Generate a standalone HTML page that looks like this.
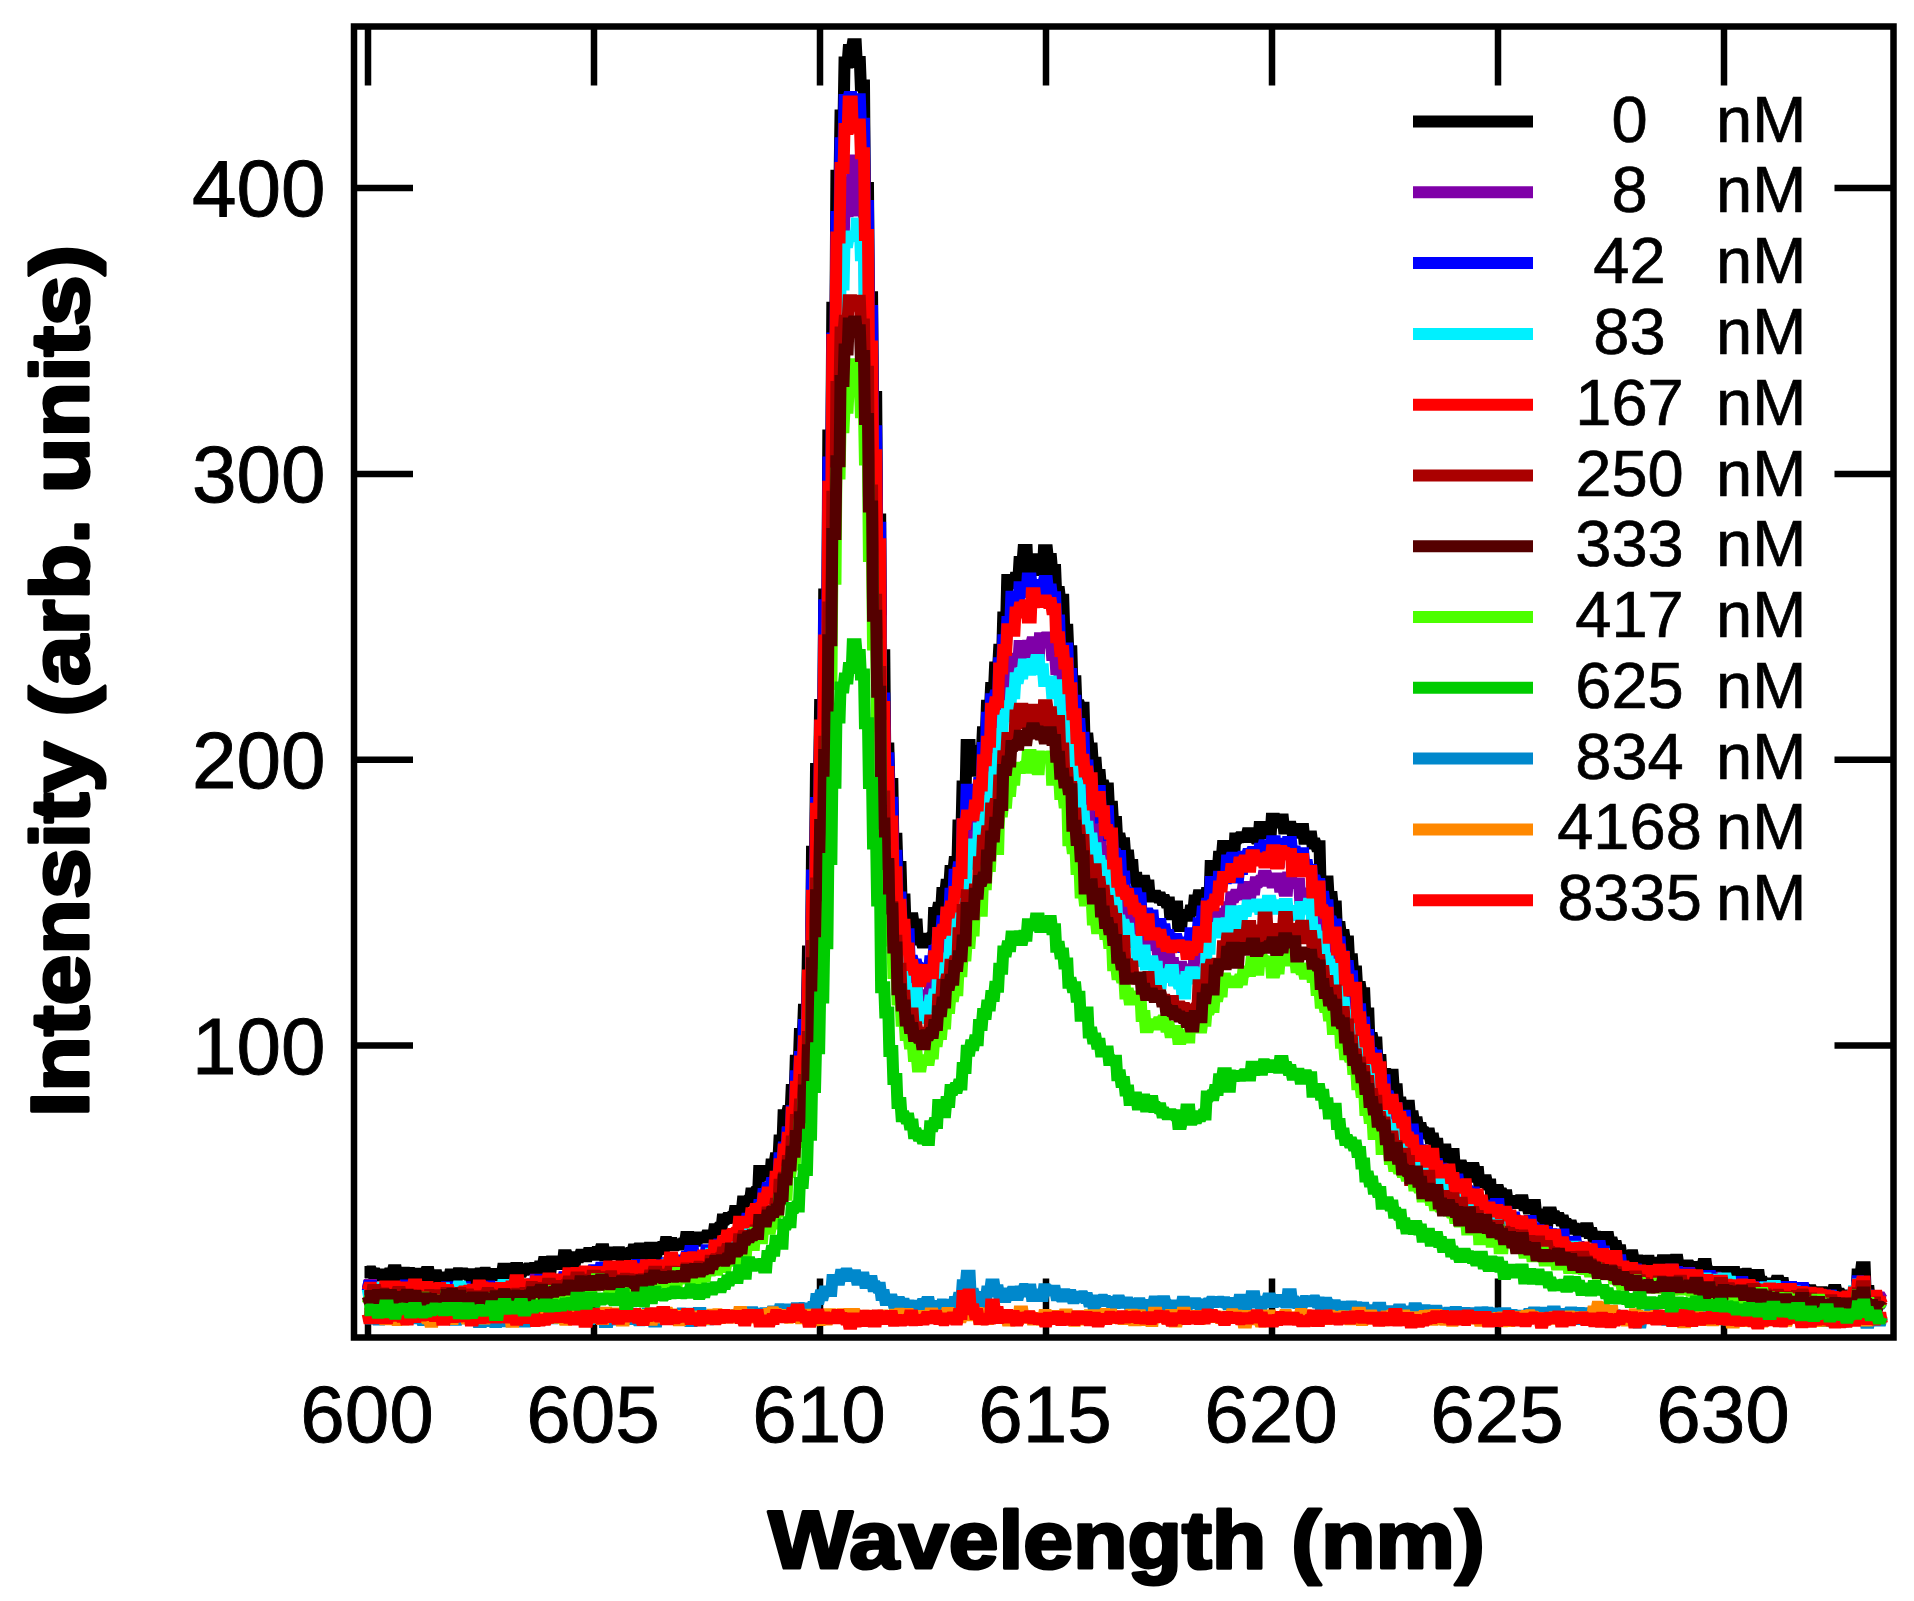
<!DOCTYPE html>
<html><head><meta charset="utf-8"><title>Emission spectra</title>
<style>html,body{margin:0;padding:0;background:#fff;} svg{display:block;}</style>
</head><body>
<svg width="1914" height="1601" viewBox="0 0 1914 1601">
<rect x="0" y="0" width="1914" height="1601" fill="#fff"/>
<path d="M368.0,26.5V85.5M368.0,1337.5V1278.5M594.0,26.5V85.5M594.0,1337.5V1278.5M820.0,26.5V85.5M820.0,1337.5V1278.5M1046.0,26.5V85.5M1046.0,1337.5V1278.5M1272.0,26.5V85.5M1272.0,1337.5V1278.5M1498.0,26.5V85.5M1498.0,1337.5V1278.5M1724.0,26.5V85.5M1724.0,1337.5V1278.5M354.0,1045.5H413.0M1893.5,1045.5H1834.5M354.0,759.7H413.0M1893.5,759.7H1834.5M354.0,473.9H413.0M1893.5,473.9H1834.5M354.0,188.1H413.0M1893.5,188.1H1834.5" stroke="#000" stroke-width="6.5" fill="none"/>
<rect x="354.0" y="26.5" width="1539.5" height="1311.0" fill="none" stroke="#000" stroke-width="6.5"/>
<g fill="none" stroke-width="12" stroke-linejoin="miter" stroke-miterlimit="3" stroke-linecap="butt">
<polyline stroke="#000000" points="364.5,1272.0 367.7,1272.0 368.6,1271.5 371.7,1271.5 372.6,1273.4 375.8,1273.4 376.7,1275.4 379.9,1275.4 380.8,1274.5 383.9,1274.5 384.8,1276.3 388.0,1276.3 388.9,1273.6 392.1,1273.6 393.0,1270.2 396.1,1270.2 397.0,1275.3 400.2,1275.3 401.1,1275.7 404.3,1275.7 405.2,1272.7 408.3,1272.7 409.2,1273.0 412.4,1273.0 413.3,1273.7 416.5,1273.7 417.4,1276.6 420.6,1276.6 421.5,1274.1 424.6,1274.1 425.5,1272.1 428.7,1272.1 429.6,1277.7 432.8,1277.7 433.7,1275.3 436.8,1275.3 437.7,1279.2 440.9,1279.2 441.8,1277.5 445.0,1277.5 445.9,1279.1 449.0,1279.1 449.9,1274.6 453.1,1274.6 454.0,1277.5 457.2,1277.5 458.1,1273.2 461.2,1273.2 462.1,1273.5 465.3,1273.5 466.2,1274.3 469.4,1274.3 470.3,1280.6 473.4,1280.6 474.3,1275.0 477.5,1275.0 478.4,1273.5 481.6,1273.5 482.5,1272.8 485.6,1272.8 486.5,1277.1 489.7,1277.1 490.6,1273.9 493.8,1273.9 494.7,1275.1 497.8,1275.1 498.7,1274.3 501.9,1274.3 502.8,1268.8 506.0,1268.8 506.9,1273.7 510.0,1273.7 510.9,1271.1 514.1,1271.1 515.0,1268.1 518.2,1268.1 519.1,1271.7 522.3,1271.7 523.2,1269.8 526.3,1269.8 527.2,1268.6 530.4,1268.6 531.3,1268.1 534.5,1268.1 535.4,1271.1 538.5,1271.1 539.4,1266.6 542.6,1266.6 543.5,1262.1 546.7,1262.1 547.6,1269.5 550.7,1269.5 551.6,1261.5 554.8,1261.5 555.7,1262.7 558.9,1262.7 559.8,1263.9 562.9,1263.9 563.8,1255.2 567.0,1255.2 567.9,1257.7 571.1,1257.7 572.0,1262.3 575.1,1262.3 576.0,1257.3 579.2,1257.3 580.1,1254.8 583.3,1254.8 584.2,1256.2 587.3,1256.2 588.2,1252.9 591.4,1252.9 592.3,1254.7 595.5,1254.7 596.4,1252.0 599.5,1252.0 600.4,1249.3 603.6,1249.3 604.5,1255.4 607.7,1255.4 608.6,1252.5 611.7,1252.5 612.6,1254.3 615.8,1254.3 616.7,1252.3 619.9,1252.3 620.8,1256.2 624.0,1256.2 624.9,1254.3 628.0,1254.3 628.9,1253.0 632.1,1253.0 633.0,1249.5 636.2,1249.5 637.1,1248.5 640.2,1248.5 641.1,1255.6 644.3,1255.6 645.2,1253.1 648.4,1253.1 649.3,1247.7 652.4,1247.7 653.3,1254.8 656.5,1254.8 657.4,1249.0 660.6,1249.0 661.5,1247.0 664.6,1247.0 665.5,1242.0 668.7,1242.0 669.6,1243.0 672.8,1243.0 673.7,1245.3 676.8,1245.3 677.7,1244.6 680.9,1244.6 681.8,1243.4 685.0,1243.4 685.9,1237.0 689.0,1237.0 689.9,1242.3 693.1,1242.3 694.0,1240.8 697.2,1240.8 698.1,1237.5 701.2,1237.5 702.1,1237.5 705.3,1237.5 706.2,1235.5 709.4,1235.5 710.3,1235.7 713.4,1235.7 714.3,1229.2 717.5,1229.2 718.4,1227.8 721.6,1227.8 722.5,1219.4 725.7,1219.4 726.6,1218.0 729.7,1218.0 730.6,1217.0 733.8,1217.0 734.7,1211.0 737.9,1211.0 738.8,1210.7 741.9,1210.7 742.8,1201.5 746.0,1201.5 746.9,1200.7 750.1,1200.7 751.0,1193.4 754.1,1193.4 755.0,1191.9 758.2,1191.9 759.1,1171.0 762.3,1171.0 763.2,1172.3 766.3,1172.3 767.2,1175.5 770.4,1175.5 771.3,1164.4 774.5,1164.4 775.4,1158.3 778.5,1158.3 779.4,1140.4 782.6,1140.4 783.5,1115.3 786.7,1115.3 787.6,1111.1 790.7,1111.1 791.6,1089.9 794.8,1089.9 795.7,1060.8 798.9,1060.8 799.8,1033.9 802.9,1033.9 803.8,1009.7 807.0,1009.7 807.9,951.6 811.1,951.6 812.0,851.8 815.1,851.8 816.0,768.9 819.2,768.9 820.1,704.9 823.3,704.9 824.2,594.6 827.4,594.6 828.3,435.5 831.4,435.5 832.3,307.8 835.5,307.8 836.4,175.7 839.6,175.7 840.5,115.5 843.6,115.5 844.5,62.4 847.7,62.4 848.6,50.0 851.8,50.0 852.7,44.3 855.8,44.3 856.7,62.1 859.9,62.1 860.8,85.4 864.0,85.4 864.9,187.9 868.0,187.9 868.9,297.2 872.1,297.2 873.0,396.9 876.2,396.9 877.1,519.5 880.2,519.5 881.1,655.2 884.3,655.2 885.2,748.4 888.4,748.4 889.3,783.9 892.4,783.9 893.3,838.7 896.5,838.7 897.4,866.9 900.6,866.9 901.5,899.6 904.6,899.6 905.5,924.5 908.7,924.5 909.6,918.3 912.8,918.3 913.7,924.5 916.8,924.5 917.7,939.4 920.9,939.4 921.8,942.5 925.0,942.5 925.9,938.8 929.1,938.8 930.0,937.7 933.1,937.7 934.0,912.9 937.2,912.9 938.1,907.8 941.3,907.8 942.2,892.9 945.3,892.9 946.2,884.8 949.4,884.8 950.3,870.9 953.5,870.9 954.4,861.9 957.5,861.9 958.4,825.4 961.6,825.4 962.5,786.6 965.7,786.6 966.6,745.0 969.7,745.0 970.6,767.9 973.8,767.9 974.7,770.7 977.9,770.7 978.8,751.0 981.9,751.0 982.8,732.3 986.0,732.3 986.9,705.8 990.1,705.8 991.0,688.0 994.1,688.0 995.0,667.4 998.2,667.4 999.1,649.8 1002.3,649.8 1003.2,617.6 1006.3,617.6 1007.2,579.9 1010.4,579.9 1011.3,583.3 1014.5,583.3 1015.4,577.7 1018.5,577.7 1019.4,562.1 1022.6,562.1 1023.5,550.1 1026.7,550.1 1027.6,570.2 1030.8,570.2 1031.7,559.3 1034.8,559.3 1035.7,561.8 1038.9,561.8 1039.8,570.1 1043.0,570.1 1043.9,550.2 1047.0,550.2 1047.9,559.1 1051.1,559.1 1052.0,569.9 1055.2,569.9 1056.1,592.1 1059.2,592.1 1060.1,599.8 1063.3,599.8 1064.2,629.7 1067.4,629.7 1068.3,651.2 1071.4,651.2 1072.3,681.3 1075.5,681.3 1076.4,705.2 1079.6,705.2 1080.5,707.7 1083.6,707.7 1084.5,738.6 1087.7,738.6 1088.6,748.5 1091.8,748.5 1092.7,762.7 1095.8,762.7 1096.7,775.0 1099.9,775.0 1100.8,785.5 1104.0,785.5 1104.9,788.6 1108.0,788.6 1108.9,806.8 1112.1,806.8 1113.0,822.1 1116.2,822.1 1117.1,838.4 1120.2,838.4 1121.1,843.3 1124.3,843.3 1125.2,855.5 1128.4,855.5 1129.3,864.9 1132.5,864.9 1133.4,877.8 1136.5,877.8 1137.4,889.2 1140.6,889.2 1141.5,880.7 1144.7,880.7 1145.6,885.6 1148.7,885.6 1149.6,896.4 1152.8,896.4 1153.7,895.7 1156.9,895.7 1157.8,897.4 1160.9,897.4 1161.8,900.0 1165.0,900.0 1165.9,902.5 1169.1,902.5 1170.0,914.3 1173.1,914.3 1174.0,906.6 1177.2,906.6 1178.1,926.1 1181.3,926.1 1182.2,914.9 1185.3,914.9 1186.2,915.8 1189.4,915.8 1190.3,910.5 1193.5,910.5 1194.4,900.5 1197.5,900.5 1198.4,895.3 1201.6,895.3 1202.5,901.1 1205.7,901.1 1206.6,893.1 1209.7,893.1 1210.6,865.9 1213.8,865.9 1214.7,869.5 1217.9,869.5 1218.8,856.8 1221.9,856.8 1222.8,846.0 1226.0,846.0 1226.9,857.1 1230.1,857.1 1231.0,856.4 1234.2,856.4 1235.1,838.4 1238.2,838.4 1239.1,837.3 1242.3,837.3 1243.2,837.0 1246.4,837.0 1247.3,833.2 1250.4,833.2 1251.3,836.8 1254.5,836.8 1255.4,838.4 1258.6,838.4 1259.5,827.1 1262.6,827.1 1263.5,830.0 1266.7,830.0 1267.6,832.9 1270.8,832.9 1271.7,818.7 1274.8,818.7 1275.7,822.4 1278.9,822.4 1279.8,819.4 1283.0,819.4 1283.9,828.4 1287.0,828.4 1287.9,826.7 1291.1,826.7 1292.0,830.7 1295.2,830.7 1296.1,832.7 1299.2,832.7 1300.1,828.9 1303.3,828.9 1304.2,838.8 1307.4,838.8 1308.3,836.6 1311.4,836.6 1312.3,843.5 1315.5,843.5 1316.4,846.2 1319.6,846.2 1320.5,883.5 1323.6,883.5 1324.5,881.5 1327.7,881.5 1328.6,897.1 1331.8,897.1 1332.7,906.5 1335.9,906.5 1336.8,927.0 1339.9,927.0 1340.8,934.9 1344.0,934.9 1344.9,941.6 1348.1,941.6 1349.0,959.3 1352.1,959.3 1353.0,971.4 1356.2,971.4 1357.1,986.9 1360.3,986.9 1361.2,993.3 1364.3,993.3 1365.2,1013.6 1368.4,1013.6 1369.3,1038.1 1372.5,1038.1 1373.4,1042.4 1376.5,1042.4 1377.4,1060.1 1380.6,1060.1 1381.5,1077.1 1384.7,1077.1 1385.6,1074.1 1388.7,1074.1 1389.6,1074.7 1392.8,1074.7 1393.7,1089.2 1396.9,1089.2 1397.8,1102.4 1400.9,1102.4 1401.8,1108.4 1405.0,1108.4 1405.9,1105.7 1409.1,1105.7 1410.0,1116.2 1413.1,1116.2 1414.0,1122.3 1417.2,1122.3 1418.1,1128.0 1421.3,1128.0 1422.2,1132.3 1425.3,1132.3 1426.2,1133.4 1429.4,1133.4 1430.3,1138.5 1433.5,1138.5 1434.4,1143.7 1437.6,1143.7 1438.5,1152.5 1441.6,1152.5 1442.5,1149.5 1445.7,1149.5 1446.6,1157.8 1449.8,1157.8 1450.7,1154.0 1453.8,1154.0 1454.7,1166.8 1457.9,1166.8 1458.8,1165.6 1462.0,1165.6 1462.9,1168.3 1466.0,1168.3 1466.9,1176.7 1470.1,1176.7 1471.0,1167.9 1474.2,1167.9 1475.1,1171.9 1478.2,1171.9 1479.1,1182.2 1482.3,1182.2 1483.2,1180.2 1486.4,1180.2 1487.3,1184.4 1490.4,1184.4 1491.3,1198.2 1494.5,1198.2 1495.4,1189.9 1498.6,1189.9 1499.5,1193.5 1502.6,1193.5 1503.5,1195.3 1506.7,1195.3 1507.6,1201.8 1510.8,1201.8 1511.7,1201.1 1514.8,1201.1 1515.7,1203.0 1518.9,1203.0 1519.8,1200.2 1523.0,1200.2 1523.9,1205.3 1527.0,1205.3 1527.9,1208.6 1531.1,1208.6 1532.0,1205.1 1535.2,1205.1 1536.1,1214.4 1539.3,1214.4 1540.2,1215.7 1543.3,1215.7 1544.2,1222.4 1547.4,1222.4 1548.3,1212.4 1551.5,1212.4 1552.4,1216.2 1555.5,1216.2 1556.4,1218.1 1559.6,1218.1 1560.5,1220.6 1563.7,1220.6 1564.6,1224.1 1567.7,1224.1 1568.6,1225.5 1571.8,1225.5 1572.7,1228.7 1575.9,1228.7 1576.8,1230.3 1579.9,1230.3 1580.8,1231.2 1584.0,1231.2 1584.9,1228.2 1588.1,1228.2 1589.0,1233.0 1592.1,1233.0 1593.0,1236.7 1596.2,1236.7 1597.1,1240.1 1600.3,1240.1 1601.2,1242.1 1604.3,1242.1 1605.2,1236.9 1608.4,1236.9 1609.3,1242.4 1612.5,1242.4 1613.4,1246.0 1616.5,1246.0 1617.4,1250.2 1620.6,1250.2 1621.5,1256.0 1624.7,1256.0 1625.6,1256.0 1628.7,1256.0 1629.6,1255.3 1632.8,1255.3 1633.7,1260.1 1636.9,1260.1 1637.8,1260.4 1641.0,1260.4 1641.9,1261.1 1645.0,1261.1 1645.9,1260.7 1649.1,1260.7 1650.0,1266.2 1653.2,1266.2 1654.1,1262.7 1657.2,1262.7 1658.1,1264.9 1661.3,1264.9 1662.2,1260.2 1665.4,1260.2 1666.3,1265.4 1669.4,1265.4 1670.3,1262.0 1673.5,1262.0 1674.4,1259.8 1677.6,1259.8 1678.5,1265.7 1681.6,1265.7 1682.5,1267.2 1685.7,1267.2 1686.6,1265.6 1689.8,1265.6 1690.7,1267.0 1693.8,1267.0 1694.7,1270.6 1697.9,1270.6 1698.8,1267.4 1702.0,1267.4 1702.9,1263.9 1706.0,1263.9 1706.9,1271.2 1710.1,1271.2 1711.0,1271.9 1714.2,1271.9 1715.1,1275.1 1718.2,1275.1 1719.1,1272.1 1722.3,1272.1 1723.2,1277.3 1726.4,1277.3 1727.3,1277.7 1730.4,1277.7 1731.3,1272.0 1734.5,1272.0 1735.4,1278.7 1738.6,1278.7 1739.5,1274.2 1742.7,1274.2 1743.6,1273.8 1746.7,1273.8 1747.6,1278.0 1750.8,1278.0 1751.7,1278.0 1754.9,1278.0 1755.8,1275.1 1758.9,1275.1 1759.8,1281.7 1763.0,1281.7 1763.9,1283.5 1767.1,1283.5 1768.0,1286.4 1771.1,1286.4 1772.0,1283.6 1775.2,1283.6 1776.1,1280.8 1779.3,1280.8 1780.2,1283.1 1783.3,1283.1 1784.2,1288.9 1787.4,1288.9 1788.3,1289.6 1791.5,1289.6 1792.4,1289.5 1795.5,1289.5 1796.4,1288.2 1799.6,1288.2 1800.5,1290.1 1803.7,1290.1 1804.6,1289.7 1807.7,1289.7 1808.6,1290.2 1811.8,1290.2 1812.7,1292.3 1815.9,1292.3 1816.8,1292.3 1819.9,1292.3 1820.8,1292.3 1824.0,1292.3 1824.9,1293.6 1828.1,1293.6 1829.0,1292.8 1832.1,1292.8 1833.0,1290.0 1836.2,1290.0 1837.1,1293.7 1840.3,1293.7 1841.2,1295.6 1844.4,1295.6 1845.3,1300.3 1848.4,1300.3 1849.3,1295.6 1852.5,1295.6 1853.4,1297.1 1856.6,1297.1 1857.5,1274.4 1860.6,1274.4 1861.5,1267.2 1864.7,1267.2 1865.6,1291.1 1868.8,1291.1 1869.7,1299.1 1872.8,1299.1 1873.7,1303.4 1876.9,1303.4 1877.8,1300.5 1881.0,1300.5 1881.9,1301.5"/>
<polyline stroke="#7F00A8" points="364.5,1288.7 367.7,1288.7 368.6,1284.9 371.7,1284.9 372.6,1290.3 375.8,1290.3 376.7,1293.1 379.9,1293.1 380.8,1294.3 383.9,1294.3 384.8,1291.8 388.0,1291.8 388.9,1292.3 392.1,1292.3 393.0,1294.8 396.1,1294.8 397.0,1291.8 400.2,1291.8 401.1,1294.9 404.3,1294.9 405.2,1289.3 408.3,1289.3 409.2,1289.4 412.4,1289.4 413.3,1289.4 416.5,1289.4 417.4,1293.2 420.6,1293.2 421.5,1290.8 424.6,1290.8 425.5,1292.4 428.7,1292.4 429.6,1293.0 432.8,1293.0 433.7,1292.9 436.8,1292.9 437.7,1295.3 440.9,1295.3 441.8,1295.7 445.0,1295.7 445.9,1290.1 449.0,1290.1 449.9,1292.5 453.1,1292.5 454.0,1291.5 457.2,1291.5 458.1,1289.6 461.2,1289.6 462.1,1296.3 465.3,1296.3 466.2,1293.9 469.4,1293.9 470.3,1291.3 473.4,1291.3 474.3,1290.7 477.5,1290.7 478.4,1292.4 481.6,1292.4 482.5,1288.7 485.6,1288.7 486.5,1290.5 489.7,1290.5 490.6,1293.8 493.8,1293.8 494.7,1292.9 497.8,1292.9 498.7,1288.3 501.9,1288.3 502.8,1288.9 506.0,1288.9 506.9,1294.5 510.0,1294.5 510.9,1285.9 514.1,1285.9 515.0,1287.4 518.2,1287.4 519.1,1285.0 522.3,1285.0 523.2,1288.9 526.3,1288.9 527.2,1288.2 530.4,1288.2 531.3,1289.7 534.5,1289.7 535.4,1279.7 538.5,1279.7 539.4,1286.0 542.6,1286.0 543.5,1280.6 546.7,1280.6 547.6,1285.6 550.7,1285.6 551.6,1282.6 554.8,1282.6 555.7,1286.5 558.9,1286.5 559.8,1282.2 562.9,1282.2 563.8,1277.6 567.0,1277.6 567.9,1282.6 571.1,1282.6 572.0,1275.3 575.1,1275.3 576.0,1276.2 579.2,1276.2 580.1,1279.0 583.3,1279.0 584.2,1276.7 587.3,1276.7 588.2,1276.0 591.4,1276.0 592.3,1274.4 595.5,1274.4 596.4,1275.4 599.5,1275.4 600.4,1275.8 603.6,1275.8 604.5,1274.1 607.7,1274.1 608.6,1275.9 611.7,1275.9 612.6,1276.4 615.8,1276.4 616.7,1272.8 619.9,1272.8 620.8,1270.1 624.0,1270.1 624.9,1276.7 628.0,1276.7 628.9,1272.4 632.1,1272.4 633.0,1274.0 636.2,1274.0 637.1,1274.7 640.2,1274.7 641.1,1269.2 644.3,1269.2 645.2,1272.3 648.4,1272.3 649.3,1265.7 652.4,1265.7 653.3,1271.2 656.5,1271.2 657.4,1266.9 660.6,1266.9 661.5,1267.9 664.6,1267.9 665.5,1268.6 668.7,1268.6 669.6,1264.1 672.8,1264.1 673.7,1265.5 676.8,1265.5 677.7,1262.5 680.9,1262.5 681.8,1263.6 685.0,1263.6 685.9,1265.9 689.0,1265.9 689.9,1262.2 693.1,1262.2 694.0,1260.8 697.2,1260.8 698.1,1257.1 701.2,1257.1 702.1,1261.2 705.3,1261.2 706.2,1256.5 709.4,1256.5 710.3,1259.1 713.4,1259.1 714.3,1249.3 717.5,1249.3 718.4,1252.0 721.6,1252.0 722.5,1251.6 725.7,1251.6 726.6,1243.3 729.7,1243.3 730.6,1236.6 733.8,1236.6 734.7,1241.8 737.9,1241.8 738.8,1236.9 741.9,1236.9 742.8,1232.0 746.0,1232.0 746.9,1229.1 750.1,1229.1 751.0,1219.6 754.1,1219.6 755.0,1218.7 758.2,1218.7 759.1,1213.0 762.3,1213.0 763.2,1202.6 766.3,1202.6 767.2,1201.2 770.4,1201.2 771.3,1189.9 774.5,1189.9 775.4,1187.1 778.5,1187.1 779.4,1175.9 782.6,1175.9 783.5,1164.0 786.7,1164.0 787.6,1132.6 790.7,1132.6 791.6,1123.3 794.8,1123.3 795.7,1097.9 798.9,1097.9 799.8,1076.0 802.9,1076.0 803.8,1049.9 807.0,1049.9 807.9,997.4 811.1,997.4 812.0,900.6 815.1,900.6 816.0,842.2 819.2,842.2 820.1,778.0 823.3,778.0 824.2,680.6 827.4,680.6 828.3,540.0 831.4,540.0 832.3,397.8 835.5,397.8 836.4,287.5 839.6,287.5 840.5,239.1 843.6,239.1 844.5,211.3 847.7,211.3 848.6,183.3 851.8,183.3 852.7,160.6 855.8,160.6 856.7,210.6 859.9,210.6 860.8,204.4 864.0,204.4 864.9,296.1 868.0,296.1 868.9,384.9 872.1,384.9 873.0,505.6 876.2,505.6 877.1,592.1 880.2,592.1 881.1,745.3 884.3,745.3 885.2,809.7 888.4,809.7 889.3,842.9 892.4,842.9 893.3,887.6 896.5,887.6 897.4,930.7 900.6,930.7 901.5,960.4 904.6,960.4 905.5,980.9 908.7,980.9 909.6,983.0 912.8,983.0 913.7,988.6 916.8,988.6 917.7,995.2 920.9,995.2 921.8,997.2 925.0,997.2 925.9,999.7 929.1,999.7 930.0,988.1 933.1,988.1 934.0,975.3 937.2,975.3 938.1,953.2 941.3,953.2 942.2,937.7 945.3,937.7 946.2,936.6 949.4,936.6 950.3,927.7 953.5,927.7 954.4,911.2 957.5,911.2 958.4,897.6 961.6,897.6 962.5,866.3 965.7,866.3 966.6,837.1 969.7,837.1 970.6,845.0 973.8,845.0 974.7,826.4 977.9,826.4 978.8,814.8 981.9,814.8 982.8,793.9 986.0,793.9 986.9,776.2 990.1,776.2 991.0,761.3 994.1,761.3 995.0,744.6 998.2,744.6 999.1,716.4 1002.3,716.4 1003.2,693.1 1006.3,693.1 1007.2,670.3 1010.4,670.3 1011.3,658.8 1014.5,658.8 1015.4,661.0 1018.5,661.0 1019.4,646.1 1022.6,646.1 1023.5,653.3 1026.7,653.3 1027.6,645.8 1030.8,645.8 1031.7,642.3 1034.8,642.3 1035.7,654.9 1038.9,654.9 1039.8,638.2 1043.0,638.2 1043.9,637.5 1047.0,637.5 1047.9,642.5 1051.1,642.5 1052.0,655.0 1055.2,655.0 1056.1,669.0 1059.2,669.0 1060.1,688.8 1063.3,688.8 1064.2,704.0 1067.4,704.0 1068.3,728.1 1071.4,728.1 1072.3,744.7 1075.5,744.7 1076.4,774.6 1079.6,774.6 1080.5,783.7 1083.6,783.7 1084.5,800.6 1087.7,800.6 1088.6,816.5 1091.8,816.5 1092.7,829.3 1095.8,829.3 1096.7,831.7 1099.9,831.7 1100.8,854.9 1104.0,854.9 1104.9,851.3 1108.0,851.3 1108.9,863.6 1112.1,863.6 1113.0,878.2 1116.2,878.2 1117.1,893.5 1120.2,893.5 1121.1,910.7 1124.3,910.7 1125.2,916.6 1128.4,916.6 1129.3,918.2 1132.5,918.2 1133.4,925.8 1136.5,925.8 1137.4,933.0 1140.6,933.0 1141.5,948.1 1144.7,948.1 1145.6,940.8 1148.7,940.8 1149.6,941.0 1152.8,941.0 1153.7,945.0 1156.9,945.0 1157.8,952.2 1160.9,952.2 1161.8,964.9 1165.0,964.9 1165.9,953.6 1169.1,953.6 1170.0,963.0 1173.1,963.0 1174.0,979.9 1177.2,979.9 1178.1,966.7 1181.3,966.7 1182.2,978.1 1185.3,978.1 1186.2,975.9 1189.4,975.9 1190.3,969.5 1193.5,969.5 1194.4,955.1 1197.5,955.1 1198.4,957.6 1201.6,957.6 1202.5,944.9 1205.7,944.9 1206.6,925.9 1209.7,925.9 1210.6,916.0 1213.8,916.0 1214.7,918.8 1217.9,918.8 1218.8,913.7 1221.9,913.7 1222.8,914.8 1226.0,914.8 1226.9,907.3 1230.1,907.3 1231.0,897.3 1234.2,897.3 1235.1,894.8 1238.2,894.8 1239.1,894.2 1242.3,894.2 1243.2,887.0 1246.4,887.0 1247.3,895.8 1250.4,895.8 1251.3,889.5 1254.5,889.5 1255.4,882.3 1258.6,882.3 1259.5,880.8 1262.6,880.8 1263.5,875.7 1266.7,875.7 1267.6,878.5 1270.8,878.5 1271.7,882.6 1274.8,882.6 1275.7,878.5 1278.9,878.5 1279.8,886.8 1283.0,886.8 1283.9,890.7 1287.0,890.7 1287.9,877.6 1291.1,877.6 1292.0,883.1 1295.2,883.1 1296.1,883.4 1299.2,883.4 1300.1,898.4 1303.3,898.4 1304.2,893.6 1307.4,893.6 1308.3,899.6 1311.4,899.6 1312.3,907.4 1315.5,907.4 1316.4,927.5 1319.6,927.5 1320.5,930.9 1323.6,930.9 1324.5,934.6 1327.7,934.6 1328.6,946.4 1331.8,946.4 1332.7,960.9 1335.9,960.9 1336.8,968.6 1339.9,968.6 1340.8,976.9 1344.0,976.9 1344.9,1008.2 1348.1,1008.2 1349.0,1005.9 1352.1,1005.9 1353.0,1014.2 1356.2,1014.2 1357.1,1025.9 1360.3,1025.9 1361.2,1033.7 1364.3,1033.7 1365.2,1049.4 1368.4,1049.4 1369.3,1065.6 1372.5,1065.6 1373.4,1076.6 1376.5,1076.6 1377.4,1084.8 1380.6,1084.8 1381.5,1100.9 1384.7,1100.9 1385.6,1107.9 1388.7,1107.9 1389.6,1112.4 1392.8,1112.4 1393.7,1115.5 1396.9,1115.5 1397.8,1131.6 1400.9,1131.6 1401.8,1137.6 1405.0,1137.6 1405.9,1142.6 1409.1,1142.6 1410.0,1143.5 1413.1,1143.5 1414.0,1154.3 1417.2,1154.3 1418.1,1153.0 1421.3,1153.0 1422.2,1167.1 1425.3,1167.1 1426.2,1167.9 1429.4,1167.9 1430.3,1171.6 1433.5,1171.6 1434.4,1171.2 1437.6,1171.2 1438.5,1173.5 1441.6,1173.5 1442.5,1186.4 1445.7,1186.4 1446.6,1187.2 1449.8,1187.2 1450.7,1185.5 1453.8,1185.5 1454.7,1192.3 1457.9,1192.3 1458.8,1198.5 1462.0,1198.5 1462.9,1192.0 1466.0,1192.0 1466.9,1196.9 1470.1,1196.9 1471.0,1199.7 1474.2,1199.7 1475.1,1205.9 1478.2,1205.9 1479.1,1203.2 1482.3,1203.2 1483.2,1210.2 1486.4,1210.2 1487.3,1207.9 1490.4,1207.9 1491.3,1217.3 1494.5,1217.3 1495.4,1219.3 1498.6,1219.3 1499.5,1217.8 1502.6,1217.8 1503.5,1223.1 1506.7,1223.1 1507.6,1220.5 1510.8,1220.5 1511.7,1223.9 1514.8,1223.9 1515.7,1229.9 1518.9,1229.9 1519.8,1228.5 1523.0,1228.5 1523.9,1231.7 1527.0,1231.7 1527.9,1229.4 1531.1,1229.4 1532.0,1236.3 1535.2,1236.3 1536.1,1237.4 1539.3,1237.4 1540.2,1233.8 1543.3,1233.8 1544.2,1232.1 1547.4,1232.1 1548.3,1234.3 1551.5,1234.3 1552.4,1241.8 1555.5,1241.8 1556.4,1242.7 1559.6,1242.7 1560.5,1239.9 1563.7,1239.9 1564.6,1246.4 1567.7,1246.4 1568.6,1250.4 1571.8,1250.4 1572.7,1248.4 1575.9,1248.4 1576.8,1248.7 1579.9,1248.7 1580.8,1254.1 1584.0,1254.1 1584.9,1257.9 1588.1,1257.9 1589.0,1258.7 1592.1,1258.7 1593.0,1253.7 1596.2,1253.7 1597.1,1259.4 1600.3,1259.4 1601.2,1259.0 1604.3,1259.0 1605.2,1259.5 1608.4,1259.5 1609.3,1260.0 1612.5,1260.0 1613.4,1264.6 1616.5,1264.6 1617.4,1264.7 1620.6,1264.7 1621.5,1271.7 1624.7,1271.7 1625.6,1272.9 1628.7,1272.9 1629.6,1276.4 1632.8,1276.4 1633.7,1271.2 1636.9,1271.2 1637.8,1275.0 1641.0,1275.0 1641.9,1277.4 1645.0,1277.4 1645.9,1276.7 1649.1,1276.7 1650.0,1276.6 1653.2,1276.6 1654.1,1274.3 1657.2,1274.3 1658.1,1280.8 1661.3,1280.8 1662.2,1279.4 1665.4,1279.4 1666.3,1277.8 1669.4,1277.8 1670.3,1270.2 1673.5,1270.2 1674.4,1274.7 1677.6,1274.7 1678.5,1278.0 1681.6,1278.0 1682.5,1276.2 1685.7,1276.2 1686.6,1273.1 1689.8,1273.1 1690.7,1279.8 1693.8,1279.8 1694.7,1280.7 1697.9,1280.7 1698.8,1277.1 1702.0,1277.1 1702.9,1279.7 1706.0,1279.7 1706.9,1279.8 1710.1,1279.8 1711.0,1283.6 1714.2,1283.6 1715.1,1277.8 1718.2,1277.8 1719.1,1278.9 1722.3,1278.9 1723.2,1282.5 1726.4,1282.5 1727.3,1282.8 1730.4,1282.8 1731.3,1290.4 1734.5,1290.4 1735.4,1284.0 1738.6,1284.0 1739.5,1286.7 1742.7,1286.7 1743.6,1285.7 1746.7,1285.7 1747.6,1285.6 1750.8,1285.6 1751.7,1288.8 1754.9,1288.8 1755.8,1292.8 1758.9,1292.8 1759.8,1288.1 1763.0,1288.1 1763.9,1291.5 1767.1,1291.5 1768.0,1291.0 1771.1,1291.0 1772.0,1292.4 1775.2,1292.4 1776.1,1292.4 1779.3,1292.4 1780.2,1297.9 1783.3,1297.9 1784.2,1289.8 1787.4,1289.8 1788.3,1292.8 1791.5,1292.8 1792.4,1291.3 1795.5,1291.3 1796.4,1289.6 1799.6,1289.6 1800.5,1294.9 1803.7,1294.9 1804.6,1299.7 1807.7,1299.7 1808.6,1297.9 1811.8,1297.9 1812.7,1299.1 1815.9,1299.1 1816.8,1297.8 1819.9,1297.8 1820.8,1296.8 1824.0,1296.8 1824.9,1302.2 1828.1,1302.2 1829.0,1296.9 1832.1,1296.9 1833.0,1301.7 1836.2,1301.7 1837.1,1297.7 1840.3,1297.7 1841.2,1299.0 1844.4,1299.0 1845.3,1299.8 1848.4,1299.8 1849.3,1299.4 1852.5,1299.4 1853.4,1298.2 1856.6,1298.2 1857.5,1286.9 1860.6,1286.9 1861.5,1289.3 1864.7,1289.3 1865.6,1297.3 1868.8,1297.3 1869.7,1295.9 1872.8,1295.9 1873.7,1295.9 1876.9,1295.9 1877.8,1297.6 1881.0,1297.6 1881.9,1299.1"/>
<polyline stroke="#0000FF" points="364.5,1291.0 367.7,1291.0 368.6,1285.9 371.7,1285.9 372.6,1290.0 375.8,1290.0 376.7,1290.3 379.9,1290.3 380.8,1291.2 383.9,1291.2 384.8,1290.5 388.0,1290.5 388.9,1292.0 392.1,1292.0 393.0,1291.3 396.1,1291.3 397.0,1293.9 400.2,1293.9 401.1,1292.1 404.3,1292.1 405.2,1285.4 408.3,1285.4 409.2,1291.3 412.4,1291.3 413.3,1291.8 416.5,1291.8 417.4,1289.8 420.6,1289.8 421.5,1289.4 424.6,1289.4 425.5,1293.9 428.7,1293.9 429.6,1291.7 432.8,1291.7 433.7,1288.9 436.8,1288.9 437.7,1290.5 440.9,1290.5 441.8,1290.9 445.0,1290.9 445.9,1287.3 449.0,1287.3 449.9,1292.9 453.1,1292.9 454.0,1290.9 457.2,1290.9 458.1,1292.4 461.2,1292.4 462.1,1287.3 465.3,1287.3 466.2,1295.9 469.4,1295.9 470.3,1292.5 473.4,1292.5 474.3,1292.0 477.5,1292.0 478.4,1288.8 481.6,1288.8 482.5,1288.8 485.6,1288.8 486.5,1286.5 489.7,1286.5 490.6,1293.8 493.8,1293.8 494.7,1287.6 497.8,1287.6 498.7,1290.0 501.9,1290.0 502.8,1290.7 506.0,1290.7 506.9,1287.3 510.0,1287.3 510.9,1290.6 514.1,1290.6 515.0,1293.1 518.2,1293.1 519.1,1288.2 522.3,1288.2 523.2,1290.6 526.3,1290.6 527.2,1287.8 530.4,1287.8 531.3,1284.6 534.5,1284.6 535.4,1284.1 538.5,1284.1 539.4,1280.0 542.6,1280.0 543.5,1283.8 546.7,1283.8 547.6,1286.4 550.7,1286.4 551.6,1283.4 554.8,1283.4 555.7,1282.8 558.9,1282.8 559.8,1282.7 562.9,1282.7 563.8,1277.3 567.0,1277.3 567.9,1279.1 571.1,1279.1 572.0,1281.5 575.1,1281.5 576.0,1273.1 579.2,1273.1 580.1,1274.3 583.3,1274.3 584.2,1272.1 587.3,1272.1 588.2,1272.2 591.4,1272.2 592.3,1270.2 595.5,1270.2 596.4,1271.5 599.5,1271.5 600.4,1267.7 603.6,1267.7 604.5,1269.7 607.7,1269.7 608.6,1269.5 611.7,1269.5 612.6,1269.3 615.8,1269.3 616.7,1274.4 619.9,1274.4 620.8,1270.6 624.0,1270.6 624.9,1270.8 628.0,1270.8 628.9,1269.3 632.1,1269.3 633.0,1273.6 636.2,1273.6 637.1,1265.0 640.2,1265.0 641.1,1268.8 644.3,1268.8 645.2,1271.7 648.4,1271.7 649.3,1272.2 652.4,1272.2 653.3,1267.1 656.5,1267.1 657.4,1265.5 660.6,1265.5 661.5,1266.4 664.6,1266.4 665.5,1263.3 668.7,1263.3 669.6,1264.7 672.8,1264.7 673.7,1260.4 676.8,1260.4 677.7,1263.3 680.9,1263.3 681.8,1260.5 685.0,1260.5 685.9,1256.7 689.0,1256.7 689.9,1251.1 693.1,1251.1 694.0,1260.6 697.2,1260.6 698.1,1257.9 701.2,1257.9 702.1,1257.5 705.3,1257.5 706.2,1250.3 709.4,1250.3 710.3,1253.5 713.4,1253.5 714.3,1248.6 717.5,1248.6 718.4,1244.4 721.6,1244.4 722.5,1244.6 725.7,1244.6 726.6,1241.5 729.7,1241.5 730.6,1236.7 733.8,1236.7 734.7,1238.6 737.9,1238.6 738.8,1232.6 741.9,1232.6 742.8,1225.1 746.0,1225.1 746.9,1218.7 750.1,1218.7 751.0,1215.1 754.1,1215.1 755.0,1215.3 758.2,1215.3 759.1,1204.9 762.3,1204.9 763.2,1194.0 766.3,1194.0 767.2,1188.1 770.4,1188.1 771.3,1183.0 774.5,1183.0 775.4,1177.5 778.5,1177.5 779.4,1158.2 782.6,1158.2 783.5,1147.4 786.7,1147.4 787.6,1132.7 790.7,1132.7 791.6,1111.3 794.8,1111.3 795.7,1076.2 798.9,1076.2 799.8,1057.0 802.9,1057.0 803.8,1025.0 807.0,1025.0 807.9,976.4 811.1,976.4 812.0,875.5 815.1,875.5 816.0,803.0 819.2,803.0 820.1,726.7 823.3,726.7 824.2,605.3 827.4,605.3 828.3,462.5 831.4,462.5 832.3,338.4 835.5,338.4 836.4,217.0 839.6,217.0 840.5,143.3 843.6,143.3 844.5,100.1 847.7,100.1 848.6,97.1 851.8,97.1 852.7,102.9 855.8,102.9 856.7,99.2 859.9,99.2 860.8,123.8 864.0,123.8 864.9,205.9 868.0,205.9 868.9,311.1 872.1,311.1 873.0,431.2 876.2,431.2 877.1,527.7 880.2,527.7 881.1,698.4 884.3,698.4 885.2,758.3 888.4,758.3 889.3,802.7 892.4,802.7 893.3,855.7 896.5,855.7 897.4,897.6 900.6,897.6 901.5,927.4 904.6,927.4 905.5,934.2 908.7,934.2 909.6,960.8 912.8,960.8 913.7,964.5 916.8,964.5 917.7,968.1 920.9,968.1 921.8,968.7 925.0,968.7 925.9,971.9 929.1,971.9 930.0,961.3 933.1,961.3 934.0,951.0 937.2,951.0 938.1,933.0 941.3,933.0 942.2,921.3 945.3,921.3 946.2,913.9 949.4,913.9 950.3,893.7 953.5,893.7 954.4,874.7 957.5,874.7 958.4,867.3 961.6,867.3 962.5,824.5 965.7,824.5 966.6,789.8 969.7,789.8 970.6,807.1 973.8,807.1 974.7,792.0 977.9,792.0 978.8,783.0 981.9,783.0 982.8,748.1 986.0,748.1 986.9,717.7 990.1,717.7 991.0,699.3 994.1,699.3 995.0,695.5 998.2,695.5 999.1,663.3 1002.3,663.3 1003.2,640.3 1006.3,640.3 1007.2,621.9 1010.4,621.9 1011.3,596.7 1014.5,596.7 1015.4,610.1 1018.5,610.1 1019.4,587.2 1022.6,587.2 1023.5,592.2 1026.7,592.2 1027.6,578.6 1030.8,578.6 1031.7,586.9 1034.8,586.9 1035.7,592.8 1038.9,592.8 1039.8,584.9 1043.0,584.9 1043.9,581.1 1047.0,581.1 1047.9,589.4 1051.1,589.4 1052.0,597.2 1055.2,597.2 1056.1,620.5 1059.2,620.5 1060.1,649.1 1063.3,649.1 1064.2,648.4 1067.4,648.4 1068.3,674.0 1071.4,674.0 1072.3,700.7 1075.5,700.7 1076.4,724.1 1079.6,724.1 1080.5,737.7 1083.6,737.7 1084.5,765.5 1087.7,765.5 1088.6,782.3 1091.8,782.3 1092.7,790.5 1095.8,790.5 1096.7,790.9 1099.9,790.9 1100.8,817.6 1104.0,817.6 1104.9,811.3 1108.0,811.3 1108.9,834.9 1112.1,834.9 1113.0,853.8 1116.2,853.8 1117.1,856.1 1120.2,856.1 1121.1,876.4 1124.3,876.4 1125.2,892.6 1128.4,892.6 1129.3,894.3 1132.5,894.3 1133.4,893.4 1136.5,893.4 1137.4,898.2 1140.6,898.2 1141.5,913.5 1144.7,913.5 1145.6,913.4 1148.7,913.4 1149.6,915.6 1152.8,915.6 1153.7,927.0 1156.9,927.0 1157.8,924.1 1160.9,924.1 1161.8,929.2 1165.0,929.2 1165.9,935.1 1169.1,935.1 1170.0,938.4 1173.1,938.4 1174.0,939.1 1177.2,939.1 1178.1,942.4 1181.3,942.4 1182.2,947.0 1185.3,947.0 1186.2,945.0 1189.4,945.0 1190.3,933.2 1193.5,933.2 1194.4,934.3 1197.5,934.3 1198.4,923.2 1201.6,923.2 1202.5,911.4 1205.7,911.4 1206.6,903.8 1209.7,903.8 1210.6,882.0 1213.8,882.0 1214.7,893.1 1217.9,893.1 1218.8,876.8 1221.9,876.8 1222.8,878.3 1226.0,878.3 1226.9,860.5 1230.1,860.5 1231.0,857.8 1234.2,857.8 1235.1,877.5 1238.2,877.5 1239.1,869.0 1242.3,869.0 1243.2,856.8 1246.4,856.8 1247.3,854.0 1250.4,854.0 1251.3,852.1 1254.5,852.1 1255.4,854.7 1258.6,854.7 1259.5,848.7 1262.6,848.7 1263.5,845.2 1266.7,845.2 1267.6,848.4 1270.8,848.4 1271.7,841.2 1274.8,841.2 1275.7,861.9 1278.9,861.9 1279.8,843.7 1283.0,843.7 1283.9,854.2 1287.0,854.2 1287.9,842.1 1291.1,842.1 1292.0,851.4 1295.2,851.4 1296.1,858.2 1299.2,858.2 1300.1,853.3 1303.3,853.3 1304.2,864.9 1307.4,864.9 1308.3,869.9 1311.4,869.9 1312.3,880.6 1315.5,880.6 1316.4,883.9 1319.6,883.9 1320.5,896.7 1323.6,896.7 1324.5,905.3 1327.7,905.3 1328.6,921.6 1331.8,921.6 1332.7,924.4 1335.9,924.4 1336.8,942.2 1339.9,942.2 1340.8,956.4 1344.0,956.4 1344.9,966.0 1348.1,966.0 1349.0,976.2 1352.1,976.2 1353.0,996.5 1356.2,996.5 1357.1,1009.2 1360.3,1009.2 1361.2,1022.6 1364.3,1022.6 1365.2,1035.1 1368.4,1035.1 1369.3,1053.1 1372.5,1053.1 1373.4,1055.4 1376.5,1055.4 1377.4,1073.6 1380.6,1073.6 1381.5,1080.2 1384.7,1080.2 1385.6,1096.3 1388.7,1096.3 1389.6,1100.1 1392.8,1100.1 1393.7,1108.3 1396.9,1108.3 1397.8,1119.3 1400.9,1119.3 1401.8,1115.7 1405.0,1115.7 1405.9,1129.3 1409.1,1129.3 1410.0,1129.4 1413.1,1129.4 1414.0,1138.5 1417.2,1138.5 1418.1,1150.3 1421.3,1150.3 1422.2,1153.8 1425.3,1153.8 1426.2,1154.7 1429.4,1154.7 1430.3,1160.2 1433.5,1160.2 1434.4,1163.9 1437.6,1163.9 1438.5,1168.7 1441.6,1168.7 1442.5,1178.1 1445.7,1178.1 1446.6,1175.2 1449.8,1175.2 1450.7,1186.2 1453.8,1186.2 1454.7,1179.5 1457.9,1179.5 1458.8,1187.0 1462.0,1187.0 1462.9,1190.1 1466.0,1190.1 1466.9,1191.3 1470.1,1191.3 1471.0,1192.5 1474.2,1192.5 1475.1,1201.7 1478.2,1201.7 1479.1,1205.6 1482.3,1205.6 1483.2,1205.8 1486.4,1205.8 1487.3,1211.9 1490.4,1211.9 1491.3,1210.5 1494.5,1210.5 1495.4,1203.9 1498.6,1203.9 1499.5,1215.6 1502.6,1215.6 1503.5,1211.9 1506.7,1211.9 1507.6,1221.2 1510.8,1221.2 1511.7,1217.6 1514.8,1217.6 1515.7,1221.8 1518.9,1221.8 1519.8,1223.0 1523.0,1223.0 1523.9,1222.9 1527.0,1222.9 1527.9,1221.0 1531.1,1221.0 1532.0,1228.2 1535.2,1228.2 1536.1,1230.3 1539.3,1230.3 1540.2,1235.7 1543.3,1235.7 1544.2,1232.3 1547.4,1232.3 1548.3,1236.5 1551.5,1236.5 1552.4,1234.5 1555.5,1234.5 1556.4,1238.8 1559.6,1238.8 1560.5,1234.5 1563.7,1234.5 1564.6,1247.8 1567.7,1247.8 1568.6,1243.9 1571.8,1243.9 1572.7,1241.7 1575.9,1241.7 1576.8,1247.0 1579.9,1247.0 1580.8,1249.9 1584.0,1249.9 1584.9,1249.8 1588.1,1249.8 1589.0,1254.7 1592.1,1254.7 1593.0,1251.6 1596.2,1251.6 1597.1,1246.1 1600.3,1246.1 1601.2,1251.6 1604.3,1251.6 1605.2,1260.0 1608.4,1260.0 1609.3,1261.1 1612.5,1261.1 1613.4,1261.7 1616.5,1261.7 1617.4,1260.3 1620.6,1260.3 1621.5,1268.8 1624.7,1268.8 1625.6,1271.3 1628.7,1271.3 1629.6,1268.7 1632.8,1268.7 1633.7,1269.6 1636.9,1269.6 1637.8,1273.6 1641.0,1273.6 1641.9,1276.2 1645.0,1276.2 1645.9,1277.8 1649.1,1277.8 1650.0,1275.7 1653.2,1275.7 1654.1,1280.2 1657.2,1280.2 1658.1,1272.2 1661.3,1272.2 1662.2,1276.2 1665.4,1276.2 1666.3,1273.4 1669.4,1273.4 1670.3,1269.8 1673.5,1269.8 1674.4,1272.0 1677.6,1272.0 1678.5,1278.7 1681.6,1278.7 1682.5,1273.7 1685.7,1273.7 1686.6,1273.5 1689.8,1273.5 1690.7,1279.2 1693.8,1279.2 1694.7,1280.4 1697.9,1280.4 1698.8,1278.8 1702.0,1278.8 1702.9,1283.5 1706.0,1283.5 1706.9,1275.9 1710.1,1275.9 1711.0,1286.9 1714.2,1286.9 1715.1,1284.1 1718.2,1284.1 1719.1,1282.5 1722.3,1282.5 1723.2,1283.0 1726.4,1283.0 1727.3,1282.6 1730.4,1282.6 1731.3,1282.9 1734.5,1282.9 1735.4,1284.8 1738.6,1284.8 1739.5,1281.9 1742.7,1281.9 1743.6,1291.0 1746.7,1291.0 1747.6,1286.0 1750.8,1286.0 1751.7,1288.5 1754.9,1288.5 1755.8,1286.9 1758.9,1286.9 1759.8,1287.3 1763.0,1287.3 1763.9,1290.8 1767.1,1290.8 1768.0,1290.8 1771.1,1290.8 1772.0,1287.8 1775.2,1287.8 1776.1,1289.7 1779.3,1289.7 1780.2,1293.0 1783.3,1293.0 1784.2,1286.9 1787.4,1286.9 1788.3,1286.9 1791.5,1286.9 1792.4,1296.8 1795.5,1296.8 1796.4,1293.0 1799.6,1293.0 1800.5,1288.0 1803.7,1288.0 1804.6,1292.7 1807.7,1292.7 1808.6,1294.6 1811.8,1294.6 1812.7,1296.1 1815.9,1296.1 1816.8,1297.3 1819.9,1297.3 1820.8,1296.9 1824.0,1296.9 1824.9,1298.1 1828.1,1298.1 1829.0,1295.4 1832.1,1295.4 1833.0,1298.5 1836.2,1298.5 1837.1,1299.0 1840.3,1299.0 1841.2,1301.2 1844.4,1301.2 1845.3,1298.7 1848.4,1298.7 1849.3,1301.0 1852.5,1301.0 1853.4,1296.8 1856.6,1296.8 1857.5,1281.2 1860.6,1281.2 1861.5,1282.4 1864.7,1282.4 1865.6,1295.4 1868.8,1295.4 1869.7,1299.1 1872.8,1299.1 1873.7,1300.1 1876.9,1300.1 1877.8,1300.7 1881.0,1300.7 1881.9,1301.2"/>
<polyline stroke="#00F0FF" points="364.5,1289.1 367.7,1289.1 368.6,1294.0 371.7,1294.0 372.6,1288.2 375.8,1288.2 376.7,1291.7 379.9,1291.7 380.8,1293.9 383.9,1293.9 384.8,1293.5 388.0,1293.5 388.9,1294.1 392.1,1294.1 393.0,1292.2 396.1,1292.2 397.0,1294.4 400.2,1294.4 401.1,1289.8 404.3,1289.8 405.2,1294.6 408.3,1294.6 409.2,1298.3 412.4,1298.3 413.3,1294.5 416.5,1294.5 417.4,1297.7 420.6,1297.7 421.5,1292.8 424.6,1292.8 425.5,1290.1 428.7,1290.1 429.6,1291.1 432.8,1291.1 433.7,1296.0 436.8,1296.0 437.7,1294.6 440.9,1294.6 441.8,1288.3 445.0,1288.3 445.9,1291.9 449.0,1291.9 449.9,1292.7 453.1,1292.7 454.0,1290.1 457.2,1290.1 458.1,1286.6 461.2,1286.6 462.1,1289.4 465.3,1289.4 466.2,1292.2 469.4,1292.2 470.3,1291.5 473.4,1291.5 474.3,1290.7 477.5,1290.7 478.4,1293.6 481.6,1293.6 482.5,1294.6 485.6,1294.6 486.5,1291.6 489.7,1291.6 490.6,1293.9 493.8,1293.9 494.7,1291.4 497.8,1291.4 498.7,1290.8 501.9,1290.8 502.8,1284.9 506.0,1284.9 506.9,1292.6 510.0,1292.6 510.9,1290.4 514.1,1290.4 515.0,1290.1 518.2,1290.1 519.1,1288.2 522.3,1288.2 523.2,1286.1 526.3,1286.1 527.2,1289.5 530.4,1289.5 531.3,1289.8 534.5,1289.8 535.4,1291.4 538.5,1291.4 539.4,1288.9 542.6,1288.9 543.5,1284.3 546.7,1284.3 547.6,1284.8 550.7,1284.8 551.6,1286.7 554.8,1286.7 555.7,1284.2 558.9,1284.2 559.8,1282.3 562.9,1282.3 563.8,1280.1 567.0,1280.1 567.9,1282.1 571.1,1282.1 572.0,1280.1 575.1,1280.1 576.0,1283.4 579.2,1283.4 580.1,1280.7 583.3,1280.7 584.2,1272.4 587.3,1272.4 588.2,1282.2 591.4,1282.2 592.3,1276.7 595.5,1276.7 596.4,1274.8 599.5,1274.8 600.4,1276.1 603.6,1276.1 604.5,1277.0 607.7,1277.0 608.6,1274.7 611.7,1274.7 612.6,1274.4 615.8,1274.4 616.7,1274.5 619.9,1274.5 620.8,1279.3 624.0,1279.3 624.9,1274.5 628.0,1274.5 628.9,1276.3 632.1,1276.3 633.0,1275.3 636.2,1275.3 637.1,1273.0 640.2,1273.0 641.1,1271.5 644.3,1271.5 645.2,1270.1 648.4,1270.1 649.3,1273.1 652.4,1273.1 653.3,1268.1 656.5,1268.1 657.4,1266.5 660.6,1266.5 661.5,1265.9 664.6,1265.9 665.5,1264.4 668.7,1264.4 669.6,1268.1 672.8,1268.1 673.7,1267.5 676.8,1267.5 677.7,1263.9 680.9,1263.9 681.8,1269.4 685.0,1269.4 685.9,1264.2 689.0,1264.2 689.9,1265.6 693.1,1265.6 694.0,1264.2 697.2,1264.2 698.1,1267.2 701.2,1267.2 702.1,1263.4 705.3,1263.4 706.2,1258.8 709.4,1258.8 710.3,1253.7 713.4,1253.7 714.3,1250.9 717.5,1250.9 718.4,1251.6 721.6,1251.6 722.5,1249.4 725.7,1249.4 726.6,1248.7 729.7,1248.7 730.6,1242.0 733.8,1242.0 734.7,1241.0 737.9,1241.0 738.8,1234.9 741.9,1234.9 742.8,1227.4 746.0,1227.4 746.9,1229.3 750.1,1229.3 751.0,1230.0 754.1,1230.0 755.0,1223.2 758.2,1223.2 759.1,1220.1 762.3,1220.1 763.2,1213.8 766.3,1213.8 767.2,1198.9 770.4,1198.9 771.3,1196.1 774.5,1196.1 775.4,1195.0 778.5,1195.0 779.4,1175.0 782.6,1175.0 783.5,1158.6 786.7,1158.6 787.6,1149.8 790.7,1149.8 791.6,1133.5 794.8,1133.5 795.7,1110.3 798.9,1110.3 799.8,1085.5 802.9,1085.5 803.8,1059.7 807.0,1059.7 807.9,1006.1 811.1,1006.1 812.0,923.5 815.1,923.5 816.0,850.5 819.2,850.5 820.1,783.9 823.3,783.9 824.2,698.5 827.4,698.5 828.3,578.0 831.4,578.0 832.3,448.0 835.5,448.0 836.4,339.9 839.6,339.9 840.5,284.6 843.6,284.6 844.5,242.2 847.7,242.2 848.6,236.5 851.8,236.5 852.7,236.0 855.8,236.0 856.7,223.5 859.9,223.5 860.8,255.2 864.0,255.2 864.9,332.6 868.0,332.6 868.9,429.2 872.1,429.2 873.0,526.6 876.2,526.6 877.1,621.2 880.2,621.2 881.1,778.6 884.3,778.6 885.2,831.5 888.4,831.5 889.3,876.0 892.4,876.0 893.3,918.0 896.5,918.0 897.4,945.2 900.6,945.2 901.5,965.5 904.6,965.5 905.5,989.0 908.7,989.0 909.6,1002.3 912.8,1002.3 913.7,992.8 916.8,992.8 917.7,1011.9 920.9,1011.9 921.8,1017.9 925.0,1017.9 925.9,1007.3 929.1,1007.3 930.0,1000.6 933.1,1000.6 934.0,994.6 937.2,994.6 938.1,972.5 941.3,972.5 942.2,968.0 945.3,968.0 946.2,958.6 949.4,958.6 950.3,940.4 953.5,940.4 954.4,925.1 957.5,925.1 958.4,917.7 961.6,917.7 962.5,883.7 965.7,883.7 966.6,863.7 969.7,863.7 970.6,844.4 973.8,844.4 974.7,857.4 977.9,857.4 978.8,828.6 981.9,828.6 982.8,820.1 986.0,820.1 986.9,801.0 990.1,801.0 991.0,777.6 994.1,777.6 995.0,758.9 998.2,758.9 999.1,734.0 1002.3,734.0 1003.2,716.1 1006.3,716.1 1007.2,706.3 1010.4,706.3 1011.3,693.3 1014.5,693.3 1015.4,678.3 1018.5,678.3 1019.4,673.6 1022.6,673.6 1023.5,664.6 1026.7,664.6 1027.6,669.7 1030.8,669.7 1031.7,664.0 1034.8,664.0 1035.7,660.0 1038.9,660.0 1039.8,669.3 1043.0,669.3 1043.9,681.1 1047.0,681.1 1047.9,681.4 1051.1,681.4 1052.0,693.3 1055.2,693.3 1056.1,685.2 1059.2,685.2 1060.1,717.3 1063.3,717.3 1064.2,722.1 1067.4,722.1 1068.3,747.9 1071.4,747.9 1072.3,760.3 1075.5,760.3 1076.4,785.4 1079.6,785.4 1080.5,810.7 1083.6,810.7 1084.5,826.8 1087.7,826.8 1088.6,838.4 1091.8,838.4 1092.7,848.2 1095.8,848.2 1096.7,860.9 1099.9,860.9 1100.8,866.5 1104.0,866.5 1104.9,865.7 1108.0,865.7 1108.9,896.4 1112.1,896.4 1113.0,898.6 1116.2,898.6 1117.1,920.6 1120.2,920.6 1121.1,924.7 1124.3,924.7 1125.2,928.8 1128.4,928.8 1129.3,940.5 1132.5,940.5 1133.4,941.9 1136.5,941.9 1137.4,960.9 1140.6,960.9 1141.5,950.6 1144.7,950.6 1145.6,964.5 1148.7,964.5 1149.6,961.2 1152.8,961.2 1153.7,966.7 1156.9,966.7 1157.8,984.6 1160.9,984.6 1161.8,977.0 1165.0,977.0 1165.9,974.2 1169.1,974.2 1170.0,970.1 1173.1,970.1 1174.0,980.5 1177.2,980.5 1178.1,983.4 1181.3,983.4 1182.2,993.6 1185.3,993.6 1186.2,977.0 1189.4,977.0 1190.3,972.3 1193.5,972.3 1194.4,978.5 1197.5,978.5 1198.4,973.4 1201.6,973.4 1202.5,972.6 1205.7,972.6 1206.6,948.7 1209.7,948.7 1210.6,928.0 1213.8,928.0 1214.7,932.5 1217.9,932.5 1218.8,923.8 1221.9,923.8 1222.8,923.2 1226.0,923.2 1226.9,928.1 1230.1,928.1 1231.0,911.3 1234.2,911.3 1235.1,923.9 1238.2,923.9 1239.1,915.7 1242.3,915.7 1243.2,911.0 1246.4,911.0 1247.3,905.6 1250.4,905.6 1251.3,906.5 1254.5,906.5 1255.4,904.4 1258.6,904.4 1259.5,909.0 1262.6,909.0 1263.5,910.1 1266.7,910.1 1267.6,900.8 1270.8,900.8 1271.7,905.2 1274.8,905.2 1275.7,908.8 1278.9,908.8 1279.8,908.5 1283.0,908.5 1283.9,903.9 1287.0,903.9 1287.9,912.4 1291.1,912.4 1292.0,911.0 1295.2,911.0 1296.1,915.0 1299.2,915.0 1300.1,906.9 1303.3,906.9 1304.2,908.8 1307.4,908.8 1308.3,903.8 1311.4,903.8 1312.3,930.3 1315.5,930.3 1316.4,936.8 1319.6,936.8 1320.5,941.7 1323.6,941.7 1324.5,958.5 1327.7,958.5 1328.6,967.4 1331.8,967.4 1332.7,964.7 1335.9,964.7 1336.8,986.4 1339.9,986.4 1340.8,1002.8 1344.0,1002.8 1344.9,1015.3 1348.1,1015.3 1349.0,1017.9 1352.1,1017.9 1353.0,1029.3 1356.2,1029.3 1357.1,1049.5 1360.3,1049.5 1361.2,1059.7 1364.3,1059.7 1365.2,1064.5 1368.4,1064.5 1369.3,1075.9 1372.5,1075.9 1373.4,1092.0 1376.5,1092.0 1377.4,1096.1 1380.6,1096.1 1381.5,1105.8 1384.7,1105.8 1385.6,1125.2 1388.7,1125.2 1389.6,1126.9 1392.8,1126.9 1393.7,1131.1 1396.9,1131.1 1397.8,1141.8 1400.9,1141.8 1401.8,1154.5 1405.0,1154.5 1405.9,1152.5 1409.1,1152.5 1410.0,1153.6 1413.1,1153.6 1414.0,1155.2 1417.2,1155.2 1418.1,1174.8 1421.3,1174.8 1422.2,1159.9 1425.3,1159.9 1426.2,1178.3 1429.4,1178.3 1430.3,1173.7 1433.5,1173.7 1434.4,1175.9 1437.6,1175.9 1438.5,1180.0 1441.6,1180.0 1442.5,1186.2 1445.7,1186.2 1446.6,1194.0 1449.8,1194.0 1450.7,1190.3 1453.8,1190.3 1454.7,1198.2 1457.9,1198.2 1458.8,1207.6 1462.0,1207.6 1462.9,1191.0 1466.0,1191.0 1466.9,1201.4 1470.1,1201.4 1471.0,1200.2 1474.2,1200.2 1475.1,1212.5 1478.2,1212.5 1479.1,1206.6 1482.3,1206.6 1483.2,1208.6 1486.4,1208.6 1487.3,1211.1 1490.4,1211.1 1491.3,1218.7 1494.5,1218.7 1495.4,1224.9 1498.6,1224.9 1499.5,1223.5 1502.6,1223.5 1503.5,1232.3 1506.7,1232.3 1507.6,1232.6 1510.8,1232.6 1511.7,1228.5 1514.8,1228.5 1515.7,1234.0 1518.9,1234.0 1519.8,1233.1 1523.0,1233.1 1523.9,1234.7 1527.0,1234.7 1527.9,1229.9 1531.1,1229.9 1532.0,1233.7 1535.2,1233.7 1536.1,1239.7 1539.3,1239.7 1540.2,1237.3 1543.3,1237.3 1544.2,1245.1 1547.4,1245.1 1548.3,1245.0 1551.5,1245.0 1552.4,1242.5 1555.5,1242.5 1556.4,1250.4 1559.6,1250.4 1560.5,1248.7 1563.7,1248.7 1564.6,1253.2 1567.7,1253.2 1568.6,1250.0 1571.8,1250.0 1572.7,1246.7 1575.9,1246.7 1576.8,1255.3 1579.9,1255.3 1580.8,1253.7 1584.0,1253.7 1584.9,1258.4 1588.1,1258.4 1589.0,1260.4 1592.1,1260.4 1593.0,1262.0 1596.2,1262.0 1597.1,1255.4 1600.3,1255.4 1601.2,1254.1 1604.3,1254.1 1605.2,1261.1 1608.4,1261.1 1609.3,1266.2 1612.5,1266.2 1613.4,1263.9 1616.5,1263.9 1617.4,1269.2 1620.6,1269.2 1621.5,1268.9 1624.7,1268.9 1625.6,1272.9 1628.7,1272.9 1629.6,1274.6 1632.8,1274.6 1633.7,1274.4 1636.9,1274.4 1637.8,1278.2 1641.0,1278.2 1641.9,1278.1 1645.0,1278.1 1645.9,1282.0 1649.1,1282.0 1650.0,1278.9 1653.2,1278.9 1654.1,1281.7 1657.2,1281.7 1658.1,1278.5 1661.3,1278.5 1662.2,1280.8 1665.4,1280.8 1666.3,1278.2 1669.4,1278.2 1670.3,1277.4 1673.5,1277.4 1674.4,1282.7 1677.6,1282.7 1678.5,1281.4 1681.6,1281.4 1682.5,1282.2 1685.7,1282.2 1686.6,1278.2 1689.8,1278.2 1690.7,1276.2 1693.8,1276.2 1694.7,1279.0 1697.9,1279.0 1698.8,1282.7 1702.0,1282.7 1702.9,1278.6 1706.0,1278.6 1706.9,1287.0 1710.1,1287.0 1711.0,1279.7 1714.2,1279.7 1715.1,1285.9 1718.2,1285.9 1719.1,1292.0 1722.3,1292.0 1723.2,1278.4 1726.4,1278.4 1727.3,1281.8 1730.4,1281.8 1731.3,1289.0 1734.5,1289.0 1735.4,1286.5 1738.6,1286.5 1739.5,1288.0 1742.7,1288.0 1743.6,1287.7 1746.7,1287.7 1747.6,1292.3 1750.8,1292.3 1751.7,1290.7 1754.9,1290.7 1755.8,1288.4 1758.9,1288.4 1759.8,1289.5 1763.0,1289.5 1763.9,1287.6 1767.1,1287.6 1768.0,1291.0 1771.1,1291.0 1772.0,1286.0 1775.2,1286.0 1776.1,1294.3 1779.3,1294.3 1780.2,1292.5 1783.3,1292.5 1784.2,1298.5 1787.4,1298.5 1788.3,1297.4 1791.5,1297.4 1792.4,1291.6 1795.5,1291.6 1796.4,1297.6 1799.6,1297.6 1800.5,1294.4 1803.7,1294.4 1804.6,1296.3 1807.7,1296.3 1808.6,1299.1 1811.8,1299.1 1812.7,1297.8 1815.9,1297.8 1816.8,1298.6 1819.9,1298.6 1820.8,1298.9 1824.0,1298.9 1824.9,1296.2 1828.1,1296.2 1829.0,1296.8 1832.1,1296.8 1833.0,1300.1 1836.2,1300.1 1837.1,1301.2 1840.3,1301.2 1841.2,1298.7 1844.4,1298.7 1845.3,1299.9 1848.4,1299.9 1849.3,1297.4 1852.5,1297.4 1853.4,1291.3 1856.6,1291.3 1857.5,1284.5 1860.6,1284.5 1861.5,1286.3 1864.7,1286.3 1865.6,1298.3 1868.8,1298.3 1869.7,1302.9 1872.8,1302.9 1873.7,1303.2 1876.9,1303.2 1877.8,1303.6 1881.0,1303.6 1881.9,1302.2"/>
<polyline stroke="#FF0000" points="364.5,1290.4 367.7,1290.4 368.6,1287.7 371.7,1287.7 372.6,1290.9 375.8,1290.9 376.7,1290.7 379.9,1290.7 380.8,1293.5 383.9,1293.5 384.8,1286.6 388.0,1286.6 388.9,1289.6 392.1,1289.6 393.0,1286.6 396.1,1286.6 397.0,1289.2 400.2,1289.2 401.1,1287.4 404.3,1287.4 405.2,1291.8 408.3,1291.8 409.2,1289.4 412.4,1289.4 413.3,1284.4 416.5,1284.4 417.4,1294.2 420.6,1294.2 421.5,1288.2 424.6,1288.2 425.5,1286.9 428.7,1286.9 429.6,1290.1 432.8,1290.1 433.7,1289.3 436.8,1289.3 437.7,1288.0 440.9,1288.0 441.8,1292.9 445.0,1292.9 445.9,1290.1 449.0,1290.1 449.9,1293.4 453.1,1293.4 454.0,1292.9 457.2,1292.9 458.1,1292.8 461.2,1292.8 462.1,1291.5 465.3,1291.5 466.2,1290.7 469.4,1290.7 470.3,1289.7 473.4,1289.7 474.3,1294.4 477.5,1294.4 478.4,1285.5 481.6,1285.5 482.5,1287.4 485.6,1287.4 486.5,1288.2 489.7,1288.2 490.6,1290.8 493.8,1290.8 494.7,1289.8 497.8,1289.8 498.7,1287.9 501.9,1287.9 502.8,1288.0 506.0,1288.0 506.9,1293.1 510.0,1293.1 510.9,1286.4 514.1,1286.4 515.0,1280.3 518.2,1280.3 519.1,1292.2 522.3,1292.2 523.2,1284.2 526.3,1284.2 527.2,1285.3 530.4,1285.3 531.3,1286.0 534.5,1286.0 535.4,1281.4 538.5,1281.4 539.4,1287.4 542.6,1287.4 543.5,1283.0 546.7,1283.0 547.6,1278.6 550.7,1278.6 551.6,1282.1 554.8,1282.1 555.7,1281.8 558.9,1281.8 559.8,1279.4 562.9,1279.4 563.8,1279.9 567.0,1279.9 567.9,1273.3 571.1,1273.3 572.0,1279.0 575.1,1279.0 576.0,1272.9 579.2,1272.9 580.1,1277.9 583.3,1277.9 584.2,1271.6 587.3,1271.6 588.2,1273.1 591.4,1273.1 592.3,1279.7 595.5,1279.7 596.4,1272.0 599.5,1272.0 600.4,1274.6 603.6,1274.6 604.5,1272.6 607.7,1272.6 608.6,1266.6 611.7,1266.6 612.6,1274.0 615.8,1274.0 616.7,1273.7 619.9,1273.7 620.8,1266.4 624.0,1266.4 624.9,1270.1 628.0,1270.1 628.9,1265.9 632.1,1265.9 633.0,1269.3 636.2,1269.3 637.1,1272.5 640.2,1272.5 641.1,1269.7 644.3,1269.7 645.2,1265.2 648.4,1265.2 649.3,1265.0 652.4,1265.0 653.3,1266.7 656.5,1266.7 657.4,1265.6 660.6,1265.6 661.5,1265.2 664.6,1265.2 665.5,1265.8 668.7,1265.8 669.6,1257.6 672.8,1257.6 673.7,1262.5 676.8,1262.5 677.7,1265.1 680.9,1265.1 681.8,1262.4 685.0,1262.4 685.9,1258.0 689.0,1258.0 689.9,1257.3 693.1,1257.3 694.0,1258.7 697.2,1258.7 698.1,1259.2 701.2,1259.2 702.1,1255.6 705.3,1255.6 706.2,1258.6 709.4,1258.6 710.3,1254.9 713.4,1254.9 714.3,1245.4 717.5,1245.4 718.4,1246.8 721.6,1246.8 722.5,1241.2 725.7,1241.2 726.6,1235.4 729.7,1235.4 730.6,1234.0 733.8,1234.0 734.7,1232.7 737.9,1232.7 738.8,1221.7 741.9,1221.7 742.8,1222.6 746.0,1222.6 746.9,1221.8 750.1,1221.8 751.0,1213.2 754.1,1213.2 755.0,1209.1 758.2,1209.1 759.1,1207.9 762.3,1207.9 763.2,1198.4 766.3,1198.4 767.2,1192.6 770.4,1192.6 771.3,1192.3 774.5,1192.3 775.4,1176.8 778.5,1176.8 779.4,1164.2 782.6,1164.2 783.5,1149.4 786.7,1149.4 787.6,1137.7 790.7,1137.7 791.6,1112.4 794.8,1112.4 795.7,1086.7 798.9,1086.7 799.8,1061.5 802.9,1061.5 803.8,1041.2 807.0,1041.2 807.9,975.5 811.1,975.5 812.0,895.7 815.1,895.7 816.0,808.7 819.2,808.7 820.1,725.6 823.3,725.6 824.2,640.4 827.4,640.4 828.3,486.7 831.4,486.7 832.3,340.0 835.5,340.0 836.4,237.5 839.6,237.5 840.5,168.1 843.6,168.1 844.5,129.1 847.7,129.1 848.6,101.4 851.8,101.4 852.7,127.7 855.8,127.7 856.7,124.4 859.9,124.4 860.8,153.2 864.0,153.2 864.9,235.1 868.0,235.1 868.9,346.5 872.1,346.5 873.0,455.2 876.2,455.2 877.1,544.2 880.2,544.2 881.1,706.9 884.3,706.9 885.2,772.1 888.4,772.1 889.3,821.6 892.4,821.6 893.3,872.3 896.5,872.3 897.4,904.8 900.6,904.8 901.5,924.7 904.6,924.7 905.5,948.4 908.7,948.4 909.6,964.9 912.8,964.9 913.7,969.7 916.8,969.7 917.7,981.2 920.9,981.2 921.8,976.6 925.0,976.6 925.9,970.0 929.1,970.0 930.0,973.2 933.1,973.2 934.0,956.3 937.2,956.3 938.1,933.1 941.3,933.1 942.2,929.7 945.3,929.7 946.2,912.4 949.4,912.4 950.3,906.5 953.5,906.5 954.4,892.1 957.5,892.1 958.4,872.9 961.6,872.9 962.5,824.2 965.7,824.2 966.6,815.5 969.7,815.5 970.6,815.2 973.8,815.2 974.7,805.5 977.9,805.5 978.8,785.6 981.9,785.6 982.8,760.3 986.0,760.3 986.9,741.7 990.1,741.7 991.0,708.8 994.1,708.8 995.0,702.3 998.2,702.3 999.1,668.6 1002.3,668.6 1003.2,650.0 1006.3,650.0 1007.2,629.2 1010.4,629.2 1011.3,630.7 1014.5,630.7 1015.4,612.4 1018.5,612.4 1019.4,607.4 1022.6,607.4 1023.5,605.3 1026.7,605.3 1027.6,617.6 1030.8,617.6 1031.7,593.3 1034.8,593.3 1035.7,602.2 1038.9,602.2 1039.8,602.1 1043.0,602.1 1043.9,600.4 1047.0,600.4 1047.9,603.0 1051.1,603.0 1052.0,609.3 1055.2,609.3 1056.1,637.3 1059.2,637.3 1060.1,651.0 1063.3,651.0 1064.2,663.5 1067.4,663.5 1068.3,688.2 1071.4,688.2 1072.3,714.2 1075.5,714.2 1076.4,738.0 1079.6,738.0 1080.5,759.7 1083.6,759.7 1084.5,771.6 1087.7,771.6 1088.6,778.2 1091.8,778.2 1092.7,804.6 1095.8,804.6 1096.7,797.0 1099.9,797.0 1100.8,811.2 1104.0,811.2 1104.9,829.9 1108.0,829.9 1108.9,833.6 1112.1,833.6 1113.0,863.5 1116.2,863.5 1117.1,881.8 1120.2,881.8 1121.1,890.7 1124.3,890.7 1125.2,894.0 1128.4,894.0 1129.3,900.8 1132.5,900.8 1133.4,908.7 1136.5,908.7 1137.4,911.3 1140.6,911.3 1141.5,929.9 1144.7,929.9 1145.6,919.3 1148.7,919.3 1149.6,934.4 1152.8,934.4 1153.7,933.3 1156.9,933.3 1157.8,934.8 1160.9,934.8 1161.8,941.8 1165.0,941.8 1165.9,945.9 1169.1,945.9 1170.0,947.3 1173.1,947.3 1174.0,945.5 1177.2,945.5 1178.1,945.2 1181.3,945.2 1182.2,946.5 1185.3,946.5 1186.2,954.1 1189.4,954.1 1190.3,950.0 1193.5,950.0 1194.4,946.9 1197.5,946.9 1198.4,931.9 1201.6,931.9 1202.5,936.7 1205.7,936.7 1206.6,906.5 1209.7,906.5 1210.6,905.3 1213.8,905.3 1214.7,899.6 1217.9,899.6 1218.8,886.6 1221.9,886.6 1222.8,877.1 1226.0,877.1 1226.9,876.9 1230.1,876.9 1231.0,869.0 1234.2,869.0 1235.1,871.8 1238.2,871.8 1239.1,862.6 1242.3,862.6 1243.2,860.5 1246.4,860.5 1247.3,866.8 1250.4,866.8 1251.3,855.2 1254.5,855.2 1255.4,860.6 1258.6,860.6 1259.5,858.5 1262.6,858.5 1263.5,862.6 1266.7,862.6 1267.6,857.2 1270.8,857.2 1271.7,850.3 1274.8,850.3 1275.7,863.4 1278.9,863.4 1279.8,851.1 1283.0,851.1 1283.9,853.0 1287.0,853.0 1287.9,853.9 1291.1,853.9 1292.0,871.2 1295.2,871.2 1296.1,860.7 1299.2,860.7 1300.1,859.0 1303.3,859.0 1304.2,871.3 1307.4,871.3 1308.3,870.9 1311.4,870.9 1312.3,892.6 1315.5,892.6 1316.4,886.6 1319.6,886.6 1320.5,910.2 1323.6,910.2 1324.5,912.7 1327.7,912.7 1328.6,937.8 1331.8,937.8 1332.7,932.6 1335.9,932.6 1336.8,949.6 1339.9,949.6 1340.8,957.1 1344.0,957.1 1344.9,979.8 1348.1,979.8 1349.0,990.6 1352.1,990.6 1353.0,987.8 1356.2,987.8 1357.1,1017.2 1360.3,1017.2 1361.2,1030.1 1364.3,1030.1 1365.2,1041.4 1368.4,1041.4 1369.3,1057.9 1372.5,1057.9 1373.4,1058.7 1376.5,1058.7 1377.4,1067.3 1380.6,1067.3 1381.5,1089.4 1384.7,1089.4 1385.6,1103.9 1388.7,1103.9 1389.6,1099.8 1392.8,1099.8 1393.7,1108.3 1396.9,1108.3 1397.8,1117.0 1400.9,1117.0 1401.8,1122.5 1405.0,1122.5 1405.9,1137.5 1409.1,1137.5 1410.0,1140.5 1413.1,1140.5 1414.0,1151.0 1417.2,1151.0 1418.1,1156.1 1421.3,1156.1 1422.2,1150.8 1425.3,1150.8 1426.2,1161.7 1429.4,1161.7 1430.3,1153.8 1433.5,1153.8 1434.4,1166.2 1437.6,1166.2 1438.5,1172.5 1441.6,1172.5 1442.5,1170.2 1445.7,1170.2 1446.6,1169.6 1449.8,1169.6 1450.7,1178.0 1453.8,1178.0 1454.7,1187.7 1457.9,1187.7 1458.8,1184.9 1462.0,1184.9 1462.9,1184.2 1466.0,1184.2 1466.9,1194.3 1470.1,1194.3 1471.0,1198.3 1474.2,1198.3 1475.1,1194.6 1478.2,1194.6 1479.1,1200.6 1482.3,1200.6 1483.2,1207.7 1486.4,1207.7 1487.3,1207.6 1490.4,1207.6 1491.3,1211.4 1494.5,1211.4 1495.4,1210.1 1498.6,1210.1 1499.5,1213.1 1502.6,1213.1 1503.5,1211.8 1506.7,1211.8 1507.6,1215.5 1510.8,1215.5 1511.7,1225.5 1514.8,1225.5 1515.7,1220.8 1518.9,1220.8 1519.8,1221.3 1523.0,1221.3 1523.9,1224.8 1527.0,1224.8 1527.9,1224.8 1531.1,1224.8 1532.0,1232.0 1535.2,1232.0 1536.1,1235.1 1539.3,1235.1 1540.2,1230.8 1543.3,1230.8 1544.2,1238.9 1547.4,1238.9 1548.3,1243.9 1551.5,1243.9 1552.4,1235.1 1555.5,1235.1 1556.4,1242.2 1559.6,1242.2 1560.5,1242.2 1563.7,1242.2 1564.6,1247.1 1567.7,1247.1 1568.6,1248.2 1571.8,1248.2 1572.7,1249.1 1575.9,1249.1 1576.8,1248.1 1579.9,1248.1 1580.8,1247.4 1584.0,1247.4 1584.9,1257.1 1588.1,1257.1 1589.0,1249.2 1592.1,1249.2 1593.0,1256.5 1596.2,1256.5 1597.1,1257.6 1600.3,1257.6 1601.2,1253.9 1604.3,1253.9 1605.2,1257.8 1608.4,1257.8 1609.3,1263.9 1612.5,1263.9 1613.4,1256.0 1616.5,1256.0 1617.4,1266.5 1620.6,1266.5 1621.5,1266.5 1624.7,1266.5 1625.6,1269.5 1628.7,1269.5 1629.6,1268.0 1632.8,1268.0 1633.7,1273.9 1636.9,1273.9 1637.8,1270.5 1641.0,1270.5 1641.9,1275.8 1645.0,1275.8 1645.9,1271.1 1649.1,1271.1 1650.0,1276.6 1653.2,1276.6 1654.1,1275.7 1657.2,1275.7 1658.1,1269.7 1661.3,1269.7 1662.2,1274.2 1665.4,1274.2 1666.3,1275.0 1669.4,1275.0 1670.3,1269.4 1673.5,1269.4 1674.4,1274.9 1677.6,1274.9 1678.5,1278.5 1681.6,1278.5 1682.5,1274.7 1685.7,1274.7 1686.6,1280.4 1689.8,1280.4 1690.7,1274.8 1693.8,1274.8 1694.7,1275.2 1697.9,1275.2 1698.8,1280.6 1702.0,1280.6 1702.9,1281.4 1706.0,1281.4 1706.9,1279.9 1710.1,1279.9 1711.0,1281.0 1714.2,1281.0 1715.1,1284.3 1718.2,1284.3 1719.1,1280.8 1722.3,1280.8 1723.2,1288.3 1726.4,1288.3 1727.3,1284.7 1730.4,1284.7 1731.3,1285.2 1734.5,1285.2 1735.4,1285.4 1738.6,1285.4 1739.5,1284.5 1742.7,1284.5 1743.6,1289.1 1746.7,1289.1 1747.6,1285.0 1750.8,1285.0 1751.7,1287.6 1754.9,1287.6 1755.8,1289.4 1758.9,1289.4 1759.8,1291.8 1763.0,1291.8 1763.9,1291.9 1767.1,1291.9 1768.0,1288.6 1771.1,1288.6 1772.0,1292.7 1775.2,1292.7 1776.1,1290.8 1779.3,1290.8 1780.2,1289.0 1783.3,1289.0 1784.2,1289.8 1787.4,1289.8 1788.3,1289.1 1791.5,1289.1 1792.4,1294.3 1795.5,1294.3 1796.4,1296.8 1799.6,1296.8 1800.5,1292.1 1803.7,1292.1 1804.6,1294.3 1807.7,1294.3 1808.6,1292.7 1811.8,1292.7 1812.7,1295.9 1815.9,1295.9 1816.8,1293.4 1819.9,1293.4 1820.8,1294.7 1824.0,1294.7 1824.9,1295.4 1828.1,1295.4 1829.0,1296.3 1832.1,1296.3 1833.0,1297.0 1836.2,1297.0 1837.1,1297.7 1840.3,1297.7 1841.2,1298.1 1844.4,1298.1 1845.3,1296.6 1848.4,1296.6 1849.3,1300.3 1852.5,1300.3 1853.4,1292.5 1856.6,1292.5 1857.5,1284.7 1860.6,1284.7 1861.5,1281.4 1864.7,1281.4 1865.6,1297.2 1868.8,1297.2 1869.7,1300.9 1872.8,1300.9 1873.7,1295.8 1876.9,1295.8 1877.8,1301.4 1881.0,1301.4 1881.9,1303.8"/>
<polyline stroke="#AA0000" points="364.5,1296.6 367.7,1296.6 368.6,1295.9 371.7,1295.9 372.6,1290.1 375.8,1290.1 376.7,1295.1 379.9,1295.1 380.8,1293.6 383.9,1293.6 384.8,1298.5 388.0,1298.5 388.9,1295.4 392.1,1295.4 393.0,1294.7 396.1,1294.7 397.0,1292.1 400.2,1292.1 401.1,1298.1 404.3,1298.1 405.2,1295.0 408.3,1295.0 409.2,1295.7 412.4,1295.7 413.3,1298.9 416.5,1298.9 417.4,1296.5 420.6,1296.5 421.5,1297.1 424.6,1297.1 425.5,1302.1 428.7,1302.1 429.6,1295.0 432.8,1295.0 433.7,1295.2 436.8,1295.2 437.7,1297.5 440.9,1297.5 441.8,1299.7 445.0,1299.7 445.9,1292.9 449.0,1292.9 449.9,1295.8 453.1,1295.8 454.0,1294.0 457.2,1294.0 458.1,1293.1 461.2,1293.1 462.1,1297.7 465.3,1297.7 466.2,1294.4 469.4,1294.4 470.3,1296.8 473.4,1296.8 474.3,1296.3 477.5,1296.3 478.4,1296.2 481.6,1296.2 482.5,1295.8 485.6,1295.8 486.5,1292.9 489.7,1292.9 490.6,1295.1 493.8,1295.1 494.7,1295.5 497.8,1295.5 498.7,1295.6 501.9,1295.6 502.8,1293.9 506.0,1293.9 506.9,1296.6 510.0,1296.6 510.9,1295.3 514.1,1295.3 515.0,1293.8 518.2,1293.8 519.1,1294.7 522.3,1294.7 523.2,1293.1 526.3,1293.1 527.2,1293.9 530.4,1293.9 531.3,1286.9 534.5,1286.9 535.4,1288.0 538.5,1288.0 539.4,1289.6 542.6,1289.6 543.5,1290.1 546.7,1290.1 547.6,1283.7 550.7,1283.7 551.6,1287.6 554.8,1287.6 555.7,1287.8 558.9,1287.8 559.8,1286.0 562.9,1286.0 563.8,1285.2 567.0,1285.2 567.9,1281.4 571.1,1281.4 572.0,1284.1 575.1,1284.1 576.0,1277.6 579.2,1277.6 580.1,1284.6 583.3,1284.6 584.2,1279.7 587.3,1279.7 588.2,1283.7 591.4,1283.7 592.3,1275.8 595.5,1275.8 596.4,1281.2 599.5,1281.2 600.4,1280.1 603.6,1280.1 604.5,1277.3 607.7,1277.3 608.6,1276.2 611.7,1276.2 612.6,1282.3 615.8,1282.3 616.7,1280.2 619.9,1280.2 620.8,1282.9 624.0,1282.9 624.9,1278.7 628.0,1278.7 628.9,1279.2 632.1,1279.2 633.0,1279.8 636.2,1279.8 637.1,1280.5 640.2,1280.5 641.1,1279.3 644.3,1279.3 645.2,1279.6 648.4,1279.6 649.3,1275.4 652.4,1275.4 653.3,1271.8 656.5,1271.8 657.4,1280.3 660.6,1280.3 661.5,1274.7 664.6,1274.7 665.5,1274.8 668.7,1274.8 669.6,1271.7 672.8,1271.7 673.7,1275.0 676.8,1275.0 677.7,1272.1 680.9,1272.1 681.8,1273.9 685.0,1273.9 685.9,1268.4 689.0,1268.4 689.9,1269.3 693.1,1269.3 694.0,1269.2 697.2,1269.2 698.1,1266.8 701.2,1266.8 702.1,1267.2 705.3,1267.2 706.2,1269.2 709.4,1269.2 710.3,1260.7 713.4,1260.7 714.3,1259.2 717.5,1259.2 718.4,1258.2 721.6,1258.2 722.5,1252.4 725.7,1252.4 726.6,1249.1 729.7,1249.1 730.6,1253.5 733.8,1253.5 734.7,1249.6 737.9,1249.6 738.8,1239.2 741.9,1239.2 742.8,1236.1 746.0,1236.1 746.9,1239.2 750.1,1239.2 751.0,1236.7 754.1,1236.7 755.0,1230.5 758.2,1230.5 759.1,1225.2 762.3,1225.2 763.2,1223.8 766.3,1223.8 767.2,1212.6 770.4,1212.6 771.3,1211.1 774.5,1211.1 775.4,1203.7 778.5,1203.7 779.4,1184.8 782.6,1184.8 783.5,1177.8 786.7,1177.8 787.6,1161.0 790.7,1161.0 791.6,1141.5 794.8,1141.5 795.7,1120.0 798.9,1120.0 799.8,1104.4 802.9,1104.4 803.8,1080.1 807.0,1080.1 807.9,1036.9 811.1,1036.9 812.0,946.0 815.1,946.0 816.0,883.5 819.2,883.5 820.1,833.4 823.3,833.4 824.2,741.8 827.4,741.8 828.3,607.4 831.4,607.4 832.3,496.7 835.5,496.7 836.4,386.9 839.6,386.9 840.5,332.4 843.6,332.4 844.5,320.7 847.7,320.7 848.6,300.3 851.8,300.3 852.7,305.7 855.8,305.7 856.7,300.8 859.9,300.8 860.8,324.6 864.0,324.6 864.9,371.7 868.0,371.7 868.9,490.5 872.1,490.5 873.0,599.8 876.2,599.8 877.1,672.0 880.2,672.0 881.1,796.4 884.3,796.4 885.2,866.3 888.4,866.3 889.3,907.0 892.4,907.0 893.3,940.7 896.5,940.7 897.4,968.8 900.6,968.8 901.5,995.8 904.6,995.8 905.5,1013.1 908.7,1013.1 909.6,1013.6 912.8,1013.6 913.7,1027.3 916.8,1027.3 917.7,1032.7 920.9,1032.7 921.8,1039.0 925.0,1039.0 925.9,1033.3 929.1,1033.3 930.0,1020.5 933.1,1020.5 934.0,1021.0 937.2,1021.0 938.1,999.8 941.3,999.8 942.2,984.7 945.3,984.7 946.2,979.5 949.4,979.5 950.3,964.8 953.5,964.8 954.4,961.3 957.5,961.3 958.4,933.3 961.6,933.3 962.5,910.1 965.7,910.1 966.6,895.2 969.7,895.2 970.6,903.4 973.8,903.4 974.7,889.4 977.9,889.4 978.8,862.2 981.9,862.2 982.8,840.8 986.0,840.8 986.9,831.3 990.1,831.3 991.0,808.4 994.1,808.4 995.0,804.1 998.2,804.1 999.1,780.4 1002.3,780.4 1003.2,756.2 1006.3,756.2 1007.2,737.9 1010.4,737.9 1011.3,739.7 1014.5,739.7 1015.4,715.4 1018.5,715.4 1019.4,708.8 1022.6,708.8 1023.5,723.3 1026.7,723.3 1027.6,722.8 1030.8,722.8 1031.7,709.8 1034.8,709.8 1035.7,716.3 1038.9,716.3 1039.8,728.0 1043.0,728.0 1043.9,705.3 1047.0,705.3 1047.9,712.3 1051.1,712.3 1052.0,726.2 1055.2,726.2 1056.1,721.1 1059.2,721.1 1060.1,748.6 1063.3,748.6 1064.2,772.9 1067.4,772.9 1068.3,787.1 1071.4,787.1 1072.3,813.4 1075.5,813.4 1076.4,830.5 1079.6,830.5 1080.5,840.1 1083.6,840.1 1084.5,860.6 1087.7,860.6 1088.6,872.5 1091.8,872.5 1092.7,869.3 1095.8,869.3 1096.7,882.1 1099.9,882.1 1100.8,890.7 1104.0,890.7 1104.9,901.1 1108.0,901.1 1108.9,911.2 1112.1,911.2 1113.0,918.9 1116.2,918.9 1117.1,941.7 1120.2,941.7 1121.1,941.0 1124.3,941.0 1125.2,964.2 1128.4,964.2 1129.3,966.5 1132.5,966.5 1133.4,978.4 1136.5,978.4 1137.4,977.9 1140.6,977.9 1141.5,977.9 1144.7,977.9 1145.6,976.9 1148.7,976.9 1149.6,991.7 1152.8,991.7 1153.7,990.9 1156.9,990.9 1157.8,995.3 1160.9,995.3 1161.8,999.7 1165.0,999.7 1165.9,1004.6 1169.1,1004.6 1170.0,1000.9 1173.1,1000.9 1174.0,1013.6 1177.2,1013.6 1178.1,1006.5 1181.3,1006.5 1182.2,1008.0 1185.3,1008.0 1186.2,1010.5 1189.4,1010.5 1190.3,1009.9 1193.5,1009.9 1194.4,1008.6 1197.5,1008.6 1198.4,985.2 1201.6,985.2 1202.5,994.3 1205.7,994.3 1206.6,969.2 1209.7,969.2 1210.6,964.8 1213.8,964.8 1214.7,963.8 1217.9,963.8 1218.8,963.0 1221.9,963.0 1222.8,946.2 1226.0,946.2 1226.9,938.5 1230.1,938.5 1231.0,950.6 1234.2,950.6 1235.1,944.6 1238.2,944.6 1239.1,934.9 1242.3,934.9 1243.2,937.2 1246.4,937.2 1247.3,926.0 1250.4,926.0 1251.3,939.0 1254.5,939.0 1255.4,930.5 1258.6,930.5 1259.5,938.7 1262.6,938.7 1263.5,917.4 1266.7,917.4 1267.6,932.6 1270.8,932.6 1271.7,941.0 1274.8,941.0 1275.7,928.9 1278.9,928.9 1279.8,929.0 1283.0,929.0 1283.9,917.1 1287.0,917.1 1287.9,930.5 1291.1,930.5 1292.0,930.1 1295.2,930.1 1296.1,928.9 1299.2,928.9 1300.1,925.7 1303.3,925.7 1304.2,938.2 1307.4,938.2 1308.3,936.0 1311.4,936.0 1312.3,944.6 1315.5,944.6 1316.4,959.9 1319.6,959.9 1320.5,971.0 1323.6,971.0 1324.5,981.0 1327.7,981.0 1328.6,994.0 1331.8,994.0 1332.7,990.6 1335.9,990.6 1336.8,1014.3 1339.9,1014.3 1340.8,1012.1 1344.0,1012.1 1344.9,1024.4 1348.1,1024.4 1349.0,1040.4 1352.1,1040.4 1353.0,1054.3 1356.2,1054.3 1357.1,1062.6 1360.3,1062.6 1361.2,1070.8 1364.3,1070.8 1365.2,1081.1 1368.4,1081.1 1369.3,1094.1 1372.5,1094.1 1373.4,1100.8 1376.5,1100.8 1377.4,1117.0 1380.6,1117.0 1381.5,1122.5 1384.7,1122.5 1385.6,1138.6 1388.7,1138.6 1389.6,1136.4 1392.8,1136.4 1393.7,1145.9 1396.9,1145.9 1397.8,1154.4 1400.9,1154.4 1401.8,1153.8 1405.0,1153.8 1405.9,1161.1 1409.1,1161.1 1410.0,1180.0 1413.1,1180.0 1414.0,1173.4 1417.2,1173.4 1418.1,1183.4 1421.3,1183.4 1422.2,1177.6 1425.3,1177.6 1426.2,1175.8 1429.4,1175.8 1430.3,1190.4 1433.5,1190.4 1434.4,1191.2 1437.6,1191.2 1438.5,1195.4 1441.6,1195.4 1442.5,1196.0 1445.7,1196.0 1446.6,1197.7 1449.8,1197.7 1450.7,1198.2 1453.8,1198.2 1454.7,1209.1 1457.9,1209.1 1458.8,1202.7 1462.0,1202.7 1462.9,1214.2 1466.0,1214.2 1466.9,1212.5 1470.1,1212.5 1471.0,1212.0 1474.2,1212.0 1475.1,1216.0 1478.2,1216.0 1479.1,1224.0 1482.3,1224.0 1483.2,1225.4 1486.4,1225.4 1487.3,1226.8 1490.4,1226.8 1491.3,1227.5 1494.5,1227.5 1495.4,1225.5 1498.6,1225.5 1499.5,1235.5 1502.6,1235.5 1503.5,1231.7 1506.7,1231.7 1507.6,1233.1 1510.8,1233.1 1511.7,1235.1 1514.8,1235.1 1515.7,1237.2 1518.9,1237.2 1519.8,1235.6 1523.0,1235.6 1523.9,1240.6 1527.0,1240.6 1527.9,1241.1 1531.1,1241.1 1532.0,1243.6 1535.2,1243.6 1536.1,1241.4 1539.3,1241.4 1540.2,1254.4 1543.3,1254.4 1544.2,1246.0 1547.4,1246.0 1548.3,1252.0 1551.5,1252.0 1552.4,1253.3 1555.5,1253.3 1556.4,1256.5 1559.6,1256.5 1560.5,1260.4 1563.7,1260.4 1564.6,1257.1 1567.7,1257.1 1568.6,1259.2 1571.8,1259.2 1572.7,1257.0 1575.9,1257.0 1576.8,1264.0 1579.9,1264.0 1580.8,1256.8 1584.0,1256.8 1584.9,1261.4 1588.1,1261.4 1589.0,1264.2 1592.1,1264.2 1593.0,1266.7 1596.2,1266.7 1597.1,1268.2 1600.3,1268.2 1601.2,1270.5 1604.3,1270.5 1605.2,1270.2 1608.4,1270.2 1609.3,1270.2 1612.5,1270.2 1613.4,1272.3 1616.5,1272.3 1617.4,1278.0 1620.6,1278.0 1621.5,1277.5 1624.7,1277.5 1625.6,1281.6 1628.7,1281.6 1629.6,1280.3 1632.8,1280.3 1633.7,1276.5 1636.9,1276.5 1637.8,1280.3 1641.0,1280.3 1641.9,1283.2 1645.0,1283.2 1645.9,1286.9 1649.1,1286.9 1650.0,1286.6 1653.2,1286.6 1654.1,1287.6 1657.2,1287.6 1658.1,1281.4 1661.3,1281.4 1662.2,1285.5 1665.4,1285.5 1666.3,1283.5 1669.4,1283.5 1670.3,1285.5 1673.5,1285.5 1674.4,1283.9 1677.6,1283.9 1678.5,1280.8 1681.6,1280.8 1682.5,1286.6 1685.7,1286.6 1686.6,1286.2 1689.8,1286.2 1690.7,1287.9 1693.8,1287.9 1694.7,1284.1 1697.9,1284.1 1698.8,1289.5 1702.0,1289.5 1702.9,1290.3 1706.0,1290.3 1706.9,1291.5 1710.1,1291.5 1711.0,1292.1 1714.2,1292.1 1715.1,1287.9 1718.2,1287.9 1719.1,1283.1 1722.3,1283.1 1723.2,1292.7 1726.4,1292.7 1727.3,1288.3 1730.4,1288.3 1731.3,1290.5 1734.5,1290.5 1735.4,1294.4 1738.6,1294.4 1739.5,1292.8 1742.7,1292.8 1743.6,1293.2 1746.7,1293.2 1747.6,1294.9 1750.8,1294.9 1751.7,1288.9 1754.9,1288.9 1755.8,1298.9 1758.9,1298.9 1759.8,1293.7 1763.0,1293.7 1763.9,1294.4 1767.1,1294.4 1768.0,1297.2 1771.1,1297.2 1772.0,1296.0 1775.2,1296.0 1776.1,1294.8 1779.3,1294.8 1780.2,1297.2 1783.3,1297.2 1784.2,1297.1 1787.4,1297.1 1788.3,1297.0 1791.5,1297.0 1792.4,1304.0 1795.5,1304.0 1796.4,1296.1 1799.6,1296.1 1800.5,1294.6 1803.7,1294.6 1804.6,1298.1 1807.7,1298.1 1808.6,1298.4 1811.8,1298.4 1812.7,1304.4 1815.9,1304.4 1816.8,1301.8 1819.9,1301.8 1820.8,1303.7 1824.0,1303.7 1824.9,1303.6 1828.1,1303.6 1829.0,1300.3 1832.1,1300.3 1833.0,1304.7 1836.2,1304.7 1837.1,1303.5 1840.3,1303.5 1841.2,1307.9 1844.4,1307.9 1845.3,1304.1 1848.4,1304.1 1849.3,1303.7 1852.5,1303.7 1853.4,1303.5 1856.6,1303.5 1857.5,1293.3 1860.6,1293.3 1861.5,1286.3 1864.7,1286.3 1865.6,1304.9 1868.8,1304.9 1869.7,1307.3 1872.8,1307.3 1873.7,1307.0 1876.9,1307.0 1877.8,1302.5 1881.0,1302.5 1881.9,1300.5"/>
<polyline stroke="#4CFF00" points="364.5,1303.9 367.7,1303.9 368.6,1301.0 371.7,1301.0 372.6,1301.7 375.8,1301.7 376.7,1302.9 379.9,1302.9 380.8,1301.3 383.9,1301.3 384.8,1305.7 388.0,1305.7 388.9,1302.6 392.1,1302.6 393.0,1301.6 396.1,1301.6 397.0,1302.0 400.2,1302.0 401.1,1300.2 404.3,1300.2 405.2,1305.5 408.3,1305.5 409.2,1306.2 412.4,1306.2 413.3,1302.1 416.5,1302.1 417.4,1301.6 420.6,1301.6 421.5,1297.7 424.6,1297.7 425.5,1301.2 428.7,1301.2 429.6,1304.7 432.8,1304.7 433.7,1300.8 436.8,1300.8 437.7,1304.6 440.9,1304.6 441.8,1306.1 445.0,1306.1 445.9,1296.5 449.0,1296.5 449.9,1301.9 453.1,1301.9 454.0,1300.9 457.2,1300.9 458.1,1301.3 461.2,1301.3 462.1,1298.3 465.3,1298.3 466.2,1301.8 469.4,1301.8 470.3,1299.5 473.4,1299.5 474.3,1304.6 477.5,1304.6 478.4,1305.3 481.6,1305.3 482.5,1298.5 485.6,1298.5 486.5,1298.2 489.7,1298.2 490.6,1300.3 493.8,1300.3 494.7,1300.8 497.8,1300.8 498.7,1300.7 501.9,1300.7 502.8,1302.5 506.0,1302.5 506.9,1297.0 510.0,1297.0 510.9,1298.7 514.1,1298.7 515.0,1298.7 518.2,1298.7 519.1,1298.6 522.3,1298.6 523.2,1296.6 526.3,1296.6 527.2,1297.4 530.4,1297.4 531.3,1296.4 534.5,1296.4 535.4,1300.5 538.5,1300.5 539.4,1295.8 542.6,1295.8 543.5,1291.1 546.7,1291.1 547.6,1296.9 550.7,1296.9 551.6,1295.2 554.8,1295.2 555.7,1292.0 558.9,1292.0 559.8,1291.1 562.9,1291.1 563.8,1291.1 567.0,1291.1 567.9,1295.8 571.1,1295.8 572.0,1289.6 575.1,1289.6 576.0,1293.0 579.2,1293.0 580.1,1291.3 583.3,1291.3 584.2,1287.2 587.3,1287.2 588.2,1288.8 591.4,1288.8 592.3,1285.6 595.5,1285.6 596.4,1279.3 599.5,1279.3 600.4,1285.0 603.6,1285.0 604.5,1284.9 607.7,1284.9 608.6,1288.9 611.7,1288.9 612.6,1288.1 615.8,1288.1 616.7,1289.0 619.9,1289.0 620.8,1287.6 624.0,1287.6 624.9,1288.9 628.0,1288.9 628.9,1287.7 632.1,1287.7 633.0,1286.4 636.2,1286.4 637.1,1288.3 640.2,1288.3 641.1,1289.0 644.3,1289.0 645.2,1288.3 648.4,1288.3 649.3,1282.8 652.4,1282.8 653.3,1283.0 656.5,1283.0 657.4,1279.7 660.6,1279.7 661.5,1278.9 664.6,1278.9 665.5,1282.0 668.7,1282.0 669.6,1278.7 672.8,1278.7 673.7,1283.7 676.8,1283.7 677.7,1273.1 680.9,1273.1 681.8,1275.4 685.0,1275.4 685.9,1278.5 689.0,1278.5 689.9,1280.4 693.1,1280.4 694.0,1275.5 697.2,1275.5 698.1,1280.7 701.2,1280.7 702.1,1276.5 705.3,1276.5 706.2,1270.6 709.4,1270.6 710.3,1270.4 713.4,1270.4 714.3,1269.8 717.5,1269.8 718.4,1263.5 721.6,1263.5 722.5,1267.0 725.7,1267.0 726.6,1260.9 729.7,1260.9 730.6,1260.7 733.8,1260.7 734.7,1259.0 737.9,1259.0 738.8,1252.2 741.9,1252.2 742.8,1253.4 746.0,1253.4 746.9,1241.1 750.1,1241.1 751.0,1245.1 754.1,1245.1 755.0,1232.8 758.2,1232.8 759.1,1238.2 762.3,1238.2 763.2,1227.9 766.3,1227.9 767.2,1228.7 770.4,1228.7 771.3,1223.5 774.5,1223.5 775.4,1211.7 778.5,1211.7 779.4,1199.6 782.6,1199.6 783.5,1194.8 786.7,1194.8 787.6,1172.1 790.7,1172.1 791.6,1164.6 794.8,1164.6 795.7,1141.9 798.9,1141.9 799.8,1121.7 802.9,1121.7 803.8,1099.8 807.0,1099.8 807.9,1067.4 811.1,1067.4 812.0,979.0 815.1,979.0 816.0,921.5 819.2,921.5 820.1,871.0 823.3,871.0 824.2,797.4 827.4,797.4 828.3,684.0 831.4,684.0 832.3,578.8 835.5,578.8 836.4,473.4 839.6,473.4 840.5,427.3 843.6,427.3 844.5,407.7 847.7,407.7 848.6,387.4 851.8,387.4 852.7,364.3 855.8,364.3 856.7,388.9 859.9,388.9 860.8,412.2 864.0,412.2 864.9,459.6 868.0,459.6 868.9,556.0 872.1,556.0 873.0,644.4 876.2,644.4 877.1,725.8 880.2,725.8 881.1,851.2 884.3,851.2 885.2,905.0 888.4,905.0 889.3,940.6 892.4,940.6 893.3,972.9 896.5,972.9 897.4,999.4 900.6,999.4 901.5,1020.8 904.6,1020.8 905.5,1034.9 908.7,1034.9 909.6,1043.5 912.8,1043.5 913.7,1055.9 916.8,1055.9 917.7,1066.6 920.9,1066.6 921.8,1060.3 925.0,1060.3 925.9,1059.9 929.1,1059.9 930.0,1053.5 933.1,1053.5 934.0,1041.2 937.2,1041.2 938.1,1034.1 941.3,1034.1 942.2,1023.4 945.3,1023.4 946.2,1007.9 949.4,1007.9 950.3,996.3 953.5,996.3 954.4,990.2 957.5,990.2 958.4,971.3 961.6,971.3 962.5,955.4 965.7,955.4 966.6,942.9 969.7,942.9 970.6,930.5 973.8,930.5 974.7,909.4 977.9,909.4 978.8,910.7 981.9,910.7 982.8,884.3 986.0,884.3 986.9,865.9 990.1,865.9 991.0,849.6 994.1,849.6 995.0,849.0 998.2,849.0 999.1,811.5 1002.3,811.5 1003.2,802.7 1006.3,802.7 1007.2,790.9 1010.4,790.9 1011.3,779.8 1014.5,779.8 1015.4,767.7 1018.5,767.7 1019.4,767.9 1022.6,767.9 1023.5,766.7 1026.7,766.7 1027.6,755.0 1030.8,755.0 1031.7,767.8 1034.8,767.8 1035.7,769.3 1038.9,769.3 1039.8,756.4 1043.0,756.4 1043.9,756.8 1047.0,756.8 1047.9,756.4 1051.1,756.4 1052.0,779.7 1055.2,779.7 1056.1,777.2 1059.2,777.2 1060.1,794.0 1063.3,794.0 1064.2,802.5 1067.4,802.5 1068.3,840.3 1071.4,840.3 1072.3,848.3 1075.5,848.3 1076.4,868.9 1079.6,868.9 1080.5,892.4 1083.6,892.4 1084.5,900.5 1087.7,900.5 1088.6,901.1 1091.8,901.1 1092.7,919.5 1095.8,919.5 1096.7,928.2 1099.9,928.2 1100.8,926.5 1104.0,926.5 1104.9,933.9 1108.0,933.9 1108.9,943.0 1112.1,943.0 1113.0,965.3 1116.2,965.3 1117.1,974.3 1120.2,974.3 1121.1,977.5 1124.3,977.5 1125.2,993.4 1128.4,993.4 1129.3,999.6 1132.5,999.6 1133.4,996.4 1136.5,996.4 1137.4,997.4 1140.6,997.4 1141.5,1016.0 1144.7,1016.0 1145.6,1027.2 1148.7,1027.2 1149.6,1024.3 1152.8,1024.3 1153.7,1024.6 1156.9,1024.6 1157.8,1022.3 1160.9,1022.3 1161.8,1020.6 1165.0,1020.6 1165.9,1026.8 1169.1,1026.8 1170.0,1032.3 1173.1,1032.3 1174.0,1031.0 1177.2,1031.0 1178.1,1039.0 1181.3,1039.0 1182.2,1035.3 1185.3,1035.3 1186.2,1037.4 1189.4,1037.4 1190.3,1018.2 1193.5,1018.2 1194.4,1024.6 1197.5,1024.6 1198.4,1027.4 1201.6,1027.4 1202.5,1020.8 1205.7,1020.8 1206.6,1009.4 1209.7,1009.4 1210.6,1006.9 1213.8,1006.9 1214.7,996.2 1217.9,996.2 1218.8,991.4 1221.9,991.4 1222.8,978.5 1226.0,978.5 1226.9,982.2 1230.1,982.2 1231.0,981.4 1234.2,981.4 1235.1,982.2 1238.2,982.2 1239.1,979.5 1242.3,979.5 1243.2,971.8 1246.4,971.8 1247.3,971.0 1250.4,971.0 1251.3,961.9 1254.5,961.9 1255.4,969.8 1258.6,969.8 1259.5,958.4 1262.6,958.4 1263.5,961.1 1266.7,961.1 1267.6,961.5 1270.8,961.5 1271.7,972.4 1274.8,972.4 1275.7,968.4 1278.9,968.4 1279.8,957.1 1283.0,957.1 1283.9,953.4 1287.0,953.4 1287.9,960.4 1291.1,960.4 1292.0,958.6 1295.2,958.6 1296.1,967.2 1299.2,967.2 1300.1,969.3 1303.3,969.3 1304.2,973.7 1307.4,973.7 1308.3,968.5 1311.4,968.5 1312.3,977.1 1315.5,977.1 1316.4,990.1 1319.6,990.1 1320.5,1002.7 1323.6,1002.7 1324.5,1007.0 1327.7,1007.0 1328.6,1015.5 1331.8,1015.5 1332.7,1028.9 1335.9,1028.9 1336.8,1024.9 1339.9,1024.9 1340.8,1042.7 1344.0,1042.7 1344.9,1054.2 1348.1,1054.2 1349.0,1056.8 1352.1,1056.8 1353.0,1068.9 1356.2,1068.9 1357.1,1084.3 1360.3,1084.3 1361.2,1092.1 1364.3,1092.1 1365.2,1109.9 1368.4,1109.9 1369.3,1117.9 1372.5,1117.9 1373.4,1134.0 1376.5,1134.0 1377.4,1127.5 1380.6,1127.5 1381.5,1148.9 1384.7,1148.9 1385.6,1145.8 1388.7,1145.8 1389.6,1159.1 1392.8,1159.1 1393.7,1166.0 1396.9,1166.0 1397.8,1168.6 1400.9,1168.6 1401.8,1172.1 1405.0,1172.1 1405.9,1175.8 1409.1,1175.8 1410.0,1176.0 1413.1,1176.0 1414.0,1185.6 1417.2,1185.6 1418.1,1187.6 1421.3,1187.6 1422.2,1196.6 1425.3,1196.6 1426.2,1195.1 1429.4,1195.1 1430.3,1200.1 1433.5,1200.1 1434.4,1205.2 1437.6,1205.2 1438.5,1206.5 1441.6,1206.5 1442.5,1209.0 1445.7,1209.0 1446.6,1210.6 1449.8,1210.6 1450.7,1212.5 1453.8,1212.5 1454.7,1218.1 1457.9,1218.1 1458.8,1221.4 1462.0,1221.4 1462.9,1218.8 1466.0,1218.8 1466.9,1229.4 1470.1,1229.4 1471.0,1228.0 1474.2,1228.0 1475.1,1223.1 1478.2,1223.1 1479.1,1239.3 1482.3,1239.3 1483.2,1234.7 1486.4,1234.7 1487.3,1232.2 1490.4,1232.2 1491.3,1241.7 1494.5,1241.7 1495.4,1229.9 1498.6,1229.9 1499.5,1248.2 1502.6,1248.2 1503.5,1237.2 1506.7,1237.2 1507.6,1238.6 1510.8,1238.6 1511.7,1242.3 1514.8,1242.3 1515.7,1247.5 1518.9,1247.5 1519.8,1247.3 1523.0,1247.3 1523.9,1252.7 1527.0,1252.7 1527.9,1249.0 1531.1,1249.0 1532.0,1256.3 1535.2,1256.3 1536.1,1255.2 1539.3,1255.2 1540.2,1252.8 1543.3,1252.8 1544.2,1260.4 1547.4,1260.4 1548.3,1259.3 1551.5,1259.3 1552.4,1258.8 1555.5,1258.8 1556.4,1264.4 1559.6,1264.4 1560.5,1258.1 1563.7,1258.1 1564.6,1261.6 1567.7,1261.6 1568.6,1268.1 1571.8,1268.1 1572.7,1265.0 1575.9,1265.0 1576.8,1268.2 1579.9,1268.2 1580.8,1269.0 1584.0,1269.0 1584.9,1268.1 1588.1,1268.1 1589.0,1271.4 1592.1,1271.4 1593.0,1267.9 1596.2,1267.9 1597.1,1273.7 1600.3,1273.7 1601.2,1270.2 1604.3,1270.2 1605.2,1274.3 1608.4,1274.3 1609.3,1273.2 1612.5,1273.2 1613.4,1278.5 1616.5,1278.5 1617.4,1280.5 1620.6,1280.5 1621.5,1284.7 1624.7,1284.7 1625.6,1282.3 1628.7,1282.3 1629.6,1282.8 1632.8,1282.8 1633.7,1280.4 1636.9,1280.4 1637.8,1283.0 1641.0,1283.0 1641.9,1286.1 1645.0,1286.1 1645.9,1287.5 1649.1,1287.5 1650.0,1286.2 1653.2,1286.2 1654.1,1287.5 1657.2,1287.5 1658.1,1283.8 1661.3,1283.8 1662.2,1285.3 1665.4,1285.3 1666.3,1290.0 1669.4,1290.0 1670.3,1289.8 1673.5,1289.8 1674.4,1284.8 1677.6,1284.8 1678.5,1287.8 1681.6,1287.8 1682.5,1289.5 1685.7,1289.5 1686.6,1286.3 1689.8,1286.3 1690.7,1290.7 1693.8,1290.7 1694.7,1290.9 1697.9,1290.9 1698.8,1291.9 1702.0,1291.9 1702.9,1296.2 1706.0,1296.2 1706.9,1289.6 1710.1,1289.6 1711.0,1295.3 1714.2,1295.3 1715.1,1294.2 1718.2,1294.2 1719.1,1295.1 1722.3,1295.1 1723.2,1291.9 1726.4,1291.9 1727.3,1294.3 1730.4,1294.3 1731.3,1294.6 1734.5,1294.6 1735.4,1299.2 1738.6,1299.2 1739.5,1295.7 1742.7,1295.7 1743.6,1299.5 1746.7,1299.5 1747.6,1295.7 1750.8,1295.7 1751.7,1296.0 1754.9,1296.0 1755.8,1297.4 1758.9,1297.4 1759.8,1292.9 1763.0,1292.9 1763.9,1297.0 1767.1,1297.0 1768.0,1297.3 1771.1,1297.3 1772.0,1298.9 1775.2,1298.9 1776.1,1300.3 1779.3,1300.3 1780.2,1298.1 1783.3,1298.1 1784.2,1298.3 1787.4,1298.3 1788.3,1304.4 1791.5,1304.4 1792.4,1299.4 1795.5,1299.4 1796.4,1301.0 1799.6,1301.0 1800.5,1300.4 1803.7,1300.4 1804.6,1301.9 1807.7,1301.9 1808.6,1306.2 1811.8,1306.2 1812.7,1306.3 1815.9,1306.3 1816.8,1299.7 1819.9,1299.7 1820.8,1303.7 1824.0,1303.7 1824.9,1307.8 1828.1,1307.8 1829.0,1304.1 1832.1,1304.1 1833.0,1306.0 1836.2,1306.0 1837.1,1309.6 1840.3,1309.6 1841.2,1310.9 1844.4,1310.9 1845.3,1309.5 1848.4,1309.5 1849.3,1305.4 1852.5,1305.4 1853.4,1304.3 1856.6,1304.3 1857.5,1295.2 1860.6,1295.2 1861.5,1293.5 1864.7,1293.5 1865.6,1303.0 1868.8,1303.0 1869.7,1311.6 1872.8,1311.6 1873.7,1307.8 1876.9,1307.8 1877.8,1309.1 1881.0,1309.1 1881.9,1310.1"/>
<polyline stroke="#550000" points="364.5,1296.1 367.7,1296.1 368.6,1298.9 371.7,1298.9 372.6,1298.4 375.8,1298.4 376.7,1295.1 379.9,1295.1 380.8,1300.1 383.9,1300.1 384.8,1294.6 388.0,1294.6 388.9,1294.9 392.1,1294.9 393.0,1298.2 396.1,1298.2 397.0,1296.9 400.2,1296.9 401.1,1296.7 404.3,1296.7 405.2,1294.8 408.3,1294.8 409.2,1301.0 412.4,1301.0 413.3,1295.7 416.5,1295.7 417.4,1299.4 420.6,1299.4 421.5,1300.3 424.6,1300.3 425.5,1298.2 428.7,1298.2 429.6,1299.0 432.8,1299.0 433.7,1300.9 436.8,1300.9 437.7,1302.3 440.9,1302.3 441.8,1300.8 445.0,1300.8 445.9,1295.0 449.0,1295.0 449.9,1293.8 453.1,1293.8 454.0,1297.0 457.2,1297.0 458.1,1295.7 461.2,1295.7 462.1,1299.7 465.3,1299.7 466.2,1298.6 469.4,1298.6 470.3,1297.6 473.4,1297.6 474.3,1300.7 477.5,1300.7 478.4,1300.4 481.6,1300.4 482.5,1297.6 485.6,1297.6 486.5,1298.4 489.7,1298.4 490.6,1300.0 493.8,1300.0 494.7,1296.3 497.8,1296.3 498.7,1297.7 501.9,1297.7 502.8,1294.3 506.0,1294.3 506.9,1296.5 510.0,1296.5 510.9,1296.9 514.1,1296.9 515.0,1295.5 518.2,1295.5 519.1,1295.9 522.3,1295.9 523.2,1296.6 526.3,1296.6 527.2,1295.5 530.4,1295.5 531.3,1292.2 534.5,1292.2 535.4,1291.9 538.5,1291.9 539.4,1289.7 542.6,1289.7 543.5,1296.4 546.7,1296.4 547.6,1292.5 550.7,1292.5 551.6,1291.7 554.8,1291.7 555.7,1289.5 558.9,1289.5 559.8,1290.3 562.9,1290.3 563.8,1289.6 567.0,1289.6 567.9,1285.4 571.1,1285.4 572.0,1286.1 575.1,1286.1 576.0,1288.6 579.2,1288.6 580.1,1281.3 583.3,1281.3 584.2,1281.5 587.3,1281.5 588.2,1285.1 591.4,1285.1 592.3,1281.0 595.5,1281.0 596.4,1284.8 599.5,1284.8 600.4,1279.6 603.6,1279.6 604.5,1282.9 607.7,1282.9 608.6,1284.2 611.7,1284.2 612.6,1282.9 615.8,1282.9 616.7,1283.8 619.9,1283.8 620.8,1281.2 624.0,1281.2 624.9,1281.2 628.0,1281.2 628.9,1281.5 632.1,1281.5 633.0,1282.9 636.2,1282.9 637.1,1291.0 640.2,1291.0 641.1,1280.6 644.3,1280.6 645.2,1285.3 648.4,1285.3 649.3,1278.8 652.4,1278.8 653.3,1275.6 656.5,1275.6 657.4,1277.0 660.6,1277.0 661.5,1278.1 664.6,1278.1 665.5,1276.9 668.7,1276.9 669.6,1276.2 672.8,1276.2 673.7,1276.7 676.8,1276.7 677.7,1276.1 680.9,1276.1 681.8,1276.4 685.0,1276.4 685.9,1269.9 689.0,1269.9 689.9,1272.6 693.1,1272.6 694.0,1269.0 697.2,1269.0 698.1,1271.5 701.2,1271.5 702.1,1269.3 705.3,1269.3 706.2,1268.2 709.4,1268.2 710.3,1264.2 713.4,1264.2 714.3,1260.9 717.5,1260.9 718.4,1260.3 721.6,1260.3 722.5,1260.7 725.7,1260.7 726.6,1258.6 729.7,1258.6 730.6,1248.6 733.8,1248.6 734.7,1251.6 737.9,1251.6 738.8,1248.6 741.9,1248.6 742.8,1239.8 746.0,1239.8 746.9,1237.3 750.1,1237.3 751.0,1235.2 754.1,1235.2 755.0,1233.9 758.2,1233.9 759.1,1220.0 762.3,1220.0 763.2,1221.5 766.3,1221.5 767.2,1215.5 770.4,1215.5 771.3,1212.0 774.5,1212.0 775.4,1209.4 778.5,1209.4 779.4,1198.6 782.6,1198.6 783.5,1179.4 786.7,1179.4 787.6,1165.4 790.7,1165.4 791.6,1151.8 794.8,1151.8 795.7,1136.0 798.9,1136.0 799.8,1117.3 802.9,1117.3 803.8,1090.5 807.0,1090.5 807.9,1050.2 811.1,1050.2 812.0,963.3 815.1,963.3 816.0,895.2 819.2,895.2 820.1,824.9 823.3,824.9 824.2,754.9 827.4,754.9 828.3,640.2 831.4,640.2 832.3,534.0 835.5,534.0 836.4,461.2 839.6,461.2 840.5,381.0 843.6,381.0 844.5,349.6 847.7,349.6 848.6,323.6 851.8,323.6 852.7,321.4 855.8,321.4 856.7,330.3 859.9,330.3 860.8,355.9 864.0,355.9 864.9,419.0 868.0,419.0 868.9,506.4 872.1,506.4 873.0,615.7 876.2,615.7 877.1,691.8 880.2,691.8 881.1,823.6 884.3,823.6 885.2,864.1 888.4,864.1 889.3,908.4 892.4,908.4 893.3,947.4 896.5,947.4 897.4,989.3 900.6,989.3 901.5,1005.4 904.6,1005.4 905.5,1020.5 908.7,1020.5 909.6,1027.9 912.8,1027.9 913.7,1036.0 916.8,1036.0 917.7,1037.8 920.9,1037.8 921.8,1044.2 925.0,1044.2 925.9,1035.2 929.1,1035.2 930.0,1033.1 933.1,1033.1 934.0,1024.9 937.2,1024.9 938.1,1011.3 941.3,1011.3 942.2,1002.5 945.3,1002.5 946.2,984.9 949.4,984.9 950.3,979.8 953.5,979.8 954.4,965.9 957.5,965.9 958.4,956.3 961.6,956.3 962.5,940.5 965.7,940.5 966.6,907.9 969.7,907.9 970.6,914.3 973.8,914.3 974.7,893.8 977.9,893.8 978.8,880.9 981.9,880.9 982.8,877.6 986.0,877.6 986.9,855.5 990.1,855.5 991.0,836.6 994.1,836.6 995.0,822.7 998.2,822.7 999.1,804.9 1002.3,804.9 1003.2,769.9 1006.3,769.9 1007.2,761.6 1010.4,761.6 1011.3,745.9 1014.5,745.9 1015.4,744.7 1018.5,744.7 1019.4,735.8 1022.6,735.8 1023.5,740.3 1026.7,740.3 1027.6,733.4 1030.8,733.4 1031.7,728.3 1034.8,728.3 1035.7,731.4 1038.9,731.4 1039.8,734.5 1043.0,734.5 1043.9,738.6 1047.0,738.6 1047.9,732.2 1051.1,732.2 1052.0,740.1 1055.2,740.1 1056.1,756.8 1059.2,756.8 1060.1,773.7 1063.3,773.7 1064.2,782.5 1067.4,782.5 1068.3,789.2 1071.4,789.2 1072.3,825.7 1075.5,825.7 1076.4,840.1 1079.6,840.1 1080.5,856.2 1083.6,856.2 1084.5,888.5 1087.7,888.5 1088.6,884.2 1091.8,884.2 1092.7,898.6 1095.8,898.6 1096.7,893.7 1099.9,893.7 1100.8,911.5 1104.0,911.5 1104.9,923.0 1108.0,923.0 1108.9,929.2 1112.1,929.2 1113.0,939.9 1116.2,939.9 1117.1,957.8 1120.2,957.8 1121.1,964.5 1124.3,964.5 1125.2,978.8 1128.4,978.8 1129.3,978.6 1132.5,978.6 1133.4,978.7 1136.5,978.7 1137.4,977.4 1140.6,977.4 1141.5,988.8 1144.7,988.8 1145.6,995.0 1148.7,995.0 1149.6,993.4 1152.8,993.4 1153.7,997.0 1156.9,997.0 1157.8,996.1 1160.9,996.1 1161.8,1001.4 1165.0,1001.4 1165.9,1010.1 1169.1,1010.1 1170.0,1011.1 1173.1,1011.1 1174.0,1014.6 1177.2,1014.6 1178.1,1016.5 1181.3,1016.5 1182.2,1018.0 1185.3,1018.0 1186.2,1022.1 1189.4,1022.1 1190.3,1026.6 1193.5,1026.6 1194.4,1016.0 1197.5,1016.0 1198.4,1017.3 1201.6,1017.3 1202.5,998.3 1205.7,998.3 1206.6,989.6 1209.7,989.6 1210.6,989.4 1213.8,989.4 1214.7,970.4 1217.9,970.4 1218.8,964.3 1221.9,964.3 1222.8,964.2 1226.0,964.2 1226.9,951.8 1230.1,951.8 1231.0,947.7 1234.2,947.7 1235.1,962.7 1238.2,962.7 1239.1,948.1 1242.3,948.1 1243.2,949.8 1246.4,949.8 1247.3,948.3 1250.4,948.3 1251.3,943.6 1254.5,943.6 1255.4,951.0 1258.6,951.0 1259.5,948.2 1262.6,948.2 1263.5,947.7 1266.7,947.7 1267.6,946.2 1270.8,946.2 1271.7,942.2 1274.8,942.2 1275.7,949.9 1278.9,949.9 1279.8,947.6 1283.0,947.6 1283.9,938.3 1287.0,938.3 1287.9,942.4 1291.1,942.4 1292.0,941.3 1295.2,941.3 1296.1,956.4 1299.2,956.4 1300.1,952.5 1303.3,952.5 1304.2,954.1 1307.4,954.1 1308.3,954.8 1311.4,954.8 1312.3,963.7 1315.5,963.7 1316.4,965.6 1319.6,965.6 1320.5,983.9 1323.6,983.9 1324.5,992.9 1327.7,992.9 1328.6,1000.6 1331.8,1000.6 1332.7,1004.7 1335.9,1004.7 1336.8,1020.4 1339.9,1020.4 1340.8,1023.2 1344.0,1023.2 1344.9,1037.4 1348.1,1037.4 1349.0,1049.2 1352.1,1049.2 1353.0,1060.0 1356.2,1060.0 1357.1,1068.4 1360.3,1068.4 1361.2,1077.3 1364.3,1077.3 1365.2,1088.9 1368.4,1088.9 1369.3,1102.1 1372.5,1102.1 1373.4,1109.4 1376.5,1109.4 1377.4,1121.8 1380.6,1121.8 1381.5,1125.6 1384.7,1125.6 1385.6,1139.2 1388.7,1139.2 1389.6,1155.2 1392.8,1155.2 1393.7,1147.8 1396.9,1147.8 1397.8,1158.8 1400.9,1158.8 1401.8,1169.6 1405.0,1169.6 1405.9,1170.9 1409.1,1170.9 1410.0,1178.4 1413.1,1178.4 1414.0,1171.4 1417.2,1171.4 1418.1,1181.7 1421.3,1181.7 1422.2,1193.2 1425.3,1193.2 1426.2,1188.7 1429.4,1188.7 1430.3,1195.4 1433.5,1195.4 1434.4,1189.9 1437.6,1189.9 1438.5,1203.6 1441.6,1203.6 1442.5,1210.6 1445.7,1210.6 1446.6,1204.9 1449.8,1204.9 1450.7,1209.1 1453.8,1209.1 1454.7,1212.0 1457.9,1212.0 1458.8,1220.6 1462.0,1220.6 1462.9,1214.2 1466.0,1214.2 1466.9,1212.5 1470.1,1212.5 1471.0,1227.2 1474.2,1227.2 1475.1,1219.1 1478.2,1219.1 1479.1,1227.2 1482.3,1227.2 1483.2,1219.7 1486.4,1219.7 1487.3,1228.1 1490.4,1228.1 1491.3,1232.2 1494.5,1232.2 1495.4,1230.0 1498.6,1230.0 1499.5,1233.8 1502.6,1233.8 1503.5,1239.3 1506.7,1239.3 1507.6,1236.9 1510.8,1236.9 1511.7,1242.6 1514.8,1242.6 1515.7,1248.3 1518.9,1248.3 1519.8,1238.0 1523.0,1238.0 1523.9,1247.1 1527.0,1247.1 1527.9,1249.5 1531.1,1249.5 1532.0,1248.1 1535.2,1248.1 1536.1,1255.5 1539.3,1255.5 1540.2,1256.3 1543.3,1256.3 1544.2,1255.1 1547.4,1255.1 1548.3,1256.3 1551.5,1256.3 1552.4,1255.8 1555.5,1255.8 1556.4,1253.8 1559.6,1253.8 1560.5,1259.7 1563.7,1259.7 1564.6,1258.0 1567.7,1258.0 1568.6,1258.9 1571.8,1258.9 1572.7,1265.0 1575.9,1265.0 1576.8,1262.4 1579.9,1262.4 1580.8,1267.0 1584.0,1267.0 1584.9,1262.4 1588.1,1262.4 1589.0,1265.4 1592.1,1265.4 1593.0,1267.8 1596.2,1267.8 1597.1,1272.9 1600.3,1272.9 1601.2,1270.0 1604.3,1270.0 1605.2,1273.9 1608.4,1273.9 1609.3,1271.2 1612.5,1271.2 1613.4,1275.1 1616.5,1275.1 1617.4,1279.2 1620.6,1279.2 1621.5,1277.1 1624.7,1277.1 1625.6,1280.0 1628.7,1280.0 1629.6,1285.0 1632.8,1285.0 1633.7,1281.0 1636.9,1281.0 1637.8,1285.4 1641.0,1285.4 1641.9,1285.8 1645.0,1285.8 1645.9,1285.0 1649.1,1285.0 1650.0,1287.5 1653.2,1287.5 1654.1,1286.9 1657.2,1286.9 1658.1,1286.4 1661.3,1286.4 1662.2,1282.2 1665.4,1282.2 1666.3,1282.4 1669.4,1282.4 1670.3,1287.1 1673.5,1287.1 1674.4,1282.6 1677.6,1282.6 1678.5,1287.2 1681.6,1287.2 1682.5,1286.5 1685.7,1286.5 1686.6,1285.6 1689.8,1285.6 1690.7,1287.6 1693.8,1287.6 1694.7,1282.7 1697.9,1282.7 1698.8,1288.8 1702.0,1288.8 1702.9,1293.0 1706.0,1293.0 1706.9,1287.2 1710.1,1287.2 1711.0,1292.1 1714.2,1292.1 1715.1,1292.3 1718.2,1292.3 1719.1,1299.5 1722.3,1299.5 1723.2,1290.1 1726.4,1290.1 1727.3,1291.0 1730.4,1291.0 1731.3,1291.6 1734.5,1291.6 1735.4,1291.6 1738.6,1291.6 1739.5,1290.4 1742.7,1290.4 1743.6,1295.1 1746.7,1295.1 1747.6,1293.2 1750.8,1293.2 1751.7,1297.8 1754.9,1297.8 1755.8,1297.3 1758.9,1297.3 1759.8,1294.4 1763.0,1294.4 1763.9,1296.5 1767.1,1296.5 1768.0,1301.2 1771.1,1301.2 1772.0,1297.7 1775.2,1297.7 1776.1,1299.6 1779.3,1299.6 1780.2,1301.7 1783.3,1301.7 1784.2,1299.3 1787.4,1299.3 1788.3,1301.8 1791.5,1301.8 1792.4,1305.0 1795.5,1305.0 1796.4,1304.4 1799.6,1304.4 1800.5,1298.0 1803.7,1298.0 1804.6,1306.0 1807.7,1306.0 1808.6,1302.4 1811.8,1302.4 1812.7,1301.8 1815.9,1301.8 1816.8,1302.1 1819.9,1302.1 1820.8,1306.8 1824.0,1306.8 1824.9,1305.0 1828.1,1305.0 1829.0,1304.3 1832.1,1304.3 1833.0,1303.1 1836.2,1303.1 1837.1,1306.7 1840.3,1306.7 1841.2,1308.1 1844.4,1308.1 1845.3,1303.5 1848.4,1303.5 1849.3,1303.4 1852.5,1303.4 1853.4,1303.1 1856.6,1303.1 1857.5,1295.4 1860.6,1295.4 1861.5,1292.5 1864.7,1292.5 1865.6,1303.9 1868.8,1303.9 1869.7,1305.0 1872.8,1305.0 1873.7,1309.9 1876.9,1309.9 1877.8,1306.9 1881.0,1306.9 1881.9,1307.7"/>
<polyline stroke="#0088CC" points="364.5,1317.3 367.7,1317.3 368.6,1318.6 371.7,1318.6 372.6,1317.6 375.8,1317.6 376.7,1319.5 379.9,1319.5 380.8,1314.6 383.9,1314.6 384.8,1313.4 388.0,1313.4 388.9,1318.6 392.1,1318.6 393.0,1317.0 396.1,1317.0 397.0,1318.3 400.2,1318.3 401.1,1315.2 404.3,1315.2 405.2,1316.9 408.3,1316.9 409.2,1317.7 412.4,1317.7 413.3,1318.3 416.5,1318.3 417.4,1317.6 420.6,1317.6 421.5,1319.9 424.6,1319.9 425.5,1316.4 428.7,1316.4 429.6,1319.3 432.8,1319.3 433.7,1316.7 436.8,1316.7 437.7,1317.6 440.9,1317.6 441.8,1315.6 445.0,1315.6 445.9,1317.9 449.0,1317.9 449.9,1315.7 453.1,1315.7 454.0,1319.7 457.2,1319.7 458.1,1316.6 461.2,1316.6 462.1,1318.3 465.3,1318.3 466.2,1317.4 469.4,1317.4 470.3,1317.7 473.4,1317.7 474.3,1315.9 477.5,1315.9 478.4,1322.0 481.6,1322.0 482.5,1317.1 485.6,1317.1 486.5,1320.9 489.7,1320.9 490.6,1315.3 493.8,1315.3 494.7,1321.9 497.8,1321.9 498.7,1319.8 501.9,1319.8 502.8,1321.2 506.0,1321.2 506.9,1314.4 510.0,1314.4 510.9,1320.4 514.1,1320.4 515.0,1317.5 518.2,1317.5 519.1,1318.8 522.3,1318.8 523.2,1321.4 526.3,1321.4 527.2,1318.4 530.4,1318.4 531.3,1316.3 534.5,1316.3 535.4,1318.0 538.5,1318.0 539.4,1315.6 542.6,1315.6 543.5,1318.3 546.7,1318.3 547.6,1317.5 550.7,1317.5 551.6,1318.3 554.8,1318.3 555.7,1316.7 558.9,1316.7 559.8,1313.5 562.9,1313.5 563.8,1316.6 567.0,1316.6 567.9,1316.9 571.1,1316.9 572.0,1318.6 575.1,1318.6 576.0,1318.8 579.2,1318.8 580.1,1314.2 583.3,1314.2 584.2,1319.5 587.3,1319.5 588.2,1319.0 591.4,1319.0 592.3,1317.3 595.5,1317.3 596.4,1318.0 599.5,1318.0 600.4,1313.0 603.6,1313.0 604.5,1322.0 607.7,1322.0 608.6,1316.3 611.7,1316.3 612.6,1315.6 615.8,1315.6 616.7,1319.4 619.9,1319.4 620.8,1318.4 624.0,1318.4 624.9,1316.2 628.0,1316.2 628.9,1313.7 632.1,1313.7 633.0,1319.0 636.2,1319.0 637.1,1320.3 640.2,1320.3 641.1,1315.0 644.3,1315.0 645.2,1313.8 648.4,1313.8 649.3,1317.7 652.4,1317.7 653.3,1321.5 656.5,1321.5 657.4,1313.9 660.6,1313.9 661.5,1317.3 664.6,1317.3 665.5,1314.5 668.7,1314.5 669.6,1316.9 672.8,1316.9 673.7,1317.5 676.8,1317.5 677.7,1317.7 680.9,1317.7 681.8,1313.6 685.0,1313.6 685.9,1313.7 689.0,1313.7 689.9,1321.1 693.1,1321.1 694.0,1318.6 697.2,1318.6 698.1,1312.9 701.2,1312.9 702.1,1317.3 705.3,1317.3 706.2,1319.3 709.4,1319.3 710.3,1316.3 713.4,1316.3 714.3,1316.4 717.5,1316.4 718.4,1316.3 721.6,1316.3 722.5,1317.0 725.7,1317.0 726.6,1316.6 729.7,1316.6 730.6,1316.7 733.8,1316.7 734.7,1315.0 737.9,1315.0 738.8,1317.2 741.9,1317.2 742.8,1316.0 746.0,1316.0 746.9,1315.5 750.1,1315.5 751.0,1312.3 754.1,1312.3 755.0,1314.0 758.2,1314.0 759.1,1314.8 762.3,1314.8 763.2,1313.2 766.3,1313.2 767.2,1313.3 770.4,1313.3 771.3,1311.5 774.5,1311.5 775.4,1312.5 778.5,1312.5 779.4,1309.2 782.6,1309.2 783.5,1309.6 786.7,1309.6 787.6,1311.9 790.7,1311.9 791.6,1312.0 794.8,1312.0 795.7,1308.3 798.9,1308.3 799.8,1308.1 802.9,1308.1 803.8,1308.5 807.0,1308.5 807.9,1309.5 811.1,1309.5 812.0,1307.1 815.1,1307.1 816.0,1299.0 819.2,1299.0 820.1,1295.2 823.3,1295.2 824.2,1291.4 827.4,1291.4 828.3,1291.0 831.4,1291.0 832.3,1280.0 835.5,1280.0 836.4,1279.8 839.6,1279.8 840.5,1274.8 843.6,1274.8 844.5,1273.4 847.7,1273.4 848.6,1276.0 851.8,1276.0 852.7,1275.2 855.8,1275.2 856.7,1279.7 859.9,1279.7 860.8,1277.5 864.0,1277.5 864.9,1282.9 868.0,1282.9 868.9,1281.1 872.1,1281.1 873.0,1286.2 876.2,1286.2 877.1,1287.8 880.2,1287.8 881.1,1294.9 884.3,1294.9 885.2,1300.0 888.4,1300.0 889.3,1299.6 892.4,1299.6 893.3,1302.9 896.5,1302.9 897.4,1302.0 900.6,1302.0 901.5,1303.8 904.6,1303.8 905.5,1307.4 908.7,1307.4 909.6,1305.5 912.8,1305.5 913.7,1305.7 916.8,1305.7 917.7,1306.8 920.9,1306.8 921.8,1304.1 925.0,1304.1 925.9,1302.1 929.1,1302.1 930.0,1306.6 933.1,1306.6 934.0,1306.1 937.2,1306.1 938.1,1309.9 941.3,1309.9 942.2,1304.5 945.3,1304.5 946.2,1304.7 949.4,1304.7 950.3,1308.2 953.5,1308.2 954.4,1302.0 957.5,1302.0 958.4,1297.8 961.6,1297.8 962.5,1285.2 965.7,1285.2 966.6,1275.7 969.7,1275.7 970.6,1293.8 973.8,1293.8 974.7,1297.1 977.9,1297.1 978.8,1302.5 981.9,1302.5 982.8,1298.9 986.0,1298.9 986.9,1291.4 990.1,1291.4 991.0,1284.4 994.1,1284.4 995.0,1290.3 998.2,1290.3 999.1,1295.3 1002.3,1295.3 1003.2,1296.9 1006.3,1296.9 1007.2,1293.4 1010.4,1293.4 1011.3,1291.8 1014.5,1291.8 1015.4,1295.0 1018.5,1295.0 1019.4,1291.4 1022.6,1291.4 1023.5,1289.1 1026.7,1289.1 1027.6,1289.4 1030.8,1289.4 1031.7,1296.0 1034.8,1296.0 1035.7,1294.4 1038.9,1294.4 1039.8,1296.0 1043.0,1296.0 1043.9,1289.3 1047.0,1289.3 1047.9,1290.6 1051.1,1290.6 1052.0,1290.8 1055.2,1290.8 1056.1,1295.3 1059.2,1295.3 1060.1,1296.6 1063.3,1296.6 1064.2,1294.3 1067.4,1294.3 1068.3,1295.1 1071.4,1295.1 1072.3,1298.3 1075.5,1298.3 1076.4,1296.7 1079.6,1296.7 1080.5,1296.2 1083.6,1296.2 1084.5,1297.9 1087.7,1297.9 1088.6,1301.5 1091.8,1301.5 1092.7,1304.4 1095.8,1304.4 1096.7,1300.4 1099.9,1300.4 1100.8,1299.7 1104.0,1299.7 1104.9,1301.1 1108.0,1301.1 1108.9,1301.9 1112.1,1301.9 1113.0,1303.1 1116.2,1303.1 1117.1,1300.5 1120.2,1300.5 1121.1,1302.7 1124.3,1302.7 1125.2,1302.6 1128.4,1302.6 1129.3,1305.4 1132.5,1305.4 1133.4,1304.9 1136.5,1304.9 1137.4,1303.3 1140.6,1303.3 1141.5,1306.2 1144.7,1306.2 1145.6,1307.0 1148.7,1307.0 1149.6,1305.0 1152.8,1305.0 1153.7,1301.6 1156.9,1301.6 1157.8,1304.0 1160.9,1304.0 1161.8,1301.2 1165.0,1301.2 1165.9,1305.0 1169.1,1305.0 1170.0,1305.5 1173.1,1305.5 1174.0,1308.1 1177.2,1308.1 1178.1,1306.4 1181.3,1306.4 1182.2,1301.8 1185.3,1301.8 1186.2,1304.3 1189.4,1304.3 1190.3,1303.3 1193.5,1303.3 1194.4,1303.2 1197.5,1303.2 1198.4,1304.5 1201.6,1304.5 1202.5,1304.6 1205.7,1304.6 1206.6,1303.5 1209.7,1303.5 1210.6,1301.8 1213.8,1301.8 1214.7,1302.0 1217.9,1302.0 1218.8,1301.7 1221.9,1301.7 1222.8,1302.3 1226.0,1302.3 1226.9,1304.2 1230.1,1304.2 1231.0,1302.9 1234.2,1302.9 1235.1,1304.4 1238.2,1304.4 1239.1,1299.8 1242.3,1299.8 1243.2,1306.9 1246.4,1306.9 1247.3,1302.5 1250.4,1302.5 1251.3,1296.3 1254.5,1296.3 1255.4,1302.6 1258.6,1302.6 1259.5,1304.4 1262.6,1304.4 1263.5,1301.7 1266.7,1301.7 1267.6,1298.5 1270.8,1298.5 1271.7,1301.9 1274.8,1301.9 1275.7,1300.1 1278.9,1300.1 1279.8,1301.3 1283.0,1301.3 1283.9,1302.4 1287.0,1302.4 1287.9,1294.2 1291.1,1294.2 1292.0,1301.5 1295.2,1301.5 1296.1,1303.0 1299.2,1303.0 1300.1,1303.0 1303.3,1303.0 1304.2,1301.1 1307.4,1301.1 1308.3,1301.2 1311.4,1301.2 1312.3,1300.6 1315.5,1300.6 1316.4,1302.6 1319.6,1302.6 1320.5,1306.8 1323.6,1306.8 1324.5,1302.7 1327.7,1302.7 1328.6,1304.9 1331.8,1304.9 1332.7,1305.2 1335.9,1305.2 1336.8,1308.4 1339.9,1308.4 1340.8,1306.8 1344.0,1306.8 1344.9,1307.7 1348.1,1307.7 1349.0,1306.6 1352.1,1306.6 1353.0,1310.2 1356.2,1310.2 1357.1,1307.3 1360.3,1307.3 1361.2,1307.7 1364.3,1307.7 1365.2,1310.9 1368.4,1310.9 1369.3,1310.3 1372.5,1310.3 1373.4,1311.3 1376.5,1311.3 1377.4,1307.8 1380.6,1307.8 1381.5,1315.7 1384.7,1315.7 1385.6,1311.3 1388.7,1311.3 1389.6,1314.5 1392.8,1314.5 1393.7,1312.1 1396.9,1312.1 1397.8,1309.6 1400.9,1309.6 1401.8,1313.1 1405.0,1313.1 1405.9,1311.6 1409.1,1311.6 1410.0,1314.0 1413.1,1314.0 1414.0,1308.2 1417.2,1308.2 1418.1,1310.6 1421.3,1310.6 1422.2,1310.3 1425.3,1310.3 1426.2,1315.7 1429.4,1315.7 1430.3,1315.4 1433.5,1315.4 1434.4,1310.8 1437.6,1310.8 1438.5,1313.7 1441.6,1313.7 1442.5,1314.0 1445.7,1314.0 1446.6,1312.8 1449.8,1312.8 1450.7,1316.3 1453.8,1316.3 1454.7,1312.1 1457.9,1312.1 1458.8,1313.9 1462.0,1313.9 1462.9,1313.0 1466.0,1313.0 1466.9,1315.6 1470.1,1315.6 1471.0,1313.2 1474.2,1313.2 1475.1,1315.9 1478.2,1315.9 1479.1,1312.4 1482.3,1312.4 1483.2,1312.2 1486.4,1312.2 1487.3,1312.7 1490.4,1312.7 1491.3,1313.6 1494.5,1313.6 1495.4,1313.5 1498.6,1313.5 1499.5,1320.6 1502.6,1320.6 1503.5,1313.2 1506.7,1313.2 1507.6,1315.7 1510.8,1315.7 1511.7,1315.0 1514.8,1315.0 1515.7,1315.8 1518.9,1315.8 1519.8,1318.3 1523.0,1318.3 1523.9,1316.5 1527.0,1316.5 1527.9,1314.1 1531.1,1314.1 1532.0,1312.6 1535.2,1312.6 1536.1,1316.9 1539.3,1316.9 1540.2,1317.6 1543.3,1317.6 1544.2,1312.7 1547.4,1312.7 1548.3,1317.6 1551.5,1317.6 1552.4,1311.5 1555.5,1311.5 1556.4,1315.8 1559.6,1315.8 1560.5,1317.8 1563.7,1317.8 1564.6,1313.9 1567.7,1313.9 1568.6,1312.5 1571.8,1312.5 1572.7,1319.1 1575.9,1319.1 1576.8,1312.9 1579.9,1312.9 1580.8,1316.8 1584.0,1316.8 1584.9,1313.2 1588.1,1313.2 1589.0,1317.1 1592.1,1317.1 1593.0,1319.7 1596.2,1319.7 1597.1,1315.4 1600.3,1315.4 1601.2,1314.6 1604.3,1314.6 1605.2,1312.2 1608.4,1312.2 1609.3,1313.0 1612.5,1313.0 1613.4,1315.3 1616.5,1315.3 1617.4,1317.3 1620.6,1317.3 1621.5,1318.0 1624.7,1318.0 1625.6,1317.6 1628.7,1317.6 1629.6,1318.8 1632.8,1318.8 1633.7,1317.7 1636.9,1317.7 1637.8,1322.4 1641.0,1322.4 1641.9,1316.8 1645.0,1316.8 1645.9,1317.2 1649.1,1317.2 1650.0,1311.9 1653.2,1311.9 1654.1,1315.6 1657.2,1315.6 1658.1,1318.2 1661.3,1318.2 1662.2,1316.0 1665.4,1316.0 1666.3,1319.8 1669.4,1319.8 1670.3,1318.5 1673.5,1318.5 1674.4,1321.1 1677.6,1321.1 1678.5,1314.3 1681.6,1314.3 1682.5,1316.0 1685.7,1316.0 1686.6,1319.7 1689.8,1319.7 1690.7,1317.4 1693.8,1317.4 1694.7,1315.4 1697.9,1315.4 1698.8,1316.3 1702.0,1316.3 1702.9,1316.6 1706.0,1316.6 1706.9,1319.2 1710.1,1319.2 1711.0,1318.8 1714.2,1318.8 1715.1,1317.3 1718.2,1317.3 1719.1,1315.6 1722.3,1315.6 1723.2,1319.2 1726.4,1319.2 1727.3,1319.8 1730.4,1319.8 1731.3,1315.2 1734.5,1315.2 1735.4,1319.5 1738.6,1319.5 1739.5,1315.4 1742.7,1315.4 1743.6,1317.1 1746.7,1317.1 1747.6,1315.8 1750.8,1315.8 1751.7,1314.1 1754.9,1314.1 1755.8,1316.3 1758.9,1316.3 1759.8,1316.1 1763.0,1316.1 1763.9,1319.6 1767.1,1319.6 1768.0,1319.2 1771.1,1319.2 1772.0,1316.4 1775.2,1316.4 1776.1,1314.6 1779.3,1314.6 1780.2,1315.0 1783.3,1315.0 1784.2,1313.1 1787.4,1313.1 1788.3,1317.2 1791.5,1317.2 1792.4,1317.5 1795.5,1317.5 1796.4,1315.8 1799.6,1315.8 1800.5,1317.9 1803.7,1317.9 1804.6,1318.1 1807.7,1318.1 1808.6,1320.1 1811.8,1320.1 1812.7,1315.9 1815.9,1315.9 1816.8,1320.2 1819.9,1320.2 1820.8,1317.0 1824.0,1317.0 1824.9,1321.0 1828.1,1321.0 1829.0,1315.8 1832.1,1315.8 1833.0,1320.2 1836.2,1320.2 1837.1,1316.3 1840.3,1316.3 1841.2,1321.4 1844.4,1321.4 1845.3,1319.0 1848.4,1319.0 1849.3,1315.7 1852.5,1315.7 1853.4,1319.7 1856.6,1319.7 1857.5,1317.4 1860.6,1317.4 1861.5,1318.5 1864.7,1318.5 1865.6,1322.8 1868.8,1322.8 1869.7,1317.5 1872.8,1317.5 1873.7,1317.3 1876.9,1317.3 1877.8,1320.4 1881.0,1320.4 1881.9,1317.0"/>
<polyline stroke="#FF8800" points="364.5,1317.5 367.7,1317.5 368.6,1318.0 371.7,1318.0 372.6,1315.9 375.8,1315.9 376.7,1317.3 379.9,1317.3 380.8,1311.1 383.9,1311.1 384.8,1319.2 388.0,1319.2 388.9,1314.4 392.1,1314.4 393.0,1313.8 396.1,1313.8 397.0,1320.1 400.2,1320.1 401.1,1319.6 404.3,1319.6 405.2,1314.7 408.3,1314.7 409.2,1316.9 412.4,1316.9 413.3,1315.1 416.5,1315.1 417.4,1313.6 420.6,1313.6 421.5,1316.7 424.6,1316.7 425.5,1318.2 428.7,1318.2 429.6,1321.7 432.8,1321.7 433.7,1315.5 436.8,1315.5 437.7,1317.9 440.9,1317.9 441.8,1315.3 445.0,1315.3 445.9,1315.5 449.0,1315.5 449.9,1318.9 453.1,1318.9 454.0,1312.4 457.2,1312.4 458.1,1313.7 461.2,1313.7 462.1,1314.2 465.3,1314.2 466.2,1318.5 469.4,1318.5 470.3,1316.9 473.4,1316.9 474.3,1317.2 477.5,1317.2 478.4,1316.9 481.6,1316.9 482.5,1318.4 485.6,1318.4 486.5,1315.2 489.7,1315.2 490.6,1315.6 493.8,1315.6 494.7,1315.3 497.8,1315.3 498.7,1317.1 501.9,1317.1 502.8,1313.4 506.0,1313.4 506.9,1315.7 510.0,1315.7 510.9,1321.8 514.1,1321.8 515.0,1317.5 518.2,1317.5 519.1,1316.2 522.3,1316.2 523.2,1314.1 526.3,1314.1 527.2,1316.8 530.4,1316.8 531.3,1316.7 534.5,1316.7 535.4,1317.5 538.5,1317.5 539.4,1314.8 542.6,1314.8 543.5,1317.1 546.7,1317.1 547.6,1317.4 550.7,1317.4 551.6,1317.7 554.8,1317.7 555.7,1315.0 558.9,1315.0 559.8,1317.3 562.9,1317.3 563.8,1319.7 567.0,1319.7 567.9,1314.9 571.1,1314.9 572.0,1317.7 575.1,1317.7 576.0,1315.5 579.2,1315.5 580.1,1315.4 583.3,1315.4 584.2,1313.7 587.3,1313.7 588.2,1314.1 591.4,1314.1 592.3,1317.5 595.5,1317.5 596.4,1316.6 599.5,1316.6 600.4,1319.0 603.6,1319.0 604.5,1312.8 607.7,1312.8 608.6,1315.4 611.7,1315.4 612.6,1313.4 615.8,1313.4 616.7,1317.0 619.9,1317.0 620.8,1320.6 624.0,1320.6 624.9,1313.1 628.0,1313.1 628.9,1316.1 632.1,1316.1 633.0,1316.0 636.2,1316.0 637.1,1316.2 640.2,1316.2 641.1,1315.0 644.3,1315.0 645.2,1315.2 648.4,1315.2 649.3,1319.7 652.4,1319.7 653.3,1314.1 656.5,1314.1 657.4,1317.5 660.6,1317.5 661.5,1317.3 664.6,1317.3 665.5,1312.8 668.7,1312.8 669.6,1314.5 672.8,1314.5 673.7,1317.1 676.8,1317.1 677.7,1320.3 680.9,1320.3 681.8,1316.1 685.0,1316.1 685.9,1315.3 689.0,1315.3 689.9,1316.6 693.1,1316.6 694.0,1319.0 697.2,1319.0 698.1,1318.1 701.2,1318.1 702.1,1319.1 705.3,1319.1 706.2,1316.0 709.4,1316.0 710.3,1314.7 713.4,1314.7 714.3,1314.3 717.5,1314.3 718.4,1318.0 721.6,1318.0 722.5,1316.0 725.7,1316.0 726.6,1315.3 729.7,1315.3 730.6,1317.6 733.8,1317.6 734.7,1316.8 737.9,1316.8 738.8,1312.1 741.9,1312.1 742.8,1316.1 746.0,1316.1 746.9,1314.7 750.1,1314.7 751.0,1317.4 754.1,1317.4 755.0,1316.4 758.2,1316.4 759.1,1320.1 762.3,1320.1 763.2,1316.6 766.3,1316.6 767.2,1314.1 770.4,1314.1 771.3,1312.2 774.5,1312.2 775.4,1314.1 778.5,1314.1 779.4,1315.1 782.6,1315.1 783.5,1316.5 786.7,1316.5 787.6,1317.8 790.7,1317.8 791.6,1316.9 794.8,1316.9 795.7,1315.3 798.9,1315.3 799.8,1318.2 802.9,1318.2 803.8,1314.7 807.0,1314.7 807.9,1318.7 811.1,1318.7 812.0,1320.3 815.1,1320.3 816.0,1318.7 819.2,1318.7 820.1,1320.1 823.3,1320.1 824.2,1319.5 827.4,1319.5 828.3,1314.3 831.4,1314.3 832.3,1317.1 835.5,1317.1 836.4,1316.2 839.6,1316.2 840.5,1314.3 843.6,1314.3 844.5,1314.1 847.7,1314.1 848.6,1317.7 851.8,1317.7 852.7,1313.9 855.8,1313.9 856.7,1315.9 859.9,1315.9 860.8,1316.7 864.0,1316.7 864.9,1315.8 868.0,1315.8 868.9,1319.7 872.1,1319.7 873.0,1318.4 876.2,1318.4 877.1,1317.0 880.2,1317.0 881.1,1315.5 884.3,1315.5 885.2,1317.5 888.4,1317.5 889.3,1317.0 892.4,1317.0 893.3,1314.7 896.5,1314.7 897.4,1313.8 900.6,1313.8 901.5,1315.2 904.6,1315.2 905.5,1314.1 908.7,1314.1 909.6,1317.6 912.8,1317.6 913.7,1317.4 916.8,1317.4 917.7,1316.1 920.9,1316.1 921.8,1317.4 925.0,1317.4 925.9,1317.9 929.1,1317.9 930.0,1313.4 933.1,1313.4 934.0,1317.2 937.2,1317.2 938.1,1318.8 941.3,1318.8 942.2,1315.8 945.3,1315.8 946.2,1313.0 949.4,1313.0 950.3,1316.7 953.5,1316.7 954.4,1314.3 957.5,1314.3 958.4,1317.2 961.6,1317.2 962.5,1314.1 965.7,1314.1 966.6,1312.9 969.7,1312.9 970.6,1315.3 973.8,1315.3 974.7,1312.9 977.9,1312.9 978.8,1319.3 981.9,1319.3 982.8,1313.5 986.0,1313.5 986.9,1319.0 990.1,1319.0 991.0,1317.4 994.1,1317.4 995.0,1315.2 998.2,1315.2 999.1,1315.6 1002.3,1315.6 1003.2,1316.4 1006.3,1316.4 1007.2,1320.4 1010.4,1320.4 1011.3,1316.2 1014.5,1316.2 1015.4,1319.1 1018.5,1319.1 1019.4,1311.6 1022.6,1311.6 1023.5,1317.4 1026.7,1317.4 1027.6,1316.6 1030.8,1316.6 1031.7,1319.4 1034.8,1319.4 1035.7,1318.0 1038.9,1318.0 1039.8,1319.7 1043.0,1319.7 1043.9,1315.0 1047.0,1315.0 1047.9,1317.6 1051.1,1317.6 1052.0,1315.9 1055.2,1315.9 1056.1,1318.5 1059.2,1318.5 1060.1,1318.1 1063.3,1318.1 1064.2,1314.4 1067.4,1314.4 1068.3,1319.1 1071.4,1319.1 1072.3,1320.8 1075.5,1320.8 1076.4,1316.2 1079.6,1316.2 1080.5,1319.4 1083.6,1319.4 1084.5,1318.0 1087.7,1318.0 1088.6,1315.2 1091.8,1315.2 1092.7,1318.8 1095.8,1318.8 1096.7,1315.3 1099.9,1315.3 1100.8,1318.5 1104.0,1318.5 1104.9,1314.0 1108.0,1314.0 1108.9,1314.4 1112.1,1314.4 1113.0,1318.1 1116.2,1318.1 1117.1,1317.6 1120.2,1317.6 1121.1,1318.9 1124.3,1318.9 1125.2,1316.7 1128.4,1316.7 1129.3,1314.8 1132.5,1314.8 1133.4,1320.2 1136.5,1320.2 1137.4,1315.3 1140.6,1315.3 1141.5,1319.9 1144.7,1319.9 1145.6,1319.0 1148.7,1319.0 1149.6,1320.9 1152.8,1320.9 1153.7,1312.8 1156.9,1312.8 1157.8,1317.1 1160.9,1317.1 1161.8,1316.7 1165.0,1316.7 1165.9,1318.6 1169.1,1318.6 1170.0,1315.0 1173.1,1315.0 1174.0,1321.6 1177.2,1321.6 1178.1,1317.2 1181.3,1317.2 1182.2,1312.7 1185.3,1312.7 1186.2,1318.0 1189.4,1318.0 1190.3,1317.2 1193.5,1317.2 1194.4,1315.9 1197.5,1315.9 1198.4,1319.0 1201.6,1319.0 1202.5,1317.2 1205.7,1317.2 1206.6,1315.3 1209.7,1315.3 1210.6,1316.9 1213.8,1316.9 1214.7,1316.5 1217.9,1316.5 1218.8,1318.0 1221.9,1318.0 1222.8,1316.7 1226.0,1316.7 1226.9,1317.2 1230.1,1317.2 1231.0,1314.3 1234.2,1314.3 1235.1,1315.8 1238.2,1315.8 1239.1,1317.9 1242.3,1317.9 1243.2,1322.4 1246.4,1322.4 1247.3,1315.9 1250.4,1315.9 1251.3,1315.8 1254.5,1315.8 1255.4,1319.3 1258.6,1319.3 1259.5,1321.5 1262.6,1321.5 1263.5,1319.8 1266.7,1319.8 1267.6,1315.5 1270.8,1315.5 1271.7,1319.6 1274.8,1319.6 1275.7,1318.4 1278.9,1318.4 1279.8,1317.0 1283.0,1317.0 1283.9,1314.9 1287.0,1314.9 1287.9,1317.5 1291.1,1317.5 1292.0,1317.6 1295.2,1317.6 1296.1,1318.6 1299.2,1318.6 1300.1,1314.1 1303.3,1314.1 1304.2,1315.3 1307.4,1315.3 1308.3,1317.7 1311.4,1317.7 1312.3,1320.4 1315.5,1320.4 1316.4,1319.1 1319.6,1319.1 1320.5,1316.3 1323.6,1316.3 1324.5,1319.0 1327.7,1319.0 1328.6,1315.7 1331.8,1315.7 1332.7,1316.8 1335.9,1316.8 1336.8,1316.9 1339.9,1316.9 1340.8,1316.2 1344.0,1316.2 1344.9,1316.5 1348.1,1316.5 1349.0,1319.3 1352.1,1319.3 1353.0,1318.2 1356.2,1318.2 1357.1,1312.7 1360.3,1312.7 1361.2,1320.1 1364.3,1320.1 1365.2,1318.5 1368.4,1318.5 1369.3,1315.4 1372.5,1315.4 1373.4,1317.9 1376.5,1317.9 1377.4,1319.3 1380.6,1319.3 1381.5,1320.3 1384.7,1320.3 1385.6,1316.5 1388.7,1316.5 1389.6,1315.5 1392.8,1315.5 1393.7,1314.7 1396.9,1314.7 1397.8,1317.5 1400.9,1317.5 1401.8,1315.5 1405.0,1315.5 1405.9,1319.8 1409.1,1319.8 1410.0,1317.3 1413.1,1317.3 1414.0,1319.0 1417.2,1319.0 1418.1,1317.3 1421.3,1317.3 1422.2,1316.1 1425.3,1316.1 1426.2,1315.5 1429.4,1315.5 1430.3,1319.7 1433.5,1319.7 1434.4,1315.1 1437.6,1315.1 1438.5,1318.7 1441.6,1318.7 1442.5,1319.8 1445.7,1319.8 1446.6,1318.1 1449.8,1318.1 1450.7,1320.7 1453.8,1320.7 1454.7,1317.7 1457.9,1317.7 1458.8,1317.1 1462.0,1317.1 1462.9,1318.1 1466.0,1318.1 1466.9,1316.6 1470.1,1316.6 1471.0,1318.4 1474.2,1318.4 1475.1,1317.7 1478.2,1317.7 1479.1,1320.7 1482.3,1320.7 1483.2,1317.7 1486.4,1317.7 1487.3,1319.5 1490.4,1319.5 1491.3,1318.7 1494.5,1318.7 1495.4,1318.0 1498.6,1318.0 1499.5,1317.4 1502.6,1317.4 1503.5,1321.2 1506.7,1321.2 1507.6,1321.0 1510.8,1321.0 1511.7,1318.4 1514.8,1318.4 1515.7,1316.8 1518.9,1316.8 1519.8,1317.1 1523.0,1317.1 1523.9,1316.0 1527.0,1316.0 1527.9,1315.2 1531.1,1315.2 1532.0,1316.8 1535.2,1316.8 1536.1,1317.9 1539.3,1317.9 1540.2,1320.0 1543.3,1320.0 1544.2,1319.8 1547.4,1319.8 1548.3,1318.8 1551.5,1318.8 1552.4,1317.3 1555.5,1317.3 1556.4,1317.4 1559.6,1317.4 1560.5,1317.9 1563.7,1317.9 1564.6,1318.2 1567.7,1318.2 1568.6,1316.6 1571.8,1316.6 1572.7,1317.5 1575.9,1317.5 1576.8,1317.3 1579.9,1317.3 1580.8,1317.3 1584.0,1317.3 1584.9,1318.8 1588.1,1318.8 1589.0,1318.5 1592.1,1318.5 1593.0,1311.5 1596.2,1311.5 1597.1,1306.8 1600.3,1306.8 1601.2,1307.4 1604.3,1307.4 1605.2,1312.1 1608.4,1312.1 1609.3,1310.8 1612.5,1310.8 1613.4,1319.1 1616.5,1319.1 1617.4,1318.4 1620.6,1318.4 1621.5,1317.4 1624.7,1317.4 1625.6,1320.4 1628.7,1320.4 1629.6,1317.8 1632.8,1317.8 1633.7,1314.3 1636.9,1314.3 1637.8,1316.1 1641.0,1316.1 1641.9,1316.7 1645.0,1316.7 1645.9,1316.8 1649.1,1316.8 1650.0,1317.8 1653.2,1317.8 1654.1,1316.1 1657.2,1316.1 1658.1,1318.4 1661.3,1318.4 1662.2,1318.9 1665.4,1318.9 1666.3,1317.9 1669.4,1317.9 1670.3,1316.2 1673.5,1316.2 1674.4,1317.4 1677.6,1317.4 1678.5,1316.7 1681.6,1316.7 1682.5,1322.3 1685.7,1322.3 1686.6,1315.7 1689.8,1315.7 1690.7,1313.3 1693.8,1313.3 1694.7,1315.4 1697.9,1315.4 1698.8,1318.8 1702.0,1318.8 1702.9,1319.9 1706.0,1319.9 1706.9,1317.6 1710.1,1317.6 1711.0,1320.2 1714.2,1320.2 1715.1,1316.7 1718.2,1316.7 1719.1,1319.2 1722.3,1319.2 1723.2,1316.2 1726.4,1316.2 1727.3,1315.4 1730.4,1315.4 1731.3,1322.4 1734.5,1322.4 1735.4,1317.6 1738.6,1317.6 1739.5,1319.6 1742.7,1319.6 1743.6,1321.1 1746.7,1321.1 1747.6,1319.5 1750.8,1319.5 1751.7,1318.7 1754.9,1318.7 1755.8,1316.1 1758.9,1316.1 1759.8,1321.4 1763.0,1321.4 1763.9,1316.1 1767.1,1316.1 1768.0,1314.1 1771.1,1314.1 1772.0,1317.0 1775.2,1317.0 1776.1,1317.1 1779.3,1317.1 1780.2,1318.3 1783.3,1318.3 1784.2,1320.7 1787.4,1320.7 1788.3,1317.2 1791.5,1317.2 1792.4,1317.5 1795.5,1317.5 1796.4,1316.8 1799.6,1316.8 1800.5,1313.0 1803.7,1313.0 1804.6,1316.8 1807.7,1316.8 1808.6,1317.4 1811.8,1317.4 1812.7,1315.1 1815.9,1315.1 1816.8,1321.1 1819.9,1321.1 1820.8,1320.7 1824.0,1320.7 1824.9,1319.1 1828.1,1319.1 1829.0,1319.7 1832.1,1319.7 1833.0,1316.9 1836.2,1316.9 1837.1,1319.0 1840.3,1319.0 1841.2,1314.8 1844.4,1314.8 1845.3,1315.3 1848.4,1315.3 1849.3,1316.8 1852.5,1316.8 1853.4,1319.2 1856.6,1319.2 1857.5,1317.1 1860.6,1317.1 1861.5,1316.7 1864.7,1316.7 1865.6,1320.6 1868.8,1320.6 1869.7,1317.7 1872.8,1317.7 1873.7,1317.0 1876.9,1317.0 1877.8,1318.0 1881.0,1318.0 1881.9,1315.2"/>
<polyline stroke="#FF0000" points="364.5,1313.9 367.7,1313.9 368.6,1318.2 371.7,1318.2 372.6,1316.2 375.8,1316.2 376.7,1318.2 379.9,1318.2 380.8,1315.3 383.9,1315.3 384.8,1318.3 388.0,1318.3 388.9,1314.5 392.1,1314.5 393.0,1315.7 396.1,1315.7 397.0,1314.5 400.2,1314.5 401.1,1316.8 404.3,1316.8 405.2,1319.5 408.3,1319.5 409.2,1312.8 412.4,1312.8 413.3,1316.9 416.5,1316.9 417.4,1313.7 420.6,1313.7 421.5,1315.6 424.6,1315.6 425.5,1315.1 428.7,1315.1 429.6,1312.7 432.8,1312.7 433.7,1315.9 436.8,1315.9 437.7,1313.6 440.9,1313.6 441.8,1319.7 445.0,1319.7 445.9,1314.8 449.0,1314.8 449.9,1317.1 453.1,1317.1 454.0,1316.9 457.2,1316.9 458.1,1316.6 461.2,1316.6 462.1,1315.9 465.3,1315.9 466.2,1313.2 469.4,1313.2 470.3,1320.5 473.4,1320.5 474.3,1316.5 477.5,1316.5 478.4,1318.1 481.6,1318.1 482.5,1314.2 485.6,1314.2 486.5,1317.5 489.7,1317.5 490.6,1315.7 493.8,1315.7 494.7,1317.5 497.8,1317.5 498.7,1315.3 501.9,1315.3 502.8,1314.6 506.0,1314.6 506.9,1317.5 510.0,1317.5 510.9,1316.6 514.1,1316.6 515.0,1319.7 518.2,1319.7 519.1,1316.1 522.3,1316.1 523.2,1314.9 526.3,1314.9 527.2,1317.9 530.4,1317.9 531.3,1314.4 534.5,1314.4 535.4,1321.1 538.5,1321.1 539.4,1320.6 542.6,1320.6 543.5,1319.7 546.7,1319.7 547.6,1317.8 550.7,1317.8 551.6,1316.7 554.8,1316.7 555.7,1317.0 558.9,1317.0 559.8,1316.9 562.9,1316.9 563.8,1315.3 567.0,1315.3 567.9,1317.8 571.1,1317.8 572.0,1319.5 575.1,1319.5 576.0,1319.4 579.2,1319.4 580.1,1312.4 583.3,1312.4 584.2,1321.7 587.3,1321.7 588.2,1317.2 591.4,1317.2 592.3,1313.8 595.5,1313.8 596.4,1315.9 599.5,1315.9 600.4,1318.6 603.6,1318.6 604.5,1316.9 607.7,1316.9 608.6,1315.1 611.7,1315.1 612.6,1314.4 615.8,1314.4 616.7,1318.8 619.9,1318.8 620.8,1315.3 624.0,1315.3 624.9,1316.4 628.0,1316.4 628.9,1314.6 632.1,1314.6 633.0,1314.0 636.2,1314.0 637.1,1317.7 640.2,1317.7 641.1,1320.0 644.3,1320.0 645.2,1316.1 648.4,1316.1 649.3,1313.3 652.4,1313.3 653.3,1315.6 656.5,1315.6 657.4,1316.5 660.6,1316.5 661.5,1312.0 664.6,1312.0 665.5,1319.2 668.7,1319.2 669.6,1315.1 672.8,1315.1 673.7,1318.2 676.8,1318.2 677.7,1316.9 680.9,1316.9 681.8,1316.8 685.0,1316.8 685.9,1313.9 689.0,1313.9 689.9,1319.0 693.1,1319.0 694.0,1318.2 697.2,1318.2 698.1,1320.4 701.2,1320.4 702.1,1316.1 705.3,1316.1 706.2,1318.0 709.4,1318.0 710.3,1316.2 713.4,1316.2 714.3,1319.3 717.5,1319.3 718.4,1317.8 721.6,1317.8 722.5,1314.9 725.7,1314.9 726.6,1317.5 729.7,1317.5 730.6,1315.8 733.8,1315.8 734.7,1316.0 737.9,1316.0 738.8,1317.9 741.9,1317.9 742.8,1320.4 746.0,1320.4 746.9,1315.1 750.1,1315.1 751.0,1316.8 754.1,1316.8 755.0,1315.1 758.2,1315.1 759.1,1321.4 762.3,1321.4 763.2,1320.6 766.3,1320.6 767.2,1321.6 770.4,1321.6 771.3,1319.0 774.5,1319.0 775.4,1315.0 778.5,1315.0 779.4,1316.0 782.6,1316.0 783.5,1317.3 786.7,1317.3 787.6,1316.9 790.7,1316.9 791.6,1313.0 794.8,1313.0 795.7,1309.6 798.9,1309.6 799.8,1315.4 802.9,1315.4 803.8,1317.0 807.0,1317.0 807.9,1321.8 811.1,1321.8 812.0,1318.1 815.1,1318.1 816.0,1314.5 819.2,1314.5 820.1,1318.1 823.3,1318.1 824.2,1317.6 827.4,1317.6 828.3,1318.6 831.4,1318.6 832.3,1318.3 835.5,1318.3 836.4,1315.0 839.6,1315.0 840.5,1317.9 843.6,1317.9 844.5,1319.5 847.7,1319.5 848.6,1323.8 851.8,1323.8 852.7,1318.5 855.8,1318.5 856.7,1321.4 859.9,1321.4 860.8,1321.1 864.0,1321.1 864.9,1315.7 868.0,1315.7 868.9,1315.9 872.1,1315.9 873.0,1321.4 876.2,1321.4 877.1,1315.6 880.2,1315.6 881.1,1316.5 884.3,1316.5 885.2,1319.0 888.4,1319.0 889.3,1315.9 892.4,1315.9 893.3,1320.8 896.5,1320.8 897.4,1319.9 900.6,1319.9 901.5,1320.4 904.6,1320.4 905.5,1319.8 908.7,1319.8 909.6,1315.6 912.8,1315.6 913.7,1320.2 916.8,1320.2 917.7,1319.9 920.9,1319.9 921.8,1319.5 925.0,1319.5 925.9,1317.1 929.1,1317.1 930.0,1318.2 933.1,1318.2 934.0,1315.7 937.2,1315.7 938.1,1319.0 941.3,1319.0 942.2,1320.2 945.3,1320.2 946.2,1318.6 949.4,1318.6 950.3,1317.5 953.5,1317.5 954.4,1319.4 957.5,1319.4 958.4,1314.1 961.6,1314.1 962.5,1296.1 965.7,1296.1 966.6,1294.4 969.7,1294.4 970.6,1309.2 973.8,1309.2 974.7,1314.1 977.9,1314.1 978.8,1318.9 981.9,1318.9 982.8,1319.4 986.0,1319.4 986.9,1318.6 990.1,1318.6 991.0,1304.6 994.1,1304.6 995.0,1312.1 998.2,1312.1 999.1,1317.9 1002.3,1317.9 1003.2,1317.6 1006.3,1317.6 1007.2,1315.0 1010.4,1315.0 1011.3,1315.9 1014.5,1315.9 1015.4,1320.6 1018.5,1320.6 1019.4,1317.7 1022.6,1317.7 1023.5,1317.5 1026.7,1317.5 1027.6,1316.2 1030.8,1316.2 1031.7,1318.2 1034.8,1318.2 1035.7,1319.1 1038.9,1319.1 1039.8,1318.7 1043.0,1318.7 1043.9,1321.4 1047.0,1321.4 1047.9,1317.8 1051.1,1317.8 1052.0,1319.0 1055.2,1319.0 1056.1,1316.8 1059.2,1316.8 1060.1,1319.9 1063.3,1319.9 1064.2,1318.7 1067.4,1318.7 1068.3,1319.8 1071.4,1319.8 1072.3,1320.0 1075.5,1320.0 1076.4,1316.4 1079.6,1316.4 1080.5,1318.8 1083.6,1318.8 1084.5,1316.9 1087.7,1316.9 1088.6,1320.2 1091.8,1320.2 1092.7,1317.7 1095.8,1317.7 1096.7,1321.4 1099.9,1321.4 1100.8,1318.9 1104.0,1318.9 1104.9,1318.9 1108.0,1318.9 1108.9,1316.7 1112.1,1316.7 1113.0,1317.6 1116.2,1317.6 1117.1,1318.3 1120.2,1318.3 1121.1,1316.2 1124.3,1316.2 1125.2,1317.6 1128.4,1317.6 1129.3,1316.9 1132.5,1316.9 1133.4,1316.4 1136.5,1316.4 1137.4,1318.1 1140.6,1318.1 1141.5,1318.6 1144.7,1318.6 1145.6,1317.3 1148.7,1317.3 1149.6,1318.9 1152.8,1318.9 1153.7,1317.2 1156.9,1317.2 1157.8,1315.7 1160.9,1315.7 1161.8,1316.3 1165.0,1316.3 1165.9,1318.8 1169.1,1318.8 1170.0,1320.7 1173.1,1320.7 1174.0,1318.2 1177.2,1318.2 1178.1,1318.3 1181.3,1318.3 1182.2,1315.8 1185.3,1315.8 1186.2,1318.9 1189.4,1318.9 1190.3,1318.5 1193.5,1318.5 1194.4,1316.6 1197.5,1316.6 1198.4,1319.1 1201.6,1319.1 1202.5,1318.4 1205.7,1318.4 1206.6,1314.6 1209.7,1314.6 1210.6,1315.1 1213.8,1315.1 1214.7,1316.8 1217.9,1316.8 1218.8,1317.6 1221.9,1317.6 1222.8,1320.1 1226.0,1320.1 1226.9,1317.0 1230.1,1317.0 1231.0,1318.0 1234.2,1318.0 1235.1,1317.7 1238.2,1317.7 1239.1,1319.2 1242.3,1319.2 1243.2,1318.2 1246.4,1318.2 1247.3,1318.6 1250.4,1318.6 1251.3,1317.6 1254.5,1317.6 1255.4,1315.3 1258.6,1315.3 1259.5,1317.5 1262.6,1317.5 1263.5,1321.6 1266.7,1321.6 1267.6,1320.2 1270.8,1320.2 1271.7,1321.5 1274.8,1321.5 1275.7,1319.9 1278.9,1319.9 1279.8,1317.1 1283.0,1317.1 1283.9,1317.4 1287.0,1317.4 1287.9,1319.5 1291.1,1319.5 1292.0,1317.7 1295.2,1317.7 1296.1,1319.8 1299.2,1319.8 1300.1,1321.2 1303.3,1321.2 1304.2,1321.2 1307.4,1321.2 1308.3,1320.1 1311.4,1320.1 1312.3,1315.4 1315.5,1315.4 1316.4,1321.1 1319.6,1321.1 1320.5,1315.8 1323.6,1315.8 1324.5,1315.6 1327.7,1315.6 1328.6,1318.7 1331.8,1318.7 1332.7,1318.5 1335.9,1318.5 1336.8,1319.6 1339.9,1319.6 1340.8,1318.4 1344.0,1318.4 1344.9,1317.0 1348.1,1317.0 1349.0,1318.4 1352.1,1318.4 1353.0,1316.4 1356.2,1316.4 1357.1,1316.0 1360.3,1316.0 1361.2,1317.7 1364.3,1317.7 1365.2,1317.8 1368.4,1317.8 1369.3,1318.6 1372.5,1318.6 1373.4,1317.7 1376.5,1317.7 1377.4,1320.7 1380.6,1320.7 1381.5,1317.6 1384.7,1317.6 1385.6,1318.0 1388.7,1318.0 1389.6,1320.2 1392.8,1320.2 1393.7,1314.1 1396.9,1314.1 1397.8,1320.5 1400.9,1320.5 1401.8,1320.3 1405.0,1320.3 1405.9,1317.9 1409.1,1317.9 1410.0,1322.5 1413.1,1322.5 1414.0,1320.1 1417.2,1320.1 1418.1,1321.7 1421.3,1321.7 1422.2,1320.5 1425.3,1320.5 1426.2,1318.8 1429.4,1318.8 1430.3,1317.9 1433.5,1317.9 1434.4,1316.3 1437.6,1316.3 1438.5,1316.9 1441.6,1316.9 1442.5,1316.1 1445.7,1316.1 1446.6,1317.4 1449.8,1317.4 1450.7,1319.6 1453.8,1319.6 1454.7,1316.3 1457.9,1316.3 1458.8,1319.6 1462.0,1319.6 1462.9,1319.9 1466.0,1319.9 1466.9,1315.5 1470.1,1315.5 1471.0,1317.0 1474.2,1317.0 1475.1,1318.2 1478.2,1318.2 1479.1,1317.1 1482.3,1317.1 1483.2,1316.9 1486.4,1316.9 1487.3,1321.5 1490.4,1321.5 1491.3,1318.9 1494.5,1318.9 1495.4,1321.1 1498.6,1321.1 1499.5,1318.4 1502.6,1318.4 1503.5,1320.1 1506.7,1320.1 1507.6,1315.9 1510.8,1315.9 1511.7,1317.6 1514.8,1317.6 1515.7,1320.4 1518.9,1320.4 1519.8,1318.8 1523.0,1318.8 1523.9,1321.2 1527.0,1321.2 1527.9,1318.7 1531.1,1318.7 1532.0,1317.6 1535.2,1317.6 1536.1,1318.2 1539.3,1318.2 1540.2,1322.7 1543.3,1322.7 1544.2,1319.5 1547.4,1319.5 1548.3,1317.7 1551.5,1317.7 1552.4,1318.2 1555.5,1318.2 1556.4,1316.4 1559.6,1316.4 1560.5,1321.4 1563.7,1321.4 1564.6,1317.7 1567.7,1317.7 1568.6,1320.2 1571.8,1320.2 1572.7,1318.4 1575.9,1318.4 1576.8,1318.0 1579.9,1318.0 1580.8,1317.4 1584.0,1317.4 1584.9,1320.0 1588.1,1320.0 1589.0,1318.5 1592.1,1318.5 1593.0,1321.3 1596.2,1321.3 1597.1,1321.8 1600.3,1321.8 1601.2,1317.7 1604.3,1317.7 1605.2,1319.0 1608.4,1319.0 1609.3,1322.2 1612.5,1322.2 1613.4,1320.6 1616.5,1320.6 1617.4,1318.9 1620.6,1318.9 1621.5,1315.7 1624.7,1315.7 1625.6,1316.8 1628.7,1316.8 1629.6,1317.3 1632.8,1317.3 1633.7,1322.6 1636.9,1322.6 1637.8,1319.2 1641.0,1319.2 1641.9,1318.0 1645.0,1318.0 1645.9,1318.2 1649.1,1318.2 1650.0,1318.1 1653.2,1318.1 1654.1,1319.5 1657.2,1319.5 1658.1,1315.4 1661.3,1315.4 1662.2,1316.0 1665.4,1316.0 1666.3,1319.2 1669.4,1319.2 1670.3,1321.0 1673.5,1321.0 1674.4,1314.8 1677.6,1314.8 1678.5,1320.2 1681.6,1320.2 1682.5,1316.6 1685.7,1316.6 1686.6,1315.1 1689.8,1315.1 1690.7,1321.0 1693.8,1321.0 1694.7,1318.5 1697.9,1318.5 1698.8,1319.8 1702.0,1319.8 1702.9,1318.0 1706.0,1318.0 1706.9,1318.4 1710.1,1318.4 1711.0,1315.1 1714.2,1315.1 1715.1,1317.9 1718.2,1317.9 1719.1,1319.1 1722.3,1319.1 1723.2,1316.8 1726.4,1316.8 1727.3,1319.7 1730.4,1319.7 1731.3,1319.9 1734.5,1319.9 1735.4,1314.6 1738.6,1314.6 1739.5,1320.8 1742.7,1320.8 1743.6,1320.2 1746.7,1320.2 1747.6,1319.1 1750.8,1319.1 1751.7,1321.3 1754.9,1321.3 1755.8,1323.5 1758.9,1323.5 1759.8,1317.0 1763.0,1317.0 1763.9,1320.8 1767.1,1320.8 1768.0,1320.3 1771.1,1320.3 1772.0,1320.0 1775.2,1320.0 1776.1,1321.2 1779.3,1321.2 1780.2,1321.4 1783.3,1321.4 1784.2,1318.9 1787.4,1318.9 1788.3,1314.3 1791.5,1314.3 1792.4,1317.7 1795.5,1317.7 1796.4,1317.7 1799.6,1317.7 1800.5,1322.3 1803.7,1322.3 1804.6,1319.3 1807.7,1319.3 1808.6,1321.7 1811.8,1321.7 1812.7,1317.7 1815.9,1317.7 1816.8,1319.8 1819.9,1319.8 1820.8,1319.2 1824.0,1319.2 1824.9,1319.5 1828.1,1319.5 1829.0,1320.5 1832.1,1320.5 1833.0,1322.4 1836.2,1322.4 1837.1,1318.1 1840.3,1318.1 1841.2,1322.2 1844.4,1322.2 1845.3,1321.8 1848.4,1321.8 1849.3,1320.0 1852.5,1320.0 1853.4,1320.8 1856.6,1320.8 1857.5,1318.8 1860.6,1318.8 1861.5,1317.3 1864.7,1317.3 1865.6,1318.9 1868.8,1318.9 1869.7,1319.0 1872.8,1319.0 1873.7,1319.4 1876.9,1319.4 1877.8,1317.7 1881.0,1317.7 1881.9,1323.2"/>
<polyline stroke="#00CC00" points="364.5,1310.2 367.7,1310.2 368.6,1309.5 371.7,1309.5 372.6,1309.9 375.8,1309.9 376.7,1312.7 379.9,1312.7 380.8,1310.7 383.9,1310.7 384.8,1305.4 388.0,1305.4 388.9,1312.3 392.1,1312.3 393.0,1313.7 396.1,1313.7 397.0,1309.5 400.2,1309.5 401.1,1308.8 404.3,1308.8 405.2,1309.1 408.3,1309.1 409.2,1312.6 412.4,1312.6 413.3,1307.9 416.5,1307.9 417.4,1311.8 420.6,1311.8 421.5,1312.6 424.6,1312.6 425.5,1311.4 428.7,1311.4 429.6,1310.3 432.8,1310.3 433.7,1308.5 436.8,1308.5 437.7,1308.7 440.9,1308.7 441.8,1310.2 445.0,1310.2 445.9,1308.1 449.0,1308.1 449.9,1309.9 453.1,1309.9 454.0,1308.1 457.2,1308.1 458.1,1313.2 461.2,1313.2 462.1,1313.6 465.3,1313.6 466.2,1308.3 469.4,1308.3 470.3,1313.0 473.4,1313.0 474.3,1310.5 477.5,1310.5 478.4,1310.0 481.6,1310.0 482.5,1310.7 485.6,1310.7 486.5,1310.5 489.7,1310.5 490.6,1306.3 493.8,1306.3 494.7,1314.9 497.8,1314.9 498.7,1307.2 501.9,1307.2 502.8,1303.9 506.0,1303.9 506.9,1308.7 510.0,1308.7 510.9,1308.6 514.1,1308.6 515.0,1306.7 518.2,1306.7 519.1,1304.0 522.3,1304.0 523.2,1310.4 526.3,1310.4 527.2,1307.3 530.4,1307.3 531.3,1307.5 534.5,1307.5 535.4,1305.5 538.5,1305.5 539.4,1306.0 542.6,1306.0 543.5,1304.4 546.7,1304.4 547.6,1306.4 550.7,1306.4 551.6,1304.8 554.8,1304.8 555.7,1305.9 558.9,1305.9 559.8,1305.4 562.9,1305.4 563.8,1303.6 567.0,1303.6 567.9,1303.0 571.1,1303.0 572.0,1304.8 575.1,1304.8 576.0,1297.8 579.2,1297.8 580.1,1301.2 583.3,1301.2 584.2,1303.7 587.3,1303.7 588.2,1297.5 591.4,1297.5 592.3,1301.6 595.5,1301.6 596.4,1298.4 599.5,1298.4 600.4,1299.4 603.6,1299.4 604.5,1298.6 607.7,1298.6 608.6,1298.7 611.7,1298.7 612.6,1300.3 615.8,1300.3 616.7,1298.8 619.9,1298.8 620.8,1294.0 624.0,1294.0 624.9,1304.1 628.0,1304.1 628.9,1298.6 632.1,1298.6 633.0,1297.6 636.2,1297.6 637.1,1301.0 640.2,1301.0 641.1,1301.5 644.3,1301.5 645.2,1292.6 648.4,1292.6 649.3,1298.2 652.4,1298.2 653.3,1291.7 656.5,1291.7 657.4,1294.9 660.6,1294.9 661.5,1295.5 664.6,1295.5 665.5,1294.1 668.7,1294.1 669.6,1293.3 672.8,1293.3 673.7,1291.5 676.8,1291.5 677.7,1292.9 680.9,1292.9 681.8,1293.2 685.0,1293.2 685.9,1292.7 689.0,1292.7 689.9,1289.3 693.1,1289.3 694.0,1290.0 697.2,1290.0 698.1,1293.9 701.2,1293.9 702.1,1292.2 705.3,1292.2 706.2,1288.6 709.4,1288.6 710.3,1289.5 713.4,1289.5 714.3,1287.3 717.5,1287.3 718.4,1287.3 721.6,1287.3 722.5,1284.0 725.7,1284.0 726.6,1280.5 729.7,1280.5 730.6,1277.2 733.8,1277.2 734.7,1277.9 737.9,1277.9 738.8,1270.2 741.9,1270.2 742.8,1273.8 746.0,1273.8 746.9,1262.3 750.1,1262.3 751.0,1265.8 754.1,1265.8 755.0,1264.3 758.2,1264.3 759.1,1263.9 762.3,1263.9 763.2,1267.4 766.3,1267.4 767.2,1255.9 770.4,1255.9 771.3,1250.8 774.5,1250.8 775.4,1240.7 778.5,1240.7 779.4,1243.8 782.6,1243.8 783.5,1224.6 786.7,1224.6 787.6,1222.2 790.7,1222.2 791.6,1208.0 794.8,1208.0 795.7,1206.4 798.9,1206.4 799.8,1183.0 802.9,1183.0 803.8,1170.1 807.0,1170.1 807.9,1134.7 811.1,1134.7 812.0,1086.9 815.1,1086.9 816.0,1048.3 819.2,1048.3 820.1,997.5 823.3,997.5 824.2,943.3 827.4,943.3 828.3,859.1 831.4,859.1 832.3,782.7 835.5,782.7 836.4,717.5 839.6,717.5 840.5,687.5 843.6,687.5 844.5,678.5 847.7,678.5 848.6,668.0 851.8,668.0 852.7,644.3 855.8,644.3 856.7,654.9 859.9,654.9 860.8,674.4 864.0,674.4 864.9,723.3 868.0,723.3 868.9,783.1 872.1,783.1 873.0,843.6 876.2,843.6 877.1,900.4 880.2,900.4 881.1,987.3 884.3,987.3 885.2,1012.5 888.4,1012.5 889.3,1050.9 892.4,1050.9 893.3,1078.9 896.5,1078.9 897.4,1103.0 900.6,1103.0 901.5,1116.2 904.6,1116.2 905.5,1118.6 908.7,1118.6 909.6,1124.6 912.8,1124.6 913.7,1133.3 916.8,1133.3 917.7,1135.8 920.9,1135.8 921.8,1138.5 925.0,1138.5 925.9,1140.1 929.1,1140.1 930.0,1126.3 933.1,1126.3 934.0,1122.9 937.2,1122.9 938.1,1105.0 941.3,1105.0 942.2,1112.2 945.3,1112.2 946.2,1102.1 949.4,1102.1 950.3,1090.0 953.5,1090.0 954.4,1088.0 957.5,1088.0 958.4,1084.4 961.6,1084.4 962.5,1068.1 965.7,1068.1 966.6,1050.7 969.7,1050.7 970.6,1045.3 973.8,1045.3 974.7,1040.2 977.9,1040.2 978.8,1024.9 981.9,1024.9 982.8,1014.0 986.0,1014.0 986.9,1005.4 990.1,1005.4 991.0,996.0 994.1,996.0 995.0,986.8 998.2,986.8 999.1,968.7 1002.3,968.7 1003.2,951.6 1006.3,951.6 1007.2,946.3 1010.4,946.3 1011.3,936.4 1014.5,936.4 1015.4,936.2 1018.5,936.2 1019.4,940.0 1022.6,940.0 1023.5,935.7 1026.7,935.7 1027.6,924.2 1030.8,924.2 1031.7,925.4 1034.8,925.4 1035.7,918.4 1038.9,918.4 1039.8,927.0 1043.0,927.0 1043.9,922.1 1047.0,922.1 1047.9,921.1 1051.1,921.1 1052.0,929.2 1055.2,929.2 1056.1,946.8 1059.2,946.8 1060.1,953.5 1063.3,953.5 1064.2,963.6 1067.4,963.6 1068.3,982.8 1071.4,982.8 1072.3,987.2 1075.5,987.2 1076.4,996.8 1079.6,996.8 1080.5,1015.8 1083.6,1015.8 1084.5,1012.6 1087.7,1012.6 1088.6,1032.5 1091.8,1032.5 1092.7,1038.5 1095.8,1038.5 1096.7,1043.8 1099.9,1043.8 1100.8,1051.5 1104.0,1051.5 1104.9,1051.6 1108.0,1051.6 1108.9,1060.0 1112.1,1060.0 1113.0,1060.8 1116.2,1060.8 1117.1,1075.2 1120.2,1075.2 1121.1,1082.1 1124.3,1082.1 1125.2,1090.4 1128.4,1090.4 1129.3,1100.0 1132.5,1100.0 1133.4,1097.6 1136.5,1097.6 1137.4,1104.5 1140.6,1104.5 1141.5,1099.4 1144.7,1099.4 1145.6,1106.5 1148.7,1106.5 1149.6,1101.1 1152.8,1101.1 1153.7,1107.1 1156.9,1107.1 1157.8,1108.3 1160.9,1108.3 1161.8,1112.5 1165.0,1112.5 1165.9,1114.2 1169.1,1114.2 1170.0,1114.2 1173.1,1114.2 1174.0,1115.2 1177.2,1115.2 1178.1,1124.1 1181.3,1124.1 1182.2,1119.5 1185.3,1119.5 1186.2,1109.5 1189.4,1109.5 1190.3,1119.7 1193.5,1119.7 1194.4,1118.3 1197.5,1118.3 1198.4,1116.3 1201.6,1116.3 1202.5,1114.4 1205.7,1114.4 1206.6,1096.4 1209.7,1096.4 1210.6,1095.2 1213.8,1095.2 1214.7,1089.9 1217.9,1089.9 1218.8,1079.3 1221.9,1079.3 1222.8,1073.2 1226.0,1073.2 1226.9,1086.7 1230.1,1086.7 1231.0,1075.6 1234.2,1075.6 1235.1,1076.0 1238.2,1076.0 1239.1,1075.8 1242.3,1075.8 1243.2,1074.3 1246.4,1074.3 1247.3,1075.6 1250.4,1075.6 1251.3,1066.7 1254.5,1066.7 1255.4,1070.0 1258.6,1070.0 1259.5,1069.8 1262.6,1069.8 1263.5,1064.3 1266.7,1064.3 1267.6,1065.2 1270.8,1065.2 1271.7,1067.1 1274.8,1067.1 1275.7,1067.8 1278.9,1067.8 1279.8,1060.9 1283.0,1060.9 1283.9,1066.9 1287.0,1066.9 1287.9,1070.0 1291.1,1070.0 1292.0,1074.7 1295.2,1074.7 1296.1,1073.7 1299.2,1073.7 1300.1,1078.7 1303.3,1078.7 1304.2,1075.2 1307.4,1075.2 1308.3,1077.2 1311.4,1077.2 1312.3,1091.7 1315.5,1091.7 1316.4,1089.0 1319.6,1089.0 1320.5,1094.7 1323.6,1094.7 1324.5,1103.3 1327.7,1103.3 1328.6,1113.5 1331.8,1113.5 1332.7,1108.8 1335.9,1108.8 1336.8,1124.0 1339.9,1124.0 1340.8,1133.6 1344.0,1133.6 1344.9,1140.1 1348.1,1140.1 1349.0,1142.6 1352.1,1142.6 1353.0,1145.4 1356.2,1145.4 1357.1,1151.9 1360.3,1151.9 1361.2,1163.4 1364.3,1163.4 1365.2,1176.4 1368.4,1176.4 1369.3,1181.4 1372.5,1181.4 1373.4,1188.7 1376.5,1188.7 1377.4,1192.0 1380.6,1192.0 1381.5,1203.7 1384.7,1203.7 1385.6,1202.3 1388.7,1202.3 1389.6,1205.5 1392.8,1205.5 1393.7,1212.8 1396.9,1212.8 1397.8,1214.7 1400.9,1214.7 1401.8,1223.3 1405.0,1223.3 1405.9,1228.6 1409.1,1228.6 1410.0,1229.1 1413.1,1229.1 1414.0,1226.1 1417.2,1226.1 1418.1,1229.4 1421.3,1229.4 1422.2,1236.8 1425.3,1236.8 1426.2,1233.7 1429.4,1233.7 1430.3,1240.8 1433.5,1240.8 1434.4,1237.0 1437.6,1237.0 1438.5,1242.1 1441.6,1242.1 1442.5,1246.9 1445.7,1246.9 1446.6,1244.8 1449.8,1244.8 1450.7,1251.5 1453.8,1251.5 1454.7,1253.8 1457.9,1253.8 1458.8,1257.1 1462.0,1257.1 1462.9,1253.7 1466.0,1253.7 1466.9,1256.3 1470.1,1256.3 1471.0,1258.0 1474.2,1258.0 1475.1,1260.6 1478.2,1260.6 1479.1,1256.7 1482.3,1256.7 1483.2,1263.6 1486.4,1263.6 1487.3,1265.9 1490.4,1265.9 1491.3,1261.6 1494.5,1261.6 1495.4,1262.4 1498.6,1262.4 1499.5,1266.8 1502.6,1266.8 1503.5,1274.0 1506.7,1274.0 1507.6,1272.0 1510.8,1272.0 1511.7,1269.8 1514.8,1269.8 1515.7,1272.6 1518.9,1272.6 1519.8,1269.5 1523.0,1269.5 1523.9,1278.6 1527.0,1278.6 1527.9,1274.1 1531.1,1274.1 1532.0,1278.7 1535.2,1278.7 1536.1,1274.5 1539.3,1274.5 1540.2,1279.3 1543.3,1279.3 1544.2,1277.2 1547.4,1277.2 1548.3,1282.5 1551.5,1282.5 1552.4,1285.4 1555.5,1285.4 1556.4,1285.3 1559.6,1285.3 1560.5,1284.8 1563.7,1284.8 1564.6,1286.7 1567.7,1286.7 1568.6,1281.6 1571.8,1281.6 1572.7,1282.1 1575.9,1282.1 1576.8,1285.7 1579.9,1285.7 1580.8,1289.9 1584.0,1289.9 1584.9,1288.4 1588.1,1288.4 1589.0,1290.6 1592.1,1290.6 1593.0,1286.0 1596.2,1286.0 1597.1,1289.7 1600.3,1289.7 1601.2,1290.1 1604.3,1290.1 1605.2,1293.3 1608.4,1293.3 1609.3,1298.2 1612.5,1298.2 1613.4,1296.3 1616.5,1296.3 1617.4,1298.6 1620.6,1298.6 1621.5,1296.7 1624.7,1296.7 1625.6,1299.0 1628.7,1299.0 1629.6,1302.1 1632.8,1302.1 1633.7,1301.5 1636.9,1301.5 1637.8,1297.3 1641.0,1297.3 1641.9,1303.5 1645.0,1303.5 1645.9,1303.6 1649.1,1303.6 1650.0,1302.2 1653.2,1302.2 1654.1,1303.4 1657.2,1303.4 1658.1,1302.9 1661.3,1302.9 1662.2,1300.8 1665.4,1300.8 1666.3,1298.1 1669.4,1298.1 1670.3,1306.4 1673.5,1306.4 1674.4,1302.5 1677.6,1302.5 1678.5,1302.5 1681.6,1302.5 1682.5,1303.1 1685.7,1303.1 1686.6,1303.6 1689.8,1303.6 1690.7,1304.3 1693.8,1304.3 1694.7,1301.5 1697.9,1301.5 1698.8,1305.3 1702.0,1305.3 1702.9,1304.9 1706.0,1304.9 1706.9,1305.0 1710.1,1305.0 1711.0,1305.1 1714.2,1305.1 1715.1,1306.1 1718.2,1306.1 1719.1,1303.8 1722.3,1303.8 1723.2,1306.4 1726.4,1306.4 1727.3,1306.3 1730.4,1306.3 1731.3,1307.2 1734.5,1307.2 1735.4,1309.6 1738.6,1309.6 1739.5,1309.6 1742.7,1309.6 1743.6,1310.4 1746.7,1310.4 1747.6,1307.9 1750.8,1307.9 1751.7,1310.3 1754.9,1310.3 1755.8,1311.4 1758.9,1311.4 1759.8,1308.8 1763.0,1308.8 1763.9,1308.5 1767.1,1308.5 1768.0,1313.9 1771.1,1313.9 1772.0,1306.7 1775.2,1306.7 1776.1,1310.8 1779.3,1310.8 1780.2,1311.5 1783.3,1311.5 1784.2,1309.3 1787.4,1309.3 1788.3,1311.8 1791.5,1311.8 1792.4,1313.6 1795.5,1313.6 1796.4,1307.9 1799.6,1307.9 1800.5,1315.2 1803.7,1315.2 1804.6,1313.3 1807.7,1313.3 1808.6,1311.5 1811.8,1311.5 1812.7,1315.9 1815.9,1315.9 1816.8,1314.1 1819.9,1314.1 1820.8,1313.2 1824.0,1313.2 1824.9,1309.2 1828.1,1309.2 1829.0,1316.4 1832.1,1316.4 1833.0,1314.8 1836.2,1314.8 1837.1,1313.5 1840.3,1313.5 1841.2,1314.9 1844.4,1314.9 1845.3,1317.8 1848.4,1317.8 1849.3,1314.5 1852.5,1314.5 1853.4,1313.8 1856.6,1313.8 1857.5,1306.3 1860.6,1306.3 1861.5,1304.5 1864.7,1304.5 1865.6,1312.1 1868.8,1312.1 1869.7,1315.2 1872.8,1315.2 1873.7,1315.6 1876.9,1315.6 1877.8,1318.6 1881.0,1318.6 1881.9,1316.6"/>
</g>
<g font-family="Liberation Sans, Arial, sans-serif" font-size="80" fill="#000" stroke="#000" stroke-width="0.9">
<text x="367.0" y="1441.5" text-anchor="middle">600</text>
<text x="593.0" y="1441.5" text-anchor="middle">605</text>
<text x="819.0" y="1441.5" text-anchor="middle">610</text>
<text x="1045.0" y="1441.5" text-anchor="middle">615</text>
<text x="1271.0" y="1441.5" text-anchor="middle">620</text>
<text x="1497.0" y="1441.5" text-anchor="middle">625</text>
<text x="1723.0" y="1441.5" text-anchor="middle">630</text>
<text x="325.5" y="1073.5" text-anchor="end">100</text>
<text x="325.5" y="787.7" text-anchor="end">200</text>
<text x="325.5" y="501.9" text-anchor="end">300</text>
<text x="325.5" y="216.1" text-anchor="end">400</text>
</g>
<text x="0" y="0" transform="translate(1126.5,1568) scale(1.0895,1)" text-anchor="middle" font-family="Liberation Sans, Arial, sans-serif" font-weight="bold" font-size="82" fill="#000" stroke="#000" stroke-width="3.2" stroke-linejoin="round">Wavelength (nm)</text>
<text x="0" y="0" transform="translate(88,681) rotate(-90) scale(1.113,1)" text-anchor="middle" font-family="Liberation Sans, Arial, sans-serif" font-weight="bold" font-size="82" fill="#000" stroke="#000" stroke-width="3.2" stroke-linejoin="round">Intensity (arb. units)</text>
<g font-family="Liberation Sans, Arial, sans-serif" font-size="65" fill="#000" stroke="#000" stroke-width="0.7">
<line x1="1413" y1="121.5" x2="1533" y2="121.5" stroke="#000000" stroke-width="12"/>
<text x="1629.5" y="141.5" text-anchor="middle">0</text>
<text x="1716" y="141.5">nM</text>
<line x1="1413" y1="192.3" x2="1533" y2="192.3" stroke="#7F00A8" stroke-width="12"/>
<text x="1629.5" y="212.3" text-anchor="middle">8</text>
<text x="1716" y="212.3">nM</text>
<line x1="1413" y1="263.1" x2="1533" y2="263.1" stroke="#0000FF" stroke-width="12"/>
<text x="1629.5" y="283.1" text-anchor="middle">42</text>
<text x="1716" y="283.1">nM</text>
<line x1="1413" y1="333.9" x2="1533" y2="333.9" stroke="#00F0FF" stroke-width="12"/>
<text x="1629.5" y="353.9" text-anchor="middle">83</text>
<text x="1716" y="353.9">nM</text>
<line x1="1413" y1="404.7" x2="1533" y2="404.7" stroke="#FF0000" stroke-width="12"/>
<text x="1629.5" y="424.7" text-anchor="middle">167</text>
<text x="1716" y="424.7">nM</text>
<line x1="1413" y1="475.5" x2="1533" y2="475.5" stroke="#AA0000" stroke-width="12"/>
<text x="1629.5" y="495.5" text-anchor="middle">250</text>
<text x="1716" y="495.5">nM</text>
<line x1="1413" y1="546.2" x2="1533" y2="546.2" stroke="#550000" stroke-width="12"/>
<text x="1629.5" y="566.2" text-anchor="middle">333</text>
<text x="1716" y="566.2">nM</text>
<line x1="1413" y1="617.0" x2="1533" y2="617.0" stroke="#4CFF00" stroke-width="12"/>
<text x="1629.5" y="637.0" text-anchor="middle">417</text>
<text x="1716" y="637.0">nM</text>
<line x1="1413" y1="687.8" x2="1533" y2="687.8" stroke="#00CC00" stroke-width="12"/>
<text x="1629.5" y="707.8" text-anchor="middle">625</text>
<text x="1716" y="707.8">nM</text>
<line x1="1413" y1="758.6" x2="1533" y2="758.6" stroke="#0088CC" stroke-width="12"/>
<text x="1629.5" y="778.6" text-anchor="middle">834</text>
<text x="1716" y="778.6">nM</text>
<line x1="1413" y1="829.4" x2="1533" y2="829.4" stroke="#FF8800" stroke-width="12"/>
<text x="1629.5" y="849.4" text-anchor="middle">4168</text>
<text x="1716" y="849.4">nM</text>
<line x1="1413" y1="900.2" x2="1533" y2="900.2" stroke="#FF0000" stroke-width="12"/>
<text x="1629.5" y="920.2" text-anchor="middle">8335</text>
<text x="1716" y="920.2">nM</text>
</g>
</svg>
</body></html>
